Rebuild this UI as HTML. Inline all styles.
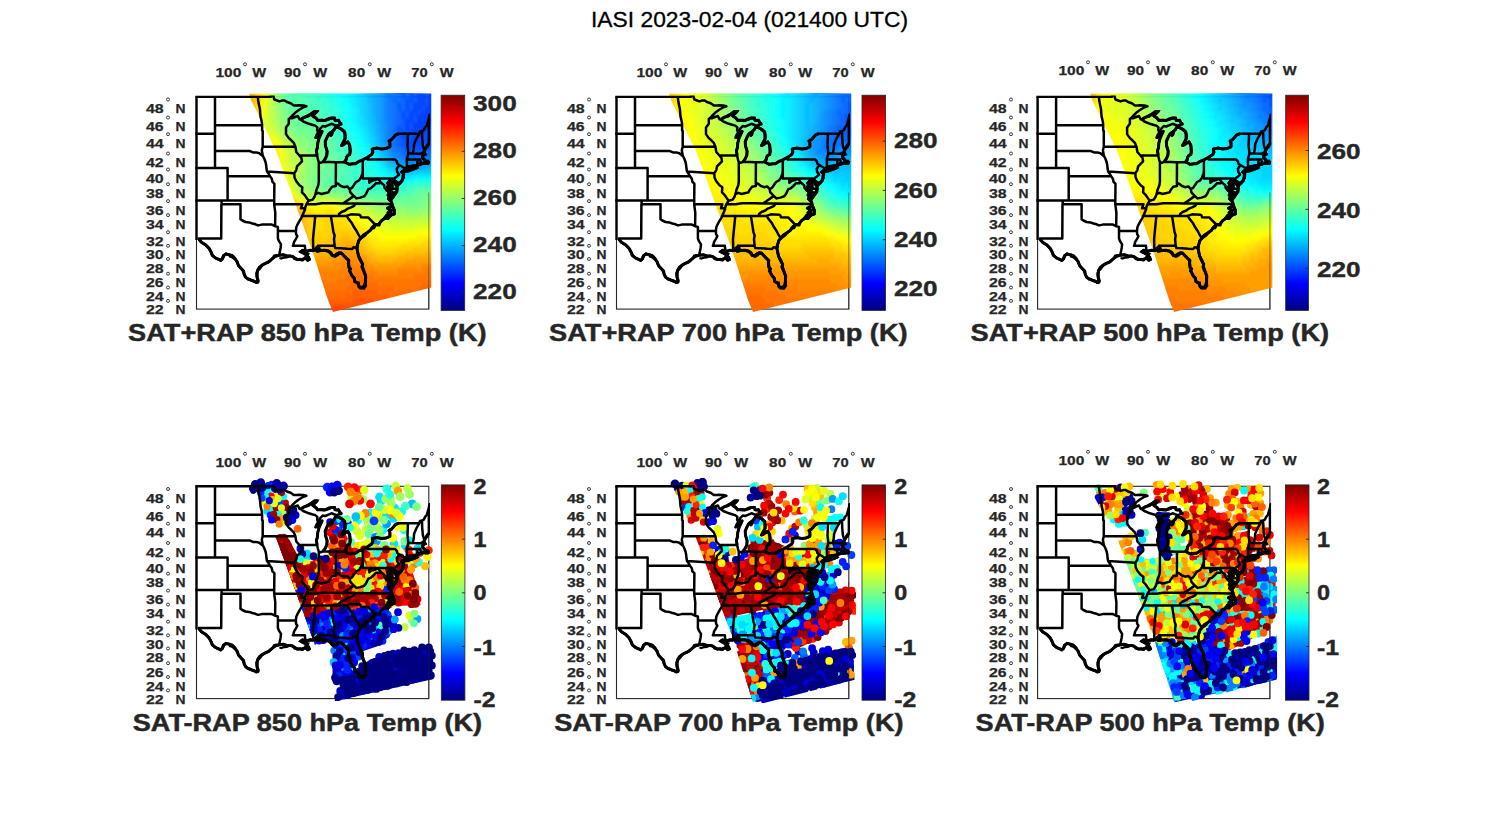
<!DOCTYPE html>
<html><head><meta charset="utf-8"><style>html,body{margin:0;padding:0;background:#fff;}svg{display:block;}</style></head>
<body><svg width="1500" height="825" viewBox="0 0 1500 825" font-family="'Liberation Sans', sans-serif">
<defs><linearGradient id="jet" x1="0" y1="1" x2="0" y2="0"><stop offset="0" stop-color="#000080"/><stop offset="0.125" stop-color="#0000ff"/><stop offset="0.375" stop-color="#00ffff"/><stop offset="0.625" stop-color="#ffff00"/><stop offset="0.875" stop-color="#ff0000"/><stop offset="1" stop-color="#800000"/></linearGradient><filter id="blur" x="-5%" y="-5%" width="110%" height="110%"><feGaussianBlur stdDeviation="1.6"/></filter><clipPath id="fc"><rect x="-1.2" y="-1.2" width="234.7" height="214.7"/></clipPath><g id="map"><path d="M-6.3,0.0 74.4,0.0 74.4,-3.6 76.4,-3.1 77.4,1.4 77.9,2.7 82.9,4.6 85.4,3.8 88.2,3.6 90.4,5.2 94.2,6.5 97.3,8.8 100.5,8.8 102.0,8.5 106.7,8.7 109.9,9.5M109.9,9.5 106.1,10.9 102.3,13.2 98.6,16.0 95.4,19.2 93.6,21.3M93.6,21.3 92.3,22.0 92.3,27.0 89.5,30.6 89.5,34.2 89.5,37.3 92.3,41.3 94.8,43.5 97.3,46.1 98.9,50.0M93.6,21.3 95.4,21.5 98.6,20.2 101.4,19.2 103.0,22.4 104.1,22.7M104.1,22.7 107.4,20.6 111.8,19.2 115.5,16.5 118.0,14.6 120.6,14.6 117.7,17.4 116.5,19.2 119.3,21.1 121.2,23.4 123.7,23.4 128.1,23.8 131.9,22.0 135.0,21.1 138.1,21.1 138.5,23.4 140.6,23.8 141.9,23.4 143.5,26.1 145.0,27.4M145.0,27.4 141.9,28.2 140.0,28.8 137.5,27.9 135.0,27.0 131.9,28.4 128.7,29.7 126.2,29.3 125.3,30.2 123.7,31.9 122.8,34.2 121.8,36.0M104.1,22.7 106.7,24.7 112.4,27.0 115.5,27.9 118.7,28.8 120.9,30.6 120.6,33.3 121.8,36.0M121.8,36.0 120.2,38.6 119.3,40.8 121.8,38.6 124.3,36.0 125.6,34.6 124.0,38.2 122.8,40.4 122.1,43.0 121.2,46.5 120.9,50.9 119.9,53.9 120.6,58.6M120.6,58.6 121.5,62.8 122.3,65.4M122.3,65.4 124.3,66.0 126.7,64.9M126.7,64.9 128.7,62.0 130.3,58.6 130.6,54.3 129.0,49.1 128.7,44.8 130.6,40.4 132.2,37.3 134.4,35.5 134.4,38.6 135.3,37.7 135.9,34.6 137.8,32.8 139.1,30.2M139.1,30.2 142.5,31.1 145.7,32.8 148.2,35.1 148.5,38.2 148.5,42.2 146.9,45.2 145.0,48.7 147.2,47.8 149.4,46.1 151.3,45.2 153.2,48.3 153.8,54.3 153.2,57.7 151.3,58.6 150.1,60.3 149.4,63.3 147.9,65.1M147.9,65.1 150.1,66.2 152.6,67.5 157.0,67.0 158.9,67.0 162.0,64.9 166.3,63.0 171.0,60.5 175.2,57.7 176.4,55.2 175.5,52.2M175.5,52.2 180.2,51.3 185.2,52.2 189.6,51.7 193.4,50.0 193.4,46.1 192.5,44.3 195.3,42.6 199.0,38.2 202.5,36.9M202.5,36.9 222.9,36.8 223.5,34.6 225.5,34.2 227.3,33.3 228.6,30.6 230.4,28.4 232.3,21.5 233.0,17.9M233.6,46.1 231.1,48.3 228.6,52.6 227.3,55.4 228.6,57.3 226.0,59.0 226.4,61.1 228.2,63.3 228.9,64.9 232.3,64.9M232.3,66.6 228.6,66.6 226.7,66.2 225.4,67.0 223.5,67.5 222.9,67.0 220.7,68.5 216.6,69.1 213.5,69.6 209.4,71.4 208.5,72.5 207.2,73.7M208.5,72.7 212.2,71.6 216.0,71.2 219.8,70.4 220.4,70.8 216.6,72.5 212.2,74.1 207.8,74.8M207.2,73.7 205.6,75.4 207.2,77.0 206.9,81.1 205.3,84.0 203.4,86.0 201.6,88.2 201.2,86.4 199.7,85.2 197.8,83.6 197.5,82.5M197.5,82.5 198.1,85.2 199.0,87.6 200.3,89.2 200.6,92.0 200.0,94.8 198.4,97.2 196.8,100.0 195.0,102.4M195.0,102.4 195.3,98.8 194.6,96.4 195.6,95.2 193.4,93.2 194.6,92.0 192.8,89.6 194.0,88.0 193.1,86.0 194.3,84.4 194.0,83.2M194.0,83.2 192.1,85.2 191.2,86.4 192.1,88.0 191.2,90.0 192.1,92.4 190.3,93.2 192.5,94.8 192.8,96.0 191.5,98.4 192.8,99.6 192.1,102.0 193.4,103.6 194.6,104.2 195.0,105.5 195.5,107.1M195.5,107.1 196.5,110.6 197.8,113.3 197.8,117.2 195.3,117.9 193.4,119.5 191.5,121.8 188.4,121.4 185.2,123.7 183.0,126.3 182.4,127.8 178.6,127.7M195.3,109.8 190.9,111.4 194.6,113.7 191.5,116.0 194.6,116.4 189.6,119.1 192.8,119.8M178.6,127.7 175.2,131.2 173.9,133.5 170.2,136.1 167.0,138.3 165.1,140.2 164.2,141.3M164.2,141.3 162.3,143.9 161.4,146.8 160.4,149.8 160.4,151.2M160.4,151.2 161.1,154.9 162.0,159.2 163.9,163.5 166.1,167.5 165.8,170.0 167.3,174.2 169.2,179.2 168.9,184.8 168.3,188.3 166.7,190.3 163.9,190.7 162.6,189.7 161.4,186.5 158.5,184.8 157.6,181.3 155.7,179.2 153.8,175.6 152.9,173.9 154.1,172.1 152.6,170.7 152.0,166.4 152.3,163.5 150.1,161.7 147.6,159.2 145.0,156.3 142.5,156.0 140.6,157.0 138.1,158.9 135.9,158.5 134.4,156.0 131.9,154.1 128.1,153.4 124.3,153.8 122.1,154.3M122.1,154.3 120.6,154.5 119.6,151.6 118.7,153.4 116.8,153.6M116.8,153.6 113.6,153.4 111.1,154.1 109.3,155.0M109.3,155.0 109.9,156.0 108.0,157.0 110.5,157.8 109.3,159.9 111.8,161.4 113.0,162.5 111.1,163.5 109.3,161.4 106.7,162.1 106.1,163.2 103.6,162.8 101.1,162.8 98.6,161.4 96.1,159.6 93.6,159.2 90.4,159.2 86.7,158.0 82.6,158.5M109.3,155.0 106.1,153.8 104.2,154.9 106.1,156.0 108.3,154.9M82.6,158.5 79.7,159.2 76.9,161.0 74.7,162.8 71.6,165.3 67.8,167.1 65.3,168.5 62.8,170.7 61.2,173.2 60.6,176.3 60.6,180.6 61.5,184.8 61.8,185.1M61.8,185.1 59.7,185.5 57.8,184.4 54.6,183.4 51.5,182.3 49.3,180.6 47.7,177.8 47.1,174.2 44.6,171.7 42.1,168.9 40.5,165.0 38.3,161.4 35.8,158.9 32.7,157.8 29.5,157.2 27.0,158.9 25.7,162.1 24.2,163.7 22.0,162.5 18.8,161.0 15.7,158.5 14.4,154.9 12.6,151.6 9.4,148.3 5.0,145.4 3.1,143.3 2.4,141.7M2.4,141.7 24.7,141.7M24.7,141.7 24.9,107.5M24.9,107.5 44.0,107.5 44.0,122.4M44.0,122.4 45.8,123.7 49.0,125.2 52.7,125.6 55.9,126.7 59.0,127.5 61.5,128.6 65.3,127.8 69.1,127.8 72.2,127.6 75.3,127.8 78.6,129.4M78.6,129.4 81.4,130.1 81.4,134.1M81.4,134.1 81.4,141.7 82.6,144.6 84.5,147.6 84.1,151.2 83.5,154.1 82.6,158.5M81.4,134.1 99.4,134.2M77.7,107.5 78.8,116.0 78.6,129.4M25.1,103.6 77.7,103.6M-6.3,103.6 25.1,103.6M25.1,103.6 25.1,107.5M31.1,71.2 31.1,103.6M31.1,79.5 73.5,79.5M-6.3,71.2 31.1,71.2M18.5,0.0 18.5,71.2M-6.3,36.9 18.5,36.9M18.5,28.4 65.6,28.4M18.5,54.3 53.4,54.3 56.5,55.6 59.7,55.6 62.8,56.5 65.3,58.6 66.2,58.7M61.3,0.0 61.8,4.8 63.4,12.3 64.0,19.7 65.3,25.2 65.6,28.4M65.6,28.4 65.6,33.7 66.2,34.2 66.2,50.0M66.2,50.0 98.9,50.0M66.2,50.0 65.3,53.5 66.2,58.7M66.2,58.7 67.8,62.0 69.1,65.4 69.7,68.7 70.0,72.0 70.5,74.7 72.2,77.0 73.5,79.5M70.5,74.7 97.8,76.4M73.5,79.5 75.3,81.9 76.0,85.2 77.9,86.8 77.7,103.6 77.7,107.5M77.7,107.5 105.8,107.5 104.5,111.4 108.4,111.4M99.4,134.2 99.5,137.2 100.8,139.4 99.5,142.0 97.6,145.0 97.0,147.6 96.4,149.0 108.4,149.0 108.6,152.0 109.3,155.0M99.4,134.2 99.8,130.5 101.1,127.5 103.0,124.0 104.9,121.0 106.1,118.3 107.4,115.2 108.6,112.5 108.4,111.4 109.9,107.5 112.1,103.9M112.1,103.9 109.9,100.8 108.0,98.0 105.5,95.6 105.8,90.4 103.0,88.4 99.8,84.4 98.0,80.7 97.8,76.4 99.8,73.3 100.5,69.6 103.0,67.0 105.5,64.5 104.9,61.1 102.7,58.5 99.8,55.2 98.9,50.0M102.7,58.5 120.6,58.6M122.3,65.4 122.3,84.8 121.8,88.4 119.9,93.2 119.0,97.2M119.0,97.2 118.0,100.0 116.2,102.8 112.1,103.9M126.7,64.9 139.4,65.4 147.9,65.1M139.4,65.4 139.3,86.8M119.0,97.2 121.8,96.0 125.0,97.2 128.1,96.4 131.9,95.6 133.1,93.2 135.6,90.0 139.4,89.2 139.3,86.8M139.3,86.8 141.3,86.8 144.4,89.2 147.6,90.4 150.7,89.6 153.2,92.4M153.2,92.4 153.8,95.6 155.7,97.6 157.2,99.3M153.2,92.4 155.7,90.8 157.6,88.0 159.5,85.2 162.6,83.6 164.5,80.7 165.8,77.0 166.3,74.2M166.3,74.2 166.3,63.0M166.3,74.2 166.3,81.8 196.0,81.8M172.8,81.8 172.8,86.0 175.2,84.0 179.0,83.2 181.5,81.9 183.8,85.0M183.8,85.0 185.5,86.8 187.7,88.4 188.1,91.2 190.3,93.6 192.8,96.0M157.2,99.3 160.1,101.6 163.9,100.8 167.6,99.6 169.5,97.2 171.7,92.4 174.2,91.6 176.8,89.2 179.6,86.4 183.3,86.4 183.8,85.0M157.2,99.3 153.8,101.6 150.1,104.3 146.4,106.7M146.4,106.7 138.1,106.5 131.9,106.5 125.6,106.5 119.0,107.5 109.9,107.5M146.4,106.7 159.0,106.8M159.0,106.8 195.5,107.1M159.0,106.8 157.6,109.0 154.5,110.6 151.3,111.8 148.8,113.7 145.0,115.2 142.5,117.2 142.4,119.2M142.4,119.2 118.0,119.1 105.5,119.1M142.4,119.2 150.1,119.1M150.1,119.1 154.5,117.5 162.9,117.9 163.9,118.7 164.5,120.5 171.6,120.6 178.6,127.7M150.1,119.1 152.0,122.1 155.1,125.9 157.6,130.5 160.1,134.2 162.0,138.0 164.2,141.3M134.4,119.1 136.9,135.0 138.1,138.7 137.5,142.4 138.1,149.0M138.1,149.0 138.8,151.2 144.4,151.4 150.7,152.0 155.7,152.2 157.0,150.5 160.4,151.2M138.1,149.0 121.8,149.0 123.1,152.0 122.1,154.3M118.0,119.1 118.7,119.8 116.5,142.4 116.8,153.6M171.0,60.5 171.0,62.8 198.7,62.8 200.3,64.5 200.9,67.0 202.9,68.2M202.9,68.2 207.8,71.2M202.9,68.2 200.3,72.0 200.6,74.9 202.5,77.8 200.3,79.9 198.4,81.1 197.5,82.5M196.0,81.8 196.0,92.0 200.6,92.0M195.3,96.0 199.4,95.4M211.4,36.9 211.3,42.2 211.0,49.1 211.9,56.5M211.9,56.5 210.3,62.4M210.3,62.4 210.5,69.6 209.4,71.4M222.9,36.8 219.8,42.2 217.6,47.4 217.3,51.7 216.3,56.6M211.9,56.5 216.3,56.6M216.3,56.6 224.2,56.9 227.3,55.4M225.5,34.2 225.7,41.3 226.4,49.1 227.9,53.5M210.3,62.4 221.0,62.7 223.7,62.7 224.2,64.9 225.3,67.0M221.0,62.7 220.7,68.5" fill="none" stroke="#000" stroke-width="2.5" stroke-linejoin="round" stroke-linecap="round" clip-path="url(#fc)"/><path d="M104.1,22.7 107.4,20.6 111.8,19.2 115.5,16.5 118.0,14.6 120.6,14.6 117.7,17.4 116.5,19.2 119.3,21.1 121.2,23.4 123.7,23.4 128.1,23.8 131.9,22.0 135.0,21.1 138.1,21.1 138.5,23.4 140.6,23.8 141.9,23.4 143.5,26.1 145.0,27.4M121.8,36.0 120.2,38.6 119.3,40.8 121.8,38.6 124.3,36.0 125.6,34.6 124.0,38.2 122.8,40.4 122.1,43.0 121.2,46.5 120.9,50.9 119.9,53.9 120.6,58.6M126.7,64.9 128.7,62.0 130.3,58.6 130.6,54.3 129.0,49.1 128.7,44.8 130.6,40.4 132.2,37.3 134.4,35.5 134.4,38.6 135.3,37.7 135.9,34.6 137.8,32.8 139.1,30.2M139.1,30.2 142.5,31.1 145.7,32.8 148.2,35.1 148.5,38.2 148.5,42.2 146.9,45.2 145.0,48.7 147.2,47.8 149.4,46.1 151.3,45.2 153.2,48.3 153.8,54.3 153.2,57.7 151.3,58.6 150.1,60.3 149.4,63.3 147.9,65.1M147.9,65.1 150.1,66.2 152.6,67.5 157.0,67.0 158.9,67.0 162.0,64.9 166.3,63.0 171.0,60.5 175.2,57.7 176.4,55.2 175.5,52.2M175.5,52.2 180.2,51.3 185.2,52.2 189.6,51.7 193.4,50.0 193.4,46.1 192.5,44.3 195.3,42.6 199.0,38.2 202.5,36.9M233.6,46.1 231.1,48.3 228.6,52.6 227.3,55.4 228.6,57.3 226.0,59.0 226.4,61.1 228.2,63.3 228.9,64.9 232.3,64.9M232.3,66.6 228.6,66.6 226.7,66.2 225.4,67.0 223.5,67.5 222.9,67.0 220.7,68.5 216.6,69.1 213.5,69.6 209.4,71.4 208.5,72.5 207.2,73.7M208.5,72.7 212.2,71.6 216.0,71.2 219.8,70.4 220.4,70.8 216.6,72.5 212.2,74.1 207.8,74.8M207.2,73.7 205.6,75.4 207.2,77.0 206.9,81.1 205.3,84.0 203.4,86.0 201.6,88.2 201.2,86.4 199.7,85.2 197.8,83.6 197.5,82.5M197.5,82.5 198.1,85.2 199.0,87.6 200.3,89.2 200.6,92.0 200.0,94.8 198.4,97.2 196.8,100.0 195.0,102.4M195.0,102.4 195.3,98.8 194.6,96.4 195.6,95.2 193.4,93.2 194.6,92.0 192.8,89.6 194.0,88.0 193.1,86.0 194.3,84.4 194.0,83.2M194.0,83.2 192.1,85.2 191.2,86.4 192.1,88.0 191.2,90.0 192.1,92.4 190.3,93.2 192.5,94.8 192.8,96.0 191.5,98.4 192.8,99.6 192.1,102.0 193.4,103.6 194.6,104.2 195.0,105.5 195.5,107.1M195.5,107.1 196.5,110.6 197.8,113.3 197.8,117.2 195.3,117.9 193.4,119.5 191.5,121.8 188.4,121.4 185.2,123.7 183.0,126.3 182.4,127.8 178.6,127.7M195.3,109.8 190.9,111.4 194.6,113.7 191.5,116.0 194.6,116.4 189.6,119.1 192.8,119.8M178.6,127.7 175.2,131.2 173.9,133.5 170.2,136.1 167.0,138.3 165.1,140.2 164.2,141.3M164.2,141.3 162.3,143.9 161.4,146.8 160.4,149.8 160.4,151.2M160.4,151.2 161.1,154.9 162.0,159.2 163.9,163.5 166.1,167.5 165.8,170.0 167.3,174.2 169.2,179.2 168.9,184.8 168.3,188.3 166.7,190.3 163.9,190.7 162.6,189.7 161.4,186.5 158.5,184.8 157.6,181.3 155.7,179.2 153.8,175.6 152.9,173.9 154.1,172.1 152.6,170.7 152.0,166.4 152.3,163.5 150.1,161.7 147.6,159.2 145.0,156.3 142.5,156.0 140.6,157.0 138.1,158.9 135.9,158.5 134.4,156.0 131.9,154.1 128.1,153.4 124.3,153.8 122.1,154.3M122.1,154.3 120.6,154.5 119.6,151.6 118.7,153.4 116.8,153.6M116.8,153.6 113.6,153.4 111.1,154.1 109.3,155.0M109.3,155.0 109.9,156.0 108.0,157.0 110.5,157.8 109.3,159.9 111.8,161.4 113.0,162.5 111.1,163.5 109.3,161.4 106.7,162.1 106.1,163.2 103.6,162.8 101.1,162.8 98.6,161.4 96.1,159.6 93.6,159.2 90.4,159.2 86.7,158.0 82.6,158.5M109.3,155.0 106.1,153.8 104.2,154.9 106.1,156.0 108.3,154.9M82.6,158.5 79.7,159.2 76.9,161.0 74.7,162.8 71.6,165.3 67.8,167.1 65.3,168.5 62.8,170.7 61.2,173.2 60.6,176.3 60.6,180.6 61.5,184.8 61.8,185.1M61.8,185.1 59.7,185.5 57.8,184.4 54.6,183.4 51.5,182.3 49.3,180.6 47.7,177.8 47.1,174.2 44.6,171.7 42.1,168.9 40.5,165.0 38.3,161.4 35.8,158.9 32.7,157.8 29.5,157.2 27.0,158.9 25.7,162.1 24.2,163.7 22.0,162.5 18.8,161.0 15.7,158.5 14.4,154.9 12.6,151.6 9.4,148.3 5.0,145.4 3.1,143.3 2.4,141.7" fill="none" stroke="#000" stroke-width="3.0" stroke-linejoin="round" clip-path="url(#fc)"/><path d="M109.1,155.1 109.7,155.9 108.6,156.8 111.8,157.2 110.7,159.4 112.5,160.3 112.8,162.4 111.5,162.3 109.2,161.5 107.1,162.7 106.0,162.8 103.7,162.1 101.0,163.0 98.0,162.2 96.0,159.7 93.6,159.2 90.3,160.6 87.8,160.8 86.4,161.0 85.0,161.7 82.9,161.2M194.2,102.3 194.0,100.5 195.0,98.8 194.8,96.4 194.4,95.7 190.9,94.0 193.0,92.3 192.5,89.7 193.4,88.0 191.5,85.9 192.9,83.9 193.0,83.4M194.2,83.3 192.0,85.0 191.5,86.4 192.1,88.0 190.7,90.0 192.3,92.5 190.6,93.2 192.4,94.9 193.2,96.1 192.5,98.4 192.6,99.6 191.6,102.1 193.7,103.3 194.5,104.3 194.8,105.6 196.0,106.9M194.1,107.5 195.3,109.0 197.0,110.4 197.9,113.3 197.5,115.2 197.6,117.0 195.1,117.6 193.1,119.2 191.2,121.0 188.2,120.5 186.7,122.4 185.4,123.8 184.3,125.1 183.4,126.5 182.8,128.6 180.5,128.5 178.6,128.0M194.9,108.8 192.8,109.9 191.7,111.5 193.2,111.8 195.2,113.6 193.9,116.0 192.3,115.2 194.5,116.6 192.4,116.3 190.9,117.4 189.8,119.1 191.3,119.0 192.8,119.5M159.7,151.4 160.6,153.1 161.3,154.8 161.4,157.1 162.0,159.2 163.4,161.2 164.5,163.2 165.4,165.3 166.0,167.5 165.0,170.0 165.9,172.4 167.0,174.4 167.7,176.0 168.3,177.6 168.7,179.2 168.6,181.0 169.0,182.9 169.4,184.8 169.3,186.6 169.6,188.9 167.6,191.9 163.7,191.7 162.2,190.0 162.5,187.9 162.2,185.8 160.0,185.7 158.1,185.1 158.2,183.0 157.9,181.1 155.7,179.2 154.8,177.4 154.3,175.4 153.1,173.9 153.7,172.1 152.3,170.8 152.0,168.6 151.4,166.4 151.9,163.7 150.0,161.8 149.1,160.2 147.9,158.9 146.3,157.8 144.9,156.6 142.7,156.8 141.5,158.4 138.5,160.0 135.5,159.1 133.7,156.6 131.6,154.7 129.9,154.3 128.1,153.7 126.2,153.6 124.3,153.5 122.1,154.0M82.7,159.2 79.4,158.4 77.5,158.8 76.7,160.7 74.9,163.0 73.5,164.5 71.8,165.7 69.6,166.0 67.8,167.1 65.6,169.0 64.6,170.3 63.8,171.5 61.9,173.5 60.5,174.7 59.9,176.3 59.9,178.5 60.5,180.6 61.7,182.5 62.2,184.6 62.2,184.7M233.6,46.2 232.5,47.4 231.6,48.7 231.2,50.3 229.7,51.4 228.1,52.4 227.5,55.4 229.2,57.6 225.8,58.9 225.9,61.4 228.7,63.0 229.3,64.3 230.6,64.0 232.3,63.7M232.3,66.2 230.4,66.4 228.5,66.8 226.7,66.5 225.5,67.1 223.5,67.7 223.1,67.6 221.1,69.5 218.8,69.5 216.6,68.9 213.4,69.4 211.4,70.5 209.4,71.4 208.8,72.8 207.5,74.0M208.5,72.9 210.3,72.1 212.2,71.5 214.1,71.7 216.1,72.0 218.0,71.5 219.8,70.6 220.8,71.2 218.7,72.2 216.5,72.1 214.2,72.7 212.2,73.8 210.0,74.0 207.8,74.3M109.6,154.1 108.0,153.6 106.0,153.2 103.7,154.9 106.1,155.9 108.4,155.0M122.0,153.6 121.7,153.5 120.8,149.6 117.9,152.3 116.8,153.9M116.7,154.5 113.7,153.8 111.3,154.6 109.4,155.4M178.6,127.7 178.5,129.9 177.6,131.3 175.6,131.5 173.9,133.5 172.1,134.9 170.4,136.4 169.2,138.1 167.9,139.3 165.8,140.8 164.7,141.7M164.9,141.8 163.4,142.7 162.1,143.8 161.4,146.9 161.1,149.9 161.2,151.2M62.0,185.6 59.6,186.0 57.7,184.7 56.1,184.1 54.6,183.3 53.3,182.3 51.8,181.8 49.3,180.6 48.6,179.1 47.9,177.7 47.1,176.0 46.5,174.5 45.6,173.2 44.7,171.6 43.4,170.2 42.0,168.9 41.4,166.9 40.9,164.8 39.2,163.3 37.5,162.0 36.3,160.9 34.9,160.2 33.6,160.0 32.5,158.3 29.4,156.8 27.0,158.8 27.0,160.7 26.1,162.3 24.1,163.4 22.1,162.2 20.4,161.7 18.8,161.0 17.4,159.6 16.1,158.2 15.5,156.5 14.4,154.9 13.3,153.4 12.4,151.7 11.0,149.9 9.4,148.3 7.8,147.6 6.3,146.6 4.8,145.6 3.0,143.4 2.8,141.5M104.4,23.1 105.9,21.9 107.5,20.9 109.5,19.7 111.3,18.4 113.4,17.5 115.6,16.5 118.0,14.4 120.9,14.3 119.4,16.3 117.6,17.3 116.0,19.3 117.7,20.5 119.0,21.3 121.0,23.8 123.7,23.4 126.0,23.0 128.0,23.3 130.2,23.3 132.2,22.8 133.6,22.2 135.0,21.5 138.0,21.3 138.4,23.4 140.6,23.7 142.0,23.3 143.3,26.3 144.6,27.9M139.0,30.4 140.8,30.6 142.7,30.7 144.1,31.9 145.3,33.3 146.6,34.4 148.1,35.1 148.8,38.2 149.0,40.2 148.6,42.2 147.5,43.6 147.0,45.2 146.2,47.1 145.1,48.6 147.1,47.6 149.1,45.5 151.5,44.7 152.4,46.6 153.2,48.3 153.4,50.3 153.2,52.3 153.2,54.3 153.5,56.0 153.4,57.9 151.4,58.6 150.2,60.4 149.7,63.4 147.9,65.1M196.6,82.7 197.8,85.3 199.4,87.4 200.8,89.1 201.0,92.1 200.7,95.2 198.9,97.5 196.7,99.9 195.1,102.5M206.5,73.1 204.5,75.4 206.6,77.2 206.2,79.0 205.9,80.8 205.9,82.4 205.9,84.4 204.0,86.5 201.5,88.1 202.1,85.9 200.1,84.7 197.4,83.8 196.8,82.7" fill="none" stroke="#000" stroke-width="2.2" clip-path="url(#fc)"/><path d="M0,0 V143.3M232.3,47.8V22.4" stroke="#000" stroke-width="2.4"/><path d="M232.3,95.6V212.3" stroke="#262626" stroke-width="1" opacity="0.55"/></g><clipPath id="sw0"><polygon points="52.7,-3.0 103.5,-3.6 153.5,-3.3 203.5,-3.8 235.0,-3.3 235.0,190.7 136.5,215.2 131.5,203.2 115.5,153.2 97.5,103.2 79.2,53.2 54.5,3.2"/></clipPath><clipPath id="sw1"><polygon points="52.7,-3.0 103.5,-3.6 153.5,-3.3 203.5,-3.8 235.0,-3.3 235.0,190.7 136.5,215.2 131.5,203.2 115.5,153.2 97.5,103.2 79.2,53.2 54.5,3.2"/></clipPath><clipPath id="sw2"><polygon points="52.7,-3.0 103.5,-3.6 153.5,-3.3 203.5,-3.8 235.0,-3.3 235.0,190.7 136.5,215.2 131.5,203.2 115.5,153.2 97.5,103.2 79.2,53.2 54.5,3.2"/></clipPath><clipPath id="swd0"><polygon points="50.0,-8.8 239.5,-8.8 239.5,193.2 137.5,219.2 132.5,203.2 116.5,153.2 98.5,103.2 80.2,53.2 52.5,3.2"/></clipPath><clipPath id="swd1"><polygon points="50.0,-8.8 239.5,-8.8 239.5,193.2 137.5,219.2 132.5,203.2 116.5,153.2 98.5,103.2 80.2,53.2 52.5,3.2"/></clipPath><clipPath id="swd2"><polygon points="50.0,-8.8 239.5,-8.8 239.5,193.2 137.5,219.2 132.5,203.2 116.5,153.2 98.5,103.2 80.2,53.2 52.5,3.2"/></clipPath></defs>
<rect width="1500" height="825" fill="#fff"/>
<rect x="196.5" y="96.8" width="232.3" height="212.3" fill="#fff" stroke="#262626" stroke-width="1.1"/>
<g transform="translate(196.5,96.8)"><g clip-path="url(#sw0)"><g filter="url(#blur)" stroke-width="4.5" fill="none"><path stroke="#ff9500" d="M47 -8h4M47 -4h4M47 8h4M47 12h4M47 16h4M47 40h4M47 44h4M51 52h4M55 56h4M59 64h4M63 72h4M63 76h4M67 84h4M71 92h4M75 96h4M87 108h4M91 112h4M95 116h4M99 124h4M99 128h4M99 132h4M99 136h4M99 140h4M99 144h4M99 148h4M103 156h4M147 156h12M107 160h4M143 160h20M107 164h8M135 164h8M163 164h8M115 168h20M171 168h8M203 168h20M239 168h4M179 172h20"/><path stroke="#ffaa00" d="M51 -8h4M51 -4h4M51 8h4M51 12h4M51 40h4M51 44h4M55 48h4M59 56h4M63 60h4M63 64h4M67 72h4M71 84h4M75 92h4M79 96h4M91 108h4M99 116h4M103 124h4M103 128h4M103 132h4M103 136h4M103 140h4M107 148h4M147 148h12M107 152h4M139 152h8M159 152h4M111 156h4M131 156h8M163 156h4M115 160h16M171 160h4M215 160h28M175 164h8M195 164h12"/><path stroke="#ffbf00" d="M55 -8h4M55 -4h4M55 8h4M55 12h4M51 24h4M51 28h4M51 32h4M59 48h4M63 52h4M67 56h4M67 60h4M71 68h4M71 72h4M75 84h4M79 92h4M83 96h4M91 104h4M107 120h4M107 124h4M107 128h4M143 140h12M111 144h4M135 144h8M155 144h8M111 148h8M127 148h8M163 148h4M115 152h16M167 152h4M235 152h8M171 156h8M207 156h20M179 160h20"/><path stroke="#ffdf00" d="M59 -8h4M59 12h4M59 16h4M59 40h4M63 44h4M75 52h4M75 56h4M75 60h4M75 64h4M79 76h4M79 80h4M83 88h4M87 96h4M91 100h4M103 108h4M107 112h4M111 116h8M127 116h12M119 120h12M135 120h8M119 124h8M139 124h12M119 128h8M147 128h8M119 132h8M155 132h8M163 136h4M167 140h4M171 144h4M227 144h16M175 148h4M203 148h20M179 152h20"/><path stroke="#fff400" d="M63 -8h4M63 -4h4M63 8h4M63 12h4M59 28h4M71 44h4M75 48h4M79 52h4M79 56h4M79 60h4M79 64h4M79 68h4M83 76h4M83 80h4M87 88h4M91 96h4M95 100h4M107 108h4M115 112h16M135 112h4M143 116h4M151 120h4M155 124h8M163 128h4M167 132h4M171 136h4M175 140h8M219 140h16M183 144h28"/><path stroke="#eaff15" d="M67 -8h4M67 -4h4M67 0h4M67 8h4M67 12h4M67 16h4M75 40h4M79 44h4M83 48h4M87 68h4M87 72h4M91 84h4M91 88h4M95 96h4M99 100h4M107 104h4M119 108h4M139 108h4M147 112h4M159 116h4M167 120h4M171 124h4M175 128h8M183 132h8M219 132h20"/><path stroke="#caff35" d="M71 -8h4M71 -4h4M71 0h4M71 4h4M71 8h4M71 12h4M71 16h4M71 20h4M71 24h4M71 28h4M75 32h4M79 36h4M87 48h4M91 56h4M91 60h4M91 64h4M95 68h4M95 72h4M95 76h4M95 80h4M95 84h4M95 88h4M99 96h4M119 104h8M131 104h8M147 108h8M163 112h4M171 116h4M179 120h4M187 124h8M231 124h12M207 128h12"/><path stroke="#aaff55" d="M75 -8h4M75 -4h4M75 0h4M79 24h4M79 28h4M87 40h4M91 44h4M95 48h4M99 56h4M99 60h4M103 68h4M103 72h4M103 76h4M107 96h4M119 100h12M147 104h4M175 112h4M187 116h8M235 116h8M199 120h28"/><path stroke="#8aff75" d="M79 -8h4M79 -4h4M79 0h4M83 16h4M83 20h4M87 28h4M91 36h4M95 40h4M99 44h8M103 48h8M107 52h4M111 56h4M111 60h4M111 64h4M111 68h4M111 72h4M111 76h4M111 80h4M107 84h4M111 88h4M111 92h8M123 96h4M147 100h4M163 104h4M179 108h8M231 108h12M195 112h20M223 112h8"/><path stroke="#75ff8a" d="M83 -8h4M83 -4h4M83 0h4M87 12h4M87 16h4M91 20h4M91 24h4M91 28h4M95 32h4M99 36h12M107 40h12M111 44h12M115 48h8M119 52h8M119 56h8M123 60h4M123 64h4M123 68h4M123 72h4M119 76h4M119 80h4M115 84h8M119 88h4M123 92h4M131 96h16M155 100h4M227 100h16M175 104h12M223 104h8M203 108h24"/><path stroke="#60ff9f" d="M87 -8h4M87 -4h4M87 0h4M91 4h4M91 8h12M95 12h12M99 16h8M99 20h12M99 24h20M107 28h16M119 32h8M123 36h4M127 40h4M127 44h4M127 48h8M131 52h4M131 56h8M135 60h4M135 64h4M135 68h4M131 72h8M131 76h4M127 80h8M127 84h4M127 88h8M135 92h12M219 96h8M235 96h8M163 100h28M207 100h12"/><path stroke="#55ffaa" d="M91 -8h4M91 -4h8M91 0h16M95 4h16M103 8h8M107 12h8M107 16h12M111 20h12M119 24h8M123 28h4M127 32h4M127 36h4M131 40h4M131 44h4M135 48h4M135 52h4M139 56h4M139 60h4M139 64h8M139 68h8M139 72h8M135 76h12M135 80h8M131 84h12M135 88h12M147 92h8M223 92h12M155 96h4M215 96h4M191 100h16"/><path stroke="#4affb5" d="M95 -8h12M99 -4h12M107 0h4M111 4h4M111 8h8M115 12h8M119 16h4M123 20h4M127 24h4M127 28h4M131 32h4M131 36h4M135 40h4M135 44h4M139 48h4M139 52h4M143 56h4M143 60h4M147 64h4M147 68h4M147 72h4M147 76h4M143 80h8M143 84h8M147 88h8M155 92h4M219 92h4M235 92h8M159 96h56"/><path stroke="#40ffbf" d="M107 -8h4M111 -4h4M111 0h8M115 4h8M119 8h4M123 12h4M123 16h8M127 20h4M131 24h4M131 28h4M135 32h4M135 36h4M139 40h4M139 44h4M143 48h4M143 52h4M147 56h4M147 60h8M151 64h4M151 68h4M151 72h4M151 76h4M151 80h4M151 84h4M155 88h4M159 92h4M211 92h8"/><path stroke="#35ffca" d="M111 -8h8M115 -4h8M119 0h4M123 4h4M123 8h8M127 12h4M131 16h4M131 20h4M135 24h4M135 28h4M139 32h4M139 36h4M143 40h4M143 44h4M147 48h4M147 52h4M151 56h4M155 60h4M155 64h4M155 68h8M155 72h8M155 76h8M155 80h8M155 84h8M159 88h4M219 88h24M163 92h48"/><path stroke="#2bffd4" d="M119 -8h4M123 -4h4M123 0h8M127 4h4M131 8h4M131 12h8M135 16h4M135 20h4M139 24h4M139 28h4M143 36h4M147 44h4M151 48h4M151 52h4M155 56h4M159 60h4M159 64h4M163 68h4M163 72h4M163 76h4M163 80h4M163 84h8M163 88h24M211 88h8"/><path stroke="#20ffdf" d="M123 -8h8M127 -4h4M131 0h4M131 4h8M135 8h4M139 12h4M139 16h4M139 20h4M143 24h4M143 28h4M143 32h4M147 36h4M147 40h4M151 44h4M155 48h4M155 52h4M159 56h4M163 60h4M163 64h4M167 68h4M167 72h4M167 76h8M167 80h8M171 84h12M187 88h24"/><path stroke="#15ffea" d="M131 -8h4M131 -4h8M135 0h8M139 4h4M139 8h4M143 12h4M143 16h4M143 20h4M147 24h4M147 28h4M147 32h4M151 36h4M151 40h4M155 44h4M159 48h4M159 52h4M163 56h4M167 60h4M167 64h4M171 68h4M171 72h8M175 76h4M175 80h8M183 84h8M219 84h24"/><path stroke="#0bfff4" d="M135 -8h8M139 -4h8M143 0h4M143 4h4M143 8h8M147 12h4M147 16h4M147 20h4M151 28h4M151 32h4M155 36h4M155 40h4M159 44h4M163 52h4M167 56h4M171 64h4M175 68h4M179 76h4M183 80h4M191 84h28"/><path stroke="#00ffff" d="M143 -8h4M147 -4h4M147 0h4M147 4h4M151 8h4M151 12h4M151 16h4M151 20h4M151 24h4M155 28h4M155 32h4M159 36h4M159 40h4M163 44h4M163 48h4M167 52h4M171 60h4M175 64h4M179 68h4M179 72h4M183 76h4M187 80h8"/><path stroke="#00f4ff" d="M147 -8h4M151 -4h4M151 0h4M151 4h4M155 12h4M155 16h4M155 20h4M155 24h4M159 28h4M159 32h4M163 36h4M163 40h4M167 48h4M171 56h4M175 60h4M183 72h4M187 76h4M195 80h4M219 80h24"/><path stroke="#00eaff" d="M151 -8h4M155 -4h4M155 0h4M155 4h4M155 8h4M159 12h4M159 16h4M159 20h4M159 24h4M163 32h4M167 40h4M167 44h4M171 48h4M171 52h4M175 56h4M179 64h4M183 68h4M187 72h4M191 76h4M199 80h20"/><path stroke="#00dfff" d="M155 -8h4M159 -4h4M159 0h4M159 4h4M159 8h4M163 20h4M163 24h4M163 28h4M167 32h4M167 36h4M171 44h4M175 52h4M179 60h4M183 64h4M195 76h4M239 76h4"/><path stroke="#00d4ff" d="M159 -8h4M163 -4h4M163 0h4M163 4h4M163 8h4M163 12h4M163 16h4M167 24h4M167 28h4M171 36h4M171 40h4M175 48h4M179 56h4M187 68h4M191 72h4M199 76h8M219 76h20"/><path stroke="#00caff" d="M163 -8h4M167 0h4M167 4h4M167 8h4M167 12h4M167 16h4M167 20h4M171 28h4M171 32h4M175 40h4M175 44h4M179 52h4M183 60h4M187 64h4M195 72h4M207 76h12"/><path stroke="#00bfff" d="M167 -8h4M167 -4h4M171 8h4M171 12h4M171 16h4M171 20h4M171 24h4M175 32h4M175 36h4M179 48h4M183 56h4M191 68h4M199 72h4M231 72h12"/><path stroke="#00b5ff" d="M171 -8h4M171 -4h4M171 0h4M171 4h4M175 20h4M175 24h4M175 28h4M179 40h4M179 44h4M183 52h4M187 60h4M191 64h4M195 68h4M203 72h28"/><path stroke="#00aaff" d="M175 -8h4M175 -4h4M175 0h4M175 4h4M175 8h4M175 12h4M175 16h4M179 28h4M179 32h4M179 36h4M183 48h4M187 56h4M199 68h4M235 68h8"/><path stroke="#009fff" d="M179 -8h4M179 -4h4M179 0h4M179 4h4M179 8h4M179 12h4M179 16h4M179 20h4M179 24h4M183 36h4M183 40h4M183 44h4M187 52h4M191 60h4M195 64h4M203 68h4M227 68h8"/><path stroke="#0095ff" d="M183 -8h4M183 -4h4M183 0h4M183 4h4M183 8h4M183 12h4M183 16h4M183 20h4M183 24h4M183 28h4M183 32h4M187 48h4M191 56h4M199 64h4M235 64h8M207 68h20"/><path stroke="#008aff" d="M187 -8h4M187 28h4M187 32h4M187 36h4M187 40h4M187 44h4M191 52h4M195 60h4M239 60h4M203 64h4M227 64h8"/><path stroke="#0080ff" d="M191 -8h4M187 -4h8M187 0h4M187 4h4M187 8h4M187 12h4M187 16h4M187 20h4M187 24h4M191 44h4M191 48h4M195 56h4M199 60h4M235 60h4M207 64h20"/><path stroke="#0075ff" d="M195 -8h4M195 -4h4M191 0h8M191 4h4M191 8h4M191 12h4M191 16h4M191 20h4M191 24h4M191 28h4M191 32h4M191 36h4M191 40h4M195 52h4M199 56h4M235 56h8M203 60h4M227 60h8"/><path stroke="#006aff" d="M199 -8h4M199 -4h4M199 0h4M195 4h8M195 8h4M195 12h4M195 16h4M195 20h4M195 24h4M195 28h4M195 32h4M195 36h4M195 40h4M195 44h4M195 48h4M199 52h4M239 52h4M203 56h4M231 56h4M207 60h20"/><path stroke="#0060ff" d="M203 -8h8M203 -4h8M203 0h8M203 4h4M199 8h8M199 12h8M199 16h4M199 20h4M199 24h4M199 28h4M199 44h4M199 48h4M235 48h8M203 52h4M231 52h8M207 56h24"/><path stroke="#0055ff" d="M211 -8h8M211 -4h8M211 0h8M207 4h12M207 8h8M207 12h8M203 16h8M203 20h8M203 24h4M203 28h4M199 32h8M199 36h4M199 40h4M239 40h4M203 44h4M235 44h8M203 48h8M227 48h8M207 52h24"/><path stroke="#004aff" d="M219 -8h12M219 -4h12M219 0h12M219 4h12M215 8h16M215 12h12M211 16h12M211 20h8M207 24h12M207 28h8M207 32h8M235 32h8M203 36h8M231 36h12M203 40h12M227 40h12M207 44h28M211 48h16"/><path stroke="#0040ff" d="M231 -8h8M231 -4h12M231 0h12M231 4h12M231 8h12M227 12h16M223 16h20M219 20h24M219 24h24M215 28h28M215 32h20M211 36h20M215 40h12"/><path stroke="#0035ff" d="M239 -8h4"/><path stroke="#ffd500" d="M59 -4h4M59 0h4M59 4h4M59 8h4M55 24h4M55 28h4M55 32h4M67 48h4M71 52h4M75 68h4M75 72h4M79 84h4M83 92h4M95 104h4M111 120h8M131 120h4M115 124h4M127 124h12M115 128h4M127 128h20M115 132h4M127 132h28M115 136h20M155 136h8M115 140h16M163 140h4M167 144h4M171 148h4M223 148h20M175 152h4M199 152h16M183 156h12"/><path stroke="#ff8a00" d="M47 0h4M47 4h4M47 48h4M51 56h4M55 60h4M59 68h4M59 72h4M63 80h4M67 88h4M71 96h4M75 100h4M79 104h4M83 108h4M87 112h4M91 116h4M95 120h4M95 124h4M95 128h4M99 152h4M99 156h4M103 160h4M103 164h4M143 164h20M107 168h8M135 168h16M159 168h12M223 168h16M111 172h32M171 172h8M199 172h24M239 172h4M183 176h16"/><path stroke="#ff9f00" d="M51 0h4M51 4h4M47 20h4M47 24h4M47 28h4M47 32h4M47 36h4M51 48h4M55 52h4M59 60h4M63 68h4M67 76h4M67 80h4M71 88h4M79 100h4M83 104h4M95 112h4M99 120h4M103 144h4M103 148h4M103 152h4M147 152h12M107 156h4M139 156h8M159 156h4M111 160h4M131 160h12M163 160h8M115 164h20M171 164h4M207 164h36M179 168h24"/><path stroke="#ffb500" d="M55 0h4M55 4h4M51 16h4M51 20h4M51 36h4M55 44h4M59 52h4M63 56h4M67 64h4M67 68h4M71 76h4M71 80h4M75 88h4M83 100h4M87 104h4M95 108h4M99 112h4M103 116h4M103 120h4M107 132h4M107 136h4M107 140h4M107 144h4M143 144h12M135 148h12M159 148h4M111 152h4M131 152h8M163 152h4M115 156h16M167 156h4M227 156h16M175 160h4M199 160h16M183 164h12"/><path stroke="#ffea00" d="M63 0h4M63 4h4M59 20h4M59 24h4M59 32h4M59 36h4M63 40h4M67 44h4M71 48h4M79 72h4M83 84h4M87 92h4M99 104h4M111 112h4M131 112h4M119 116h8M139 116h4M143 120h8M151 124h4M155 128h8M163 132h4M167 136h4M171 140h4M235 140h8M175 144h8M211 144h16M179 148h24"/><path stroke="#f4ff0b" d="M67 4h4M63 24h4M63 28h4M63 32h4M67 36h4M71 40h4M83 52h4M83 56h4M83 60h4M83 64h4M83 68h4M87 76h4M87 80h4M91 92h4M103 104h4M111 108h8M123 108h8M135 108h4M143 112h4M151 116h8M159 120h8M167 124h4M171 128h4M175 132h8M239 132h4M183 136h44"/><path stroke="#b5ff4a" d="M75 4h4M75 8h4M75 12h4M75 16h4M75 20h4M75 24h4M79 32h4M83 36h4M91 48h4M95 52h4M95 56h4M99 64h4M99 68h4M99 72h4M99 76h4M99 80h4M99 84h4M99 88h4M103 96h4M111 100h8M143 104h4M159 108h8M171 112h4M179 116h8M191 120h8M227 120h12"/><path stroke="#95ff6a" d="M79 4h4M79 8h4M79 12h4M83 24h4M83 28h4M87 32h4M99 48h4M103 52h4M107 56h4M107 60h4M107 64h4M107 68h4M107 72h4M107 76h4M107 80h4M107 88h4M107 92h4M115 96h8M139 100h8M159 104h4M175 108h4M187 112h8M231 112h8M207 116h20"/><path stroke="#80ff80" d="M83 4h4M83 8h4M83 12h4M87 20h4M87 24h4M91 32h4M95 36h4M99 40h8M107 44h4M111 48h4M111 52h8M115 56h4M115 60h8M115 64h8M115 68h8M115 72h8M115 76h4M115 80h4M111 84h4M115 88h4M119 92h4M127 96h4M151 100h4M167 104h8M231 104h12M187 108h16M227 108h4M215 112h8"/><path stroke="#6aff95" d="M87 4h4M87 8h4M91 12h4M91 16h8M95 20h4M95 24h4M95 28h12M99 32h20M111 36h12M119 40h8M123 44h4M123 48h4M127 52h4M127 56h4M127 60h8M127 64h8M127 68h8M127 72h4M123 76h8M123 80h4M123 84h4M123 88h4M127 92h8M147 96h8M227 96h8M159 100h4M219 100h8M187 104h36"/><path stroke="#ffca00" d="M55 16h4M55 20h4M55 36h4M55 40h4M59 44h4M63 48h4M67 52h4M71 56h4M71 60h4M71 64h4M75 76h4M75 80h4M79 88h4M87 100h4M99 108h4M103 112h4M107 116h4M111 124h4M111 128h4M111 132h4M111 136h4M135 136h20M111 140h4M131 140h12M155 140h8M115 144h20M163 144h4M119 148h8M167 148h4M171 152h4M215 152h20M179 156h4M195 156h12"/><path stroke="#ffff00" d="M63 16h4M63 20h4M63 36h4M67 40h4M75 44h4M79 48h4M83 72h4M87 84h4M131 108h4M139 112h4M147 116h4M155 120h4M163 124h4M167 128h4M171 132h4M175 136h8M227 136h16M183 140h36"/><path stroke="#9fff60" d="M79 16h4M79 20h4M83 32h4M87 36h4M91 40h4M95 44h4M99 52h4M103 56h4M103 60h4M103 64h4M103 80h4M103 84h4M103 88h4M103 92h4M111 96h4M131 100h8M151 104h8M167 108h8M179 112h8M239 112h4M195 116h12M227 116h8"/><path stroke="#dfff20" d="M67 20h4M67 24h4M67 28h4M67 32h4M71 36h4M87 56h4M87 60h4M87 64h4M91 72h4M91 76h4M91 80h4M151 112h4M163 116h4M171 120h4M175 124h4M183 128h8M231 128h12M191 132h28"/><path stroke="#bfff40" d="M75 28h4M83 40h4M87 44h4M91 52h4M95 60h4M95 64h4M99 92h4M107 100h4M139 104h4M155 108h4M167 112h4M175 116h4M183 120h8M239 120h4M195 124h36"/><path stroke="#d5ff2a" d="M71 32h4M75 36h4M79 40h4M83 44h4M87 52h4M91 68h4M95 92h4M103 100h4M111 104h8M127 104h4M143 108h4M155 112h8M167 116h4M175 120h4M179 124h8M191 128h16M219 128h12"/><path stroke="#ff8000" d="M47 52h4M51 60h4M55 64h4M55 68h4M59 76h4M63 84h4M67 92h4M75 104h4M79 108h4M91 120h4M95 132h4M95 136h4M95 140h4M95 144h4M95 148h4M95 152h4M99 160h4M99 164h4M103 168h4M151 168h8M107 172h4M143 172h28M223 172h16M111 176h40M171 176h12M199 176h28M235 176h8M119 180h28M179 180h36M131 184h8"/><path stroke="#ff7500" d="M47 56h4M51 64h4M55 72h4M59 80h4M63 88h4M67 96h4M71 100h4M83 112h4M87 116h4M87 120h4M91 124h4M91 128h4M91 132h4M91 136h4M91 140h4M91 144h4M91 148h4M95 156h4M95 160h4M99 168h4M103 172h4M107 176h4M151 176h20M227 176h8M111 180h8M147 180h32M215 180h28M115 184h16M139 184h20M171 184h72M123 188h28M183 188h40M131 192h16M199 192h20"/><path stroke="#ff6a00" d="M47 60h4M51 68h4M55 76h4M59 84h4M63 92h4M67 100h4M71 104h4M75 108h4M79 112h4M83 116h4M87 124h4M87 128h4M87 132h4M91 152h4M91 156h4M91 160h4M95 164h4M95 168h4M99 172h4M103 176h4M103 180h8M107 184h8M159 184h12M115 188h8M151 188h32M223 188h20M119 192h12M147 192h52M219 192h24M123 196h32M183 196h60M135 200h12M195 200h32M207 204h12"/><path stroke="#ff6000" d="M47 64h4M47 68h4M51 72h4M51 76h4M55 80h4M55 84h4M59 88h4M59 92h4M63 96h4M67 104h4M71 108h4M75 112h4M79 116h4M83 120h4M83 124h4M87 136h4M87 140h4M87 144h4M87 148h4M87 152h4M87 156h4M91 164h4M91 168h4M95 172h4M99 176h4M99 180h4M103 184h4M107 188h8M111 192h8M115 196h8M155 196h28M123 200h12M147 200h48M227 200h16M131 204h24M179 204h28M219 204h24M195 208h40"/><path stroke="#ff5500" d="M47 72h4M51 80h4M55 88h4M59 96h4M63 100h4M67 108h4M71 112h4M75 116h4M79 120h4M79 124h4M83 128h4M83 132h4M83 136h4M83 140h4M83 144h4M83 148h4M87 160h4M87 164h4M91 172h4M95 176h4M95 180h4M99 184h4M103 188h4M107 192h4M111 196h4M115 200h8M119 204h12M155 204h24M131 208h64M235 208h8M179 212h64M195 216h48"/><path stroke="#ff4a00" d="M47 76h4M51 84h4M55 92h4M59 100h4M63 104h4M71 116h4M75 120h4M79 128h4M79 132h4M79 136h4M79 140h4M83 152h4M83 156h4M83 160h4M87 168h4M87 172h4M91 176h4M91 180h4M95 184h4M99 188h4M99 192h8M103 196h8M107 200h8M115 204h4M119 208h12M127 212h52M159 216h36M183 220h60"/><path stroke="#ff4000" d="M47 80h4M51 88h4M55 96h4M59 104h4M63 108h4M67 112h4M67 116h4M71 120h4M75 124h4M75 128h4M75 132h4M79 144h4M79 148h4M79 152h4M79 156h4M83 164h4M83 168h4M83 172h4M87 176h4M87 180h4M91 184h4M95 188h4M95 192h4M99 196h4M103 200h4M107 204h8M111 208h8M119 212h8M127 216h32M147 220h36"/><path stroke="#ff3500" d="M47 84h4M47 88h4M51 92h4M51 96h4M55 100h4M59 108h4M63 112h4M67 120h4M71 124h4M71 128h4M75 136h4M75 140h4M75 144h4M75 148h4M75 152h4M79 160h4M79 164h4M79 168h4M83 176h4M87 184h4M91 188h4M91 192h4M95 196h4M99 200h4M103 204h4M107 208h4M111 212h8M119 216h8M127 220h20"/><path stroke="#ff2a00" d="M47 92h4M51 100h4M55 104h4M59 112h4M63 116h4M63 120h4M67 124h4M67 128h4M71 132h4M71 136h4M71 140h4M71 144h4M75 156h4M75 160h4M75 164h4M79 172h4M79 176h4M83 180h4M83 184h4M87 188h4M87 192h4M91 196h4M95 200h4M99 204h4M103 208h4M107 212h4M111 216h8M115 220h12"/><path stroke="#ff2000" d="M47 96h4M51 104h4M55 108h4M55 112h4M59 116h4M63 124h4M67 132h4M67 136h4M67 140h4M71 148h4M71 152h4M71 156h4M71 160h4M75 168h4M75 172h4M75 176h4M79 180h4M79 184h4M83 188h4M83 192h4M87 196h4M91 200h4M91 204h8M95 208h8M99 212h8M103 216h8M111 220h4"/><path stroke="#ff1500" d="M47 100h4M47 104h4M51 108h4M55 116h4M59 120h4M59 124h4M63 128h4M63 132h4M63 136h4M67 144h4M67 148h4M67 152h4M67 156h4M71 164h4M71 168h4M71 172h4M75 180h4M75 184h4M79 188h4M79 192h4M83 196h4M87 200h4M87 204h4M91 208h4M95 212h4M99 216h4M103 220h8"/><path stroke="#ff0b00" d="M47 108h4M51 112h4M51 116h4M55 120h4M55 124h4M59 128h4M59 132h4M63 140h4M63 144h4M63 148h4M63 152h4M67 160h4M67 164h4M67 168h4M71 176h4M71 180h4M75 188h4M79 196h4M83 200h4M83 204h4M87 208h4M91 212h4M95 216h4M99 220h4"/><path stroke="#ff0000" d="M47 112h4M51 120h4M55 128h4M55 132h4M59 136h4M59 140h4M59 144h4M59 148h4M63 156h4M63 160h4M63 164h4M67 172h4M67 176h4M67 180h4M71 184h4M71 188h4M75 192h4M75 196h4M79 200h4M79 204h4M83 208h4M87 212h4M91 216h4M95 220h4"/><path stroke="#f40000" d="M47 116h4M47 120h4M51 124h4M51 128h4M55 136h4M55 140h4M55 144h4M59 152h4M59 156h4M59 160h4M63 168h4M63 172h4M63 176h4M67 184h4M67 188h4M71 192h4M71 196h4M75 200h4M75 204h4M79 208h4M83 212h4M87 216h4M87 220h8"/><path stroke="#ea0000" d="M47 124h4M47 128h4M51 132h4M51 136h4M51 140h4M55 148h4M55 152h4M55 156h4M59 164h4M59 168h4M59 172h4M63 180h4M63 184h4M67 192h4M71 200h4M75 208h4M79 212h4M83 216h4M83 220h4"/><path stroke="#df0000" d="M47 132h4M47 136h4M51 144h4M51 148h4M51 152h4M55 160h4M55 164h4M55 168h4M59 176h4M59 180h4M59 184h4M63 188h4M63 192h4M67 196h4M67 200h4M71 204h4M71 208h4M75 212h4M79 216h4M79 220h4"/><path stroke="#d50000" d="M47 140h4M47 144h4M47 148h4M47 152h4M51 156h4M51 160h4M51 164h4M51 168h4M55 172h4M55 176h4M55 180h4M59 188h4M59 192h4M63 196h4M63 200h4M67 204h4M67 208h4M71 212h4M75 216h4M75 220h4"/><path stroke="#ca0000" d="M47 156h4M47 160h4M47 164h4M51 172h4M51 176h4M55 184h4M55 188h4M59 196h4M59 200h4M63 204h4M63 208h4M67 212h4M71 216h4M71 220h4"/><path stroke="#bf0000" d="M47 168h4M47 172h4M47 176h4M51 180h4M51 184h4M51 188h4M55 192h4M55 196h4M59 204h4M63 212h4M67 216h4M67 220h4"/><path stroke="#b50000" d="M47 180h4M47 184h4M51 192h4M51 196h4M55 200h4M55 204h4M59 208h4M59 212h4M63 216h4M63 220h4"/><path stroke="#aa0000" d="M47 188h4M47 192h4M51 200h4M51 204h4M55 208h4M55 212h4M59 216h4M59 220h4"/><path stroke="#9f0000" d="M47 196h4M47 200h4M51 208h4M51 212h4M55 216h4"/><path stroke="#950000" d="M47 204h4M47 208h4M51 216h4M55 220h4"/><path stroke="#8a0000" d="M47 212h4M47 216h4M51 220h4"/><path stroke="#800000" d="M47 220h4"/></g></g></g>
<use href="#map" x="196.5" y="96.8"/>
<text x="215.4" y="77.0" font-size="13.5" textLength="25.9" lengthAdjust="spacingAndGlyphs" font-weight="bold" fill="#262626" stroke="#262626" stroke-width="0.25">100</text>
<text x="252.2" y="77.0" font-size="13.5" textLength="13.9" lengthAdjust="spacingAndGlyphs" font-weight="bold" fill="#262626" stroke="#262626" stroke-width="0.25">W</text>
<circle cx="245.0" cy="64.3" r="1.5" fill="none" stroke="#262626" stroke-width="0.9"/>
<text x="284.0" y="77.0" font-size="13.5" textLength="17.1" lengthAdjust="spacingAndGlyphs" font-weight="bold" fill="#262626" stroke="#262626" stroke-width="0.25">90</text>
<text x="313.2" y="77.0" font-size="13.5" textLength="13.9" lengthAdjust="spacingAndGlyphs" font-weight="bold" fill="#262626" stroke="#262626" stroke-width="0.25">W</text>
<circle cx="305.0" cy="64.3" r="1.5" fill="none" stroke="#262626" stroke-width="0.9"/>
<text x="348.1" y="77.0" font-size="13.5" textLength="17.1" lengthAdjust="spacingAndGlyphs" font-weight="bold" fill="#262626" stroke="#262626" stroke-width="0.25">80</text>
<text x="377.3" y="77.0" font-size="13.5" textLength="13.9" lengthAdjust="spacingAndGlyphs" font-weight="bold" fill="#262626" stroke="#262626" stroke-width="0.25">W</text>
<circle cx="369.8" cy="64.3" r="1.5" fill="none" stroke="#262626" stroke-width="0.9"/>
<text x="411.2" y="77.0" font-size="13.5" textLength="16.4" lengthAdjust="spacingAndGlyphs" font-weight="bold" fill="#262626" stroke="#262626" stroke-width="0.25">70</text>
<text x="439.7" y="77.0" font-size="13.5" textLength="13.9" lengthAdjust="spacingAndGlyphs" font-weight="bold" fill="#262626" stroke="#262626" stroke-width="0.25">W</text>
<circle cx="431.8" cy="64.3" r="1.5" fill="none" stroke="#262626" stroke-width="0.9"/>
<text x="145.9" y="113.0" font-size="13.5" textLength="17.7" lengthAdjust="spacingAndGlyphs" font-weight="bold" fill="#262626" stroke="#262626" stroke-width="0.25">48</text>
<text x="175.5" y="113.0" font-size="13.5" textLength="10.0" lengthAdjust="spacingAndGlyphs" font-weight="bold" fill="#262626" stroke="#262626" stroke-width="0.25">N</text>
<circle cx="168.0" cy="99.5" r="1.5" fill="none" stroke="#262626" stroke-width="0.9"/>
<text x="145.9" y="131.0" font-size="13.5" textLength="17.7" lengthAdjust="spacingAndGlyphs" font-weight="bold" fill="#262626" stroke="#262626" stroke-width="0.25">46</text>
<text x="175.5" y="131.0" font-size="13.5" textLength="10.0" lengthAdjust="spacingAndGlyphs" font-weight="bold" fill="#262626" stroke="#262626" stroke-width="0.25">N</text>
<circle cx="168.0" cy="117.5" r="1.5" fill="none" stroke="#262626" stroke-width="0.9"/>
<text x="145.9" y="147.7" font-size="13.5" textLength="17.7" lengthAdjust="spacingAndGlyphs" font-weight="bold" fill="#262626" stroke="#262626" stroke-width="0.25">44</text>
<text x="175.5" y="147.7" font-size="13.5" textLength="10.0" lengthAdjust="spacingAndGlyphs" font-weight="bold" fill="#262626" stroke="#262626" stroke-width="0.25">N</text>
<circle cx="168.0" cy="134.2" r="1.5" fill="none" stroke="#262626" stroke-width="0.9"/>
<text x="145.9" y="167.0" font-size="13.5" textLength="17.7" lengthAdjust="spacingAndGlyphs" font-weight="bold" fill="#262626" stroke="#262626" stroke-width="0.25">42</text>
<text x="175.5" y="167.0" font-size="13.5" textLength="10.0" lengthAdjust="spacingAndGlyphs" font-weight="bold" fill="#262626" stroke="#262626" stroke-width="0.25">N</text>
<circle cx="168.0" cy="153.5" r="1.5" fill="none" stroke="#262626" stroke-width="0.9"/>
<text x="145.9" y="183.0" font-size="13.5" textLength="17.7" lengthAdjust="spacingAndGlyphs" font-weight="bold" fill="#262626" stroke="#262626" stroke-width="0.25">40</text>
<text x="175.5" y="183.0" font-size="13.5" textLength="10.0" lengthAdjust="spacingAndGlyphs" font-weight="bold" fill="#262626" stroke="#262626" stroke-width="0.25">N</text>
<circle cx="168.0" cy="169.5" r="1.5" fill="none" stroke="#262626" stroke-width="0.9"/>
<text x="145.9" y="197.7" font-size="13.5" textLength="17.7" lengthAdjust="spacingAndGlyphs" font-weight="bold" fill="#262626" stroke="#262626" stroke-width="0.25">38</text>
<text x="175.5" y="197.7" font-size="13.5" textLength="10.0" lengthAdjust="spacingAndGlyphs" font-weight="bold" fill="#262626" stroke="#262626" stroke-width="0.25">N</text>
<circle cx="168.0" cy="184.2" r="1.5" fill="none" stroke="#262626" stroke-width="0.9"/>
<text x="145.9" y="214.6" font-size="13.5" textLength="17.7" lengthAdjust="spacingAndGlyphs" font-weight="bold" fill="#262626" stroke="#262626" stroke-width="0.25">36</text>
<text x="175.5" y="214.6" font-size="13.5" textLength="10.0" lengthAdjust="spacingAndGlyphs" font-weight="bold" fill="#262626" stroke="#262626" stroke-width="0.25">N</text>
<circle cx="168.0" cy="201.1" r="1.5" fill="none" stroke="#262626" stroke-width="0.9"/>
<text x="145.9" y="228.6" font-size="13.5" textLength="17.7" lengthAdjust="spacingAndGlyphs" font-weight="bold" fill="#262626" stroke="#262626" stroke-width="0.25">34</text>
<text x="175.5" y="228.6" font-size="13.5" textLength="10.0" lengthAdjust="spacingAndGlyphs" font-weight="bold" fill="#262626" stroke="#262626" stroke-width="0.25">N</text>
<circle cx="168.0" cy="215.1" r="1.5" fill="none" stroke="#262626" stroke-width="0.9"/>
<text x="145.9" y="245.7" font-size="13.5" textLength="17.7" lengthAdjust="spacingAndGlyphs" font-weight="bold" fill="#262626" stroke="#262626" stroke-width="0.25">32</text>
<text x="175.5" y="245.7" font-size="13.5" textLength="10.0" lengthAdjust="spacingAndGlyphs" font-weight="bold" fill="#262626" stroke="#262626" stroke-width="0.25">N</text>
<circle cx="168.0" cy="232.2" r="1.5" fill="none" stroke="#262626" stroke-width="0.9"/>
<text x="145.9" y="259.3" font-size="13.5" textLength="17.7" lengthAdjust="spacingAndGlyphs" font-weight="bold" fill="#262626" stroke="#262626" stroke-width="0.25">30</text>
<text x="175.5" y="259.3" font-size="13.5" textLength="10.0" lengthAdjust="spacingAndGlyphs" font-weight="bold" fill="#262626" stroke="#262626" stroke-width="0.25">N</text>
<circle cx="168.0" cy="245.8" r="1.5" fill="none" stroke="#262626" stroke-width="0.9"/>
<text x="145.9" y="272.5" font-size="13.5" textLength="17.7" lengthAdjust="spacingAndGlyphs" font-weight="bold" fill="#262626" stroke="#262626" stroke-width="0.25">28</text>
<text x="175.5" y="272.5" font-size="13.5" textLength="10.0" lengthAdjust="spacingAndGlyphs" font-weight="bold" fill="#262626" stroke="#262626" stroke-width="0.25">N</text>
<circle cx="168.0" cy="259.0" r="1.5" fill="none" stroke="#262626" stroke-width="0.9"/>
<text x="145.9" y="287.2" font-size="13.5" textLength="17.7" lengthAdjust="spacingAndGlyphs" font-weight="bold" fill="#262626" stroke="#262626" stroke-width="0.25">26</text>
<text x="175.5" y="287.2" font-size="13.5" textLength="10.0" lengthAdjust="spacingAndGlyphs" font-weight="bold" fill="#262626" stroke="#262626" stroke-width="0.25">N</text>
<circle cx="168.0" cy="273.7" r="1.5" fill="none" stroke="#262626" stroke-width="0.9"/>
<text x="145.9" y="301.0" font-size="13.5" textLength="17.7" lengthAdjust="spacingAndGlyphs" font-weight="bold" fill="#262626" stroke="#262626" stroke-width="0.25">24</text>
<text x="175.5" y="301.0" font-size="13.5" textLength="10.0" lengthAdjust="spacingAndGlyphs" font-weight="bold" fill="#262626" stroke="#262626" stroke-width="0.25">N</text>
<circle cx="168.0" cy="287.5" r="1.5" fill="none" stroke="#262626" stroke-width="0.9"/>
<text x="145.9" y="314.4" font-size="13.5" textLength="17.7" lengthAdjust="spacingAndGlyphs" font-weight="bold" fill="#262626" stroke="#262626" stroke-width="0.25">22</text>
<text x="175.5" y="314.4" font-size="13.5" textLength="10.0" lengthAdjust="spacingAndGlyphs" font-weight="bold" fill="#262626" stroke="#262626" stroke-width="0.25">N</text>
<circle cx="168.0" cy="300.9" r="1.5" fill="none" stroke="#262626" stroke-width="0.9"/>
<rect x="441.1" y="95.2" width="23.6" height="215.2" fill="url(#jet)" stroke="#262626" stroke-width="0.8"/>
<text x="473.1" y="111.1" font-size="22.5" textLength="43.6" lengthAdjust="spacingAndGlyphs" font-weight="bold" fill="#262626" stroke="#262626" stroke-width="0.4">300</text>
<text x="473.1" y="157.8" font-size="22.5" textLength="43.6" lengthAdjust="spacingAndGlyphs" font-weight="bold" fill="#262626" stroke="#262626" stroke-width="0.4">280</text>
<text x="473.1" y="205.0" font-size="22.5" textLength="43.6" lengthAdjust="spacingAndGlyphs" font-weight="bold" fill="#262626" stroke="#262626" stroke-width="0.4">260</text>
<text x="473.1" y="252.2" font-size="22.5" textLength="43.6" lengthAdjust="spacingAndGlyphs" font-weight="bold" fill="#262626" stroke="#262626" stroke-width="0.4">240</text>
<text x="473.1" y="299.4" font-size="22.5" textLength="43.6" lengthAdjust="spacingAndGlyphs" font-weight="bold" fill="#262626" stroke="#262626" stroke-width="0.4">220</text>
<path d="M464.7,104.1h-3M464.7,151.3h-3M464.7,198.5h-3M464.7,245.7h-3M464.7,292.9h-3" stroke="#262626" stroke-width="0.9"/>
<text x="128.1" y="341.0" font-size="23" textLength="358.5" lengthAdjust="spacingAndGlyphs" font-weight="bold" fill="#262626" stroke="#262626" stroke-width="0.45">SAT+RAP 850 hPa Temp (K)</text>
<rect x="616.5" y="96.8" width="232.3" height="212.3" fill="#fff" stroke="#262626" stroke-width="1.1"/>
<g transform="translate(616.5,96.8)"><g clip-path="url(#sw1)"><g filter="url(#blur)" stroke-width="4.5" fill="none"><path stroke="#ffaa00" d="M47 -8h4M47 -4h4M47 0h4M47 80h4M47 84h4M47 88h4M47 92h8M51 96h4M51 100h4M51 104h8M55 108h4M55 112h8M59 116h8M63 120h4M63 124h8M67 128h8M71 132h4M71 136h8M75 140h8M79 144h8M83 148h8M87 152h8M91 156h8M95 160h12M103 164h16M199 164h16M115 168h112M223 172h12M231 176h8M235 180h8M239 184h4"/><path stroke="#ffb500" d="M51 -8h4M51 -4h4M47 4h4M47 8h4M47 56h4M47 60h4M47 64h4M47 68h4M47 72h4M47 76h8M51 80h4M51 84h4M51 88h4M55 92h4M55 96h4M55 100h8M59 104h4M59 108h8M63 112h8M67 116h4M67 120h8M71 124h8M75 128h8M75 132h8M79 136h8M83 140h8M87 144h8M91 148h8M95 152h12M99 156h12M107 160h20M135 160h16M191 160h28M119 164h80M215 164h12M227 168h8M235 172h8M239 176h4"/><path stroke="#ffca00" d="M55 -8h4M55 -4h4M51 8h4M51 12h4M51 16h4M51 20h4M51 24h4M51 28h4M51 32h4M51 36h4M51 40h4M51 44h4M51 48h4M51 52h8M55 56h4M55 60h4M55 64h4M55 68h4M55 72h8M59 76h4M59 80h4M59 84h8M63 88h4M63 92h8M67 96h4M67 100h8M71 104h4M71 108h8M75 112h8M79 116h8M83 120h8M87 124h8M91 128h8M95 132h8M99 136h8M99 140h12M107 144h12M111 148h44M119 152h44M183 152h36M159 156h28M219 156h12M231 160h8M235 164h8"/><path stroke="#ffd500" d="M59 -8h4M55 0h4M55 4h4M55 28h4M55 32h4M55 36h4M55 40h4M55 44h4M55 48h4M59 52h4M59 56h4M59 60h4M59 64h4M59 68h8M63 72h4M63 76h4M63 80h8M67 84h4M67 88h4M71 92h4M71 96h8M75 100h4M75 104h8M79 108h12M83 112h12M87 116h12M91 120h12M95 124h12M99 128h12M103 132h12M107 136h16M131 136h20M111 140h44M119 144h40M155 148h12M183 148h32M163 152h20M219 152h8M231 156h4M239 160h4"/><path stroke="#ffea00" d="M63 -8h4M59 0h4M59 4h4M59 8h4M59 12h4M59 16h4M59 20h4M59 24h4M59 28h4M63 32h4M63 36h4M63 40h4M63 44h8M67 48h4M67 52h4M67 56h4M67 60h8M71 64h4M71 68h4M71 72h8M75 76h4M75 80h8M75 84h8M79 88h8M83 92h4M83 96h8M87 100h12M95 104h12M103 108h12M107 112h12M111 116h20M119 120h36M127 124h36M155 128h12M159 132h8M163 136h8M167 140h44M215 144h8M227 148h8M235 152h8"/><path stroke="#fff400" d="M67 -8h4M63 -4h4M63 0h4M63 16h4M63 20h4M63 24h4M63 28h8M67 32h4M67 36h4M67 40h8M71 44h4M71 48h4M71 52h4M71 56h8M75 60h4M75 64h4M75 68h8M79 72h4M79 76h8M83 80h4M83 84h8M87 88h8M87 92h12M91 96h12M99 100h12M107 104h12M115 108h12M119 112h20M131 116h40M155 120h20M163 124h12M167 128h12M167 132h24M171 136h36M211 140h8M223 144h8M235 148h4"/><path stroke="#ffff00" d="M71 -8h4M67 -4h4M67 0h4M63 4h4M63 8h4M63 12h4M67 16h4M67 20h4M67 24h8M71 28h4M71 32h4M71 36h8M75 40h4M75 44h4M75 48h8M75 52h8M79 56h4M79 60h8M79 64h8M83 68h8M83 72h12M87 76h8M87 80h12M91 84h12M95 88h12M99 92h12M103 96h16M111 100h12M119 104h12M127 108h12M139 112h36M171 116h8M175 120h4M175 124h8M179 128h12M191 132h12M207 136h8M219 140h8M231 144h4M239 148h4"/><path stroke="#f4ff0b" d="M75 -8h4M71 -4h8M71 0h8M67 4h8M67 8h8M67 12h8M71 16h4M71 20h8M75 24h4M75 28h4M75 32h8M79 36h4M79 40h4M79 44h8M83 48h4M83 52h8M83 56h8M87 60h8M87 64h12M91 68h12M95 72h8M95 76h12M99 80h12M103 84h8M107 88h8M111 92h8M119 96h8M123 100h8M131 104h8M139 108h16M163 108h12M175 112h4M179 116h4M179 120h8M183 124h8M191 128h8M203 132h8M215 136h4M227 140h4M235 144h8"/><path stroke="#eaff15" d="M79 -8h4M79 -4h4M79 0h4M75 4h8M75 8h8M75 12h8M75 16h8M79 20h4M79 24h4M79 28h8M83 32h4M83 36h4M83 40h8M87 44h4M87 48h8M91 52h8M91 56h8M95 60h8M99 64h8M103 68h8M103 72h12M107 76h8M111 80h8M111 84h8M115 88h8M119 92h8M127 96h8M131 100h8M139 104h12M155 108h8M175 108h4M179 112h4M183 116h4M187 120h4M191 124h4M199 128h8M211 132h4M219 136h8M231 140h8"/><path stroke="#dfff20" d="M83 -8h4M83 -4h4M83 0h4M83 4h4M83 8h4M83 12h4M83 16h4M83 20h4M83 24h8M87 28h4M87 32h4M87 36h8M91 40h4M91 44h8M95 48h8M99 52h4M99 56h8M103 60h8M107 64h8M111 68h8M115 72h4M115 76h8M119 80h4M119 84h8M123 88h8M127 92h8M135 96h4M139 100h8M151 104h24M179 108h4M183 112h4M187 116h4M191 120h4M195 124h4M207 128h4M215 132h4M227 136h4M239 140h4"/><path stroke="#d5ff2a" d="M87 -8h4M87 -4h4M87 0h4M87 4h4M87 8h4M87 12h4M87 16h4M87 20h4M91 24h4M91 28h4M91 32h4M95 36h4M95 40h8M99 44h4M103 48h4M103 52h8M107 56h8M111 60h8M115 64h4M119 68h4M119 72h4M123 76h4M123 80h8M127 84h4M131 88h4M135 92h4M139 96h8M147 100h8M175 104h4M195 120h4M199 124h4M211 128h4M219 132h8M231 136h8"/><path stroke="#bfff40" d="M91 -8h4M95 8h4M95 12h4M95 16h4M95 20h4M99 24h4M99 28h4M103 32h4M103 36h4M107 40h4M111 44h4M111 48h8M115 52h4M119 56h4M123 60h4M123 64h4M127 68h4M131 72h4M131 76h4M135 80h4M135 84h8M139 88h4M143 92h8M151 96h4M171 100h8M187 108h4M191 112h4M195 116h4M199 120h4M207 124h4M219 128h4M231 132h8"/><path stroke="#b5ff4a" d="M95 -8h4M95 -4h4M95 0h4M95 4h4M99 12h4M99 16h4M99 20h4M103 24h4M103 28h4M107 32h4M107 36h4M111 40h4M115 44h4M119 48h4M119 52h4M123 56h4M127 60h4M127 64h4M131 68h4M135 72h4M135 76h4M139 80h4M143 84h4M143 88h4M151 92h4M155 96h8M179 100h4M183 104h4M203 120h4M211 124h4M223 128h8M239 132h4"/><path stroke="#aaff55" d="M99 -8h4M99 -4h4M99 0h4M99 4h4M99 8h4M103 16h4M103 20h4M107 24h4M107 28h4M111 32h4M111 36h4M115 40h4M119 44h4M123 48h4M123 52h4M127 56h4M131 60h4M131 64h4M135 68h4M139 76h4M143 80h4M147 88h4M155 92h4M163 96h12M187 104h4M191 108h4M195 112h4M199 116h4M207 120h4M215 124h8M231 128h8"/><path stroke="#95ff6a" d="M103 -8h4M103 -4h4M103 0h4M107 8h4M107 12h4M107 16h4M111 20h4M111 24h4M115 28h4M119 32h4M119 36h4M123 40h4M127 44h4M127 48h4M131 52h4M135 56h4M135 60h4M139 64h4M143 72h4M147 76h4M151 84h4M155 88h4M163 92h8M179 96h4M187 100h4M191 104h4M195 108h4M199 112h4M207 116h4M215 120h4M231 124h8"/><path stroke="#8aff75" d="M107 -8h4M107 -4h4M107 0h4M107 4h4M111 12h4M111 16h4M115 20h4M115 24h4M119 28h4M123 36h4M127 40h4M131 48h4M135 52h4M139 60h4M143 64h4M143 68h4M147 72h4M151 80h4M155 84h4M159 88h8M171 92h8M183 96h4M199 108h4M203 112h4M219 120h8M239 124h4"/><path stroke="#80ff80" d="M111 -8h4M111 -4h4M111 0h4M111 4h4M111 8h4M115 12h4M115 16h4M119 24h4M123 28h4M123 32h4M127 36h4M131 44h4M135 48h4M139 56h4M143 60h4M147 68h4M151 72h4M151 76h4M155 80h4M159 84h4M167 88h4M179 92h4M187 96h4M191 100h4M195 104h4M211 116h4M227 120h8"/><path stroke="#6aff95" d="M115 -8h4M115 -4h4M115 0h4M119 4h4M119 8h4M119 12h4M123 16h4M123 20h4M127 24h4M127 28h4M131 32h4M135 40h4M139 44h4M143 52h4M147 56h4M151 64h4M155 72h4M159 76h4M163 80h4M167 84h8M179 88h4M187 92h4M191 96h4M211 112h4M223 116h8"/><path stroke="#60ff9f" d="M119 -8h4M119 -4h4M119 0h4M123 8h4M123 12h4M127 16h4M127 20h4M131 28h4M135 32h4M135 36h4M139 40h4M143 48h4M147 52h4M151 60h4M155 64h4M155 68h4M159 72h4M163 76h4M167 80h4M175 84h4M183 88h4M195 96h4M199 100h4M203 104h4M207 108h4M215 112h4M231 116h12"/><path stroke="#55ffaa" d="M123 -8h4M123 -4h4M123 0h4M123 4h4M127 8h4M127 12h4M131 20h4M131 24h4M135 28h4M139 36h4M143 44h4M147 48h4M151 56h4M155 60h4M159 68h4M163 72h4M167 76h4M171 80h4M179 84h4M191 92h4M219 112h8"/><path stroke="#4affb5" d="M127 -8h4M127 -4h4M127 0h4M127 4h4M131 12h4M131 16h4M135 20h4M135 24h4M139 28h4M139 32h4M143 36h4M143 40h4M147 44h4M151 52h4M155 56h4M159 64h4M163 68h4M167 72h4M171 76h4M175 80h4M183 84h4M187 88h4M195 92h4M199 96h4M203 100h4M207 104h4M211 108h4M227 112h16"/><path stroke="#40ffbf" d="M131 -8h4M131 -4h4M131 0h4M131 4h4M131 8h4M135 12h4M135 16h4M139 20h4M139 24h4M143 32h4M147 40h4M151 44h4M151 48h4M155 52h4M159 60h4M163 64h4M179 80h4M191 88h4M203 96h4M211 104h4M215 108h8"/><path stroke="#35ffca" d="M135 -8h4M135 -4h4M135 0h4M135 4h4M135 8h4M139 12h4M139 16h4M143 24h4M143 28h4M147 32h4M147 36h4M151 40h4M155 48h4M159 56h4M163 60h4M167 68h4M171 72h4M175 76h4M183 80h4M187 84h4M195 88h4M199 92h4M207 100h4M223 108h16"/><path stroke="#2bffd4" d="M139 -8h4M139 -4h4M139 0h4M139 4h4M139 8h8M143 12h4M143 16h4M143 20h4M147 24h4M147 28h4M151 36h4M155 44h4M159 48h4M159 52h4M163 56h4M167 64h4M171 68h4M175 72h4M179 76h4M191 84h4M203 92h4M207 96h4M211 100h4M215 104h8M239 108h4"/><path stroke="#20ffdf" d="M143 -8h4M143 -4h4M143 0h4M143 4h4M147 8h4M147 12h4M147 16h4M147 20h4M151 24h4M151 28h4M151 32h4M155 36h4M155 40h4M159 44h4M163 52h4M167 60h4M171 64h4M175 68h4M183 76h4M187 80h4M195 84h4M199 88h4M211 96h4M215 100h4M223 104h12"/><path stroke="#15ffea" d="M147 -8h4M147 -4h4M147 0h8M147 4h8M151 8h4M151 12h4M151 16h4M151 20h4M155 24h4M155 28h4M155 32h4M159 36h4M159 40h4M163 48h4M167 52h4M167 56h4M171 60h4M179 72h4M191 80h4M199 84h4M203 88h4M207 92h4M219 100h4M235 104h8"/><path stroke="#0bfff4" d="M151 -8h8M151 -4h8M155 0h4M155 4h4M155 8h4M155 12h4M155 16h4M155 20h4M159 24h4M159 28h4M159 32h4M163 40h4M163 44h4M167 48h4M171 56h4M175 64h4M179 68h4M183 72h4M187 76h4M195 80h4M207 88h4M211 92h4M215 96h4M223 100h12"/><path stroke="#00ffff" d="M159 -8h4M159 -4h4M159 0h4M159 4h4M159 8h4M159 12h4M159 16h4M159 20h4M163 24h4M163 28h4M163 32h4M163 36h4M167 40h4M167 44h4M171 52h4M175 60h4M179 64h4M187 72h4M191 76h4M199 80h4M203 84h4M211 88h4M215 92h4M219 96h8M235 100h8"/><path stroke="#00f4ff" d="M163 -8h4M163 -4h4M163 0h4M163 4h8M163 8h8M163 12h8M163 16h8M163 20h8M167 24h4M167 28h4M167 32h4M167 36h4M171 44h4M171 48h4M175 56h4M179 60h4M183 68h4M195 76h4M203 80h4M207 84h4M215 88h4M219 92h4M227 96h16"/><path stroke="#00eaff" d="M167 -8h8M167 -4h8M167 0h8M171 4h4M171 8h4M171 12h4M171 16h4M171 20h4M171 24h4M171 28h4M171 32h4M171 36h4M171 40h4M175 48h4M175 52h4M179 56h4M183 64h4M187 68h4M191 72h4M199 76h4M207 80h4M211 84h4M219 88h4M223 92h8"/><path stroke="#00dfff" d="M175 -8h4M175 -4h4M175 0h4M175 4h4M175 8h4M175 12h4M175 16h4M175 20h4M175 24h4M175 28h4M175 32h4M175 36h4M175 40h4M175 44h4M179 52h4M183 60h4M195 72h4M203 76h4M211 80h4M215 84h8M223 88h8M231 92h12"/><path stroke="#00d4ff" d="M179 -8h4M179 -4h4M179 0h4M179 4h4M179 8h4M179 12h4M179 16h4M179 20h4M179 24h4M179 28h4M179 32h4M179 36h4M179 40h4M179 44h4M179 48h4M183 56h4M187 64h4M191 68h4M199 72h4M207 76h8M215 80h12M223 84h12M231 88h12"/><path stroke="#00caff" d="M183 -8h4M183 -4h4M183 0h4M183 4h4M183 8h4M183 12h4M183 16h4M183 20h4M183 24h4M183 28h4M183 32h4M183 36h4M183 40h4M183 44h4M183 48h4M183 52h4M187 60h4M191 64h4M195 68h4M203 72h8M215 76h20M227 80h16M235 84h8"/><path stroke="#00bfff" d="M187 -8h4M187 -4h4M187 0h4M187 4h4M187 8h8M187 12h8M187 16h8M187 20h8M187 24h8M187 28h8M187 32h4M187 36h4M187 40h4M187 56h4M199 68h4M223 68h12M211 72h28M235 76h8"/><path stroke="#00b5ff" d="M191 -8h4M191 -4h4M191 0h4M191 4h8M195 8h4M195 12h4M195 16h4M195 20h4M195 24h4M195 28h4M191 32h4M191 36h4M187 44h4M187 48h4M187 52h4M191 60h4M195 64h4M223 64h12M203 68h20M235 68h8M239 72h4"/><path stroke="#00aaff" d="M195 -8h4M195 -4h8M195 0h8M199 4h4M199 8h4M199 12h4M199 16h4M199 20h4M199 24h4M195 32h4M195 36h4M191 40h4M191 44h4M191 48h4M191 52h4M191 56h4M195 60h4M223 60h12M199 64h8M215 64h8M235 64h8"/><path stroke="#009fff" d="M199 -8h8M203 -4h4M203 0h4M203 4h4M203 8h4M203 12h4M203 16h4M199 28h4M199 32h4M199 36h4M195 40h4M195 56h4M199 60h4M219 60h4M235 60h8M207 64h8"/><path stroke="#0095ff" d="M207 -8h4M207 -4h4M207 0h4M207 4h4M207 8h4M207 12h4M203 20h4M203 24h4M203 28h4M203 32h4M199 40h4M195 44h4M195 48h4M195 52h4M219 56h24M203 60h16"/><path stroke="#008aff" d="M211 -8h4M211 -4h4M211 0h4M211 4h4M211 8h4M211 12h4M207 16h4M207 20h4M207 24h4M207 28h4M207 32h4M203 36h4M203 40h4M199 44h4M199 48h4M199 52h4M223 52h20M199 56h8M211 56h8"/><path stroke="#0080ff" d="M215 -8h4M215 -4h4M215 0h4M215 4h4M215 8h4M215 12h4M211 16h4M211 20h4M211 24h4M211 28h4M207 36h4M207 40h4M203 44h4M203 48h4M227 48h8M203 52h20M207 56h4"/><path stroke="#0075ff" d="M219 -8h4M219 -4h4M219 0h4M219 4h4M219 8h4M219 12h4M215 16h4M215 20h4M215 24h4M215 28h4M211 32h4M211 36h4M211 40h4M207 44h16M207 48h20M235 48h8"/><path stroke="#006aff" d="M223 -8h4M223 -4h4M223 0h8M223 4h8M223 8h4M223 12h4M219 16h8M219 20h4M219 24h4M219 28h4M215 32h4M215 36h8M215 40h12M223 44h20"/><path stroke="#0060ff" d="M227 -8h8M227 -4h8M231 0h4M231 4h4M227 8h4M227 12h4M227 16h4M223 20h4M223 24h4M223 28h4M219 32h8M223 36h8M227 40h16"/><path stroke="#0055ff" d="M235 -8h4M235 -4h4M235 0h4M235 4h4M231 8h8M231 12h8M231 16h4M227 20h8M227 24h8M227 28h8M227 32h16M231 36h12"/><path stroke="#004aff" d="M239 -8h4M239 -4h4M239 0h4M239 4h4M239 8h4M239 12h4M235 16h8M235 20h8M235 24h8M235 28h8"/><path stroke="#ffdf00" d="M59 -4h4M55 8h4M55 12h4M55 16h4M55 20h4M55 24h4M59 32h4M59 36h4M59 40h4M59 44h4M59 48h8M63 52h4M63 56h4M63 60h4M63 64h8M67 68h4M67 72h4M67 76h8M71 80h4M71 84h4M71 88h8M75 92h8M79 96h4M79 100h8M83 104h12M91 108h12M95 112h12M99 116h12M103 120h16M107 124h20M111 128h44M115 132h44M123 136h8M151 136h12M155 140h12M159 144h56M167 148h16M215 148h12M227 152h8M235 156h8"/><path stroke="#caff35" d="M91 -4h4M91 0h4M91 4h4M91 8h4M91 12h4M91 16h4M91 20h4M95 24h4M95 28h4M95 32h8M99 36h4M103 40h4M103 44h8M107 48h4M111 52h4M115 56h4M119 60h4M119 64h4M123 68h4M123 72h8M127 76h4M131 80h4M131 84h4M135 88h4M139 92h4M147 96h4M155 100h16M179 104h4M183 108h4M187 112h4M191 116h4M203 124h4M215 128h4M227 132h4M239 136h4"/><path stroke="#ffbf00" d="M51 0h4M51 4h4M47 12h4M47 16h4M47 20h4M47 24h4M47 28h4M47 32h4M47 36h4M47 40h4M47 44h4M47 48h4M47 52h4M51 56h4M51 60h4M51 64h4M51 68h4M51 72h4M55 76h4M55 80h4M55 84h4M55 88h8M59 92h4M59 96h8M63 100h4M63 104h8M67 108h4M71 112h4M71 116h8M75 120h8M79 124h8M83 128h8M83 132h12M87 136h12M91 140h8M95 144h12M99 148h12M107 152h12M111 156h48M187 156h32M127 160h8M151 160h40M219 160h12M227 164h8M235 168h8"/><path stroke="#9fff60" d="M103 4h4M103 8h4M103 12h4M107 20h4M111 28h4M115 32h4M115 36h4M119 40h4M123 44h4M127 52h4M131 56h4M135 64h4M139 68h4M139 72h4M143 76h4M147 80h4M147 84h4M151 88h4M159 92h4M175 96h4M183 100h4M203 116h4M211 120h4M223 124h8M239 128h4"/><path stroke="#75ff8a" d="M115 4h4M115 8h4M119 16h4M119 20h4M123 24h4M127 32h4M131 36h4M131 40h4M135 44h4M139 48h4M139 52h4M143 56h4M147 60h4M147 64h4M151 68h4M155 76h4M159 80h4M163 84h4M171 88h8M183 92h4M195 100h4M199 104h4M203 108h4M207 112h4M215 116h8M235 120h8"/><path stroke="#ff9f00" d="M47 96h4M47 100h4M47 104h4M51 108h4M51 112h4M55 116h4M55 120h8M59 124h4M59 128h8M63 132h8M67 136h4M67 140h8M71 144h8M75 148h8M79 152h8M83 156h8M87 160h8M91 164h12M99 168h16M107 172h116M215 176h16M227 180h8M231 184h8M235 188h8"/><path stroke="#ff9500" d="M47 108h4M47 112h4M47 116h8M51 120h4M51 124h8M55 128h4M55 132h8M59 136h8M63 140h4M63 144h8M67 148h8M71 152h8M75 156h8M79 160h8M83 164h8M87 168h12M95 172h12M103 176h112M123 180h8M155 180h72M215 184h16M223 188h12M231 192h12M235 196h8M239 200h4"/><path stroke="#ff8a00" d="M47 120h4M47 124h4M47 128h8M51 132h4M51 136h8M55 140h8M59 144h4M59 148h8M63 152h8M67 156h8M71 160h8M75 164h8M79 168h8M83 172h12M91 176h12M99 180h24M131 180h24M107 184h108M167 188h56M183 192h48M219 196h16M227 200h12M231 204h12M239 208h4"/><path stroke="#ff8000" d="M47 132h4M47 136h4M51 140h4M51 144h8M55 148h4M59 152h4M59 156h8M63 160h8M67 164h8M71 168h8M75 172h8M79 176h12M87 180h12M91 184h16M103 188h64M119 192h8M151 192h32M163 196h56M171 200h56M207 204h24M223 208h16M227 212h16M235 216h8M239 220h4"/><path stroke="#ff7500" d="M47 140h4M47 144h4M47 148h8M51 152h8M55 156h4M55 160h8M59 164h8M63 168h8M67 172h8M71 176h8M75 180h12M83 184h8M87 188h16M95 192h24M127 192h24M107 196h56M147 200h24M151 204h56M159 208h64M175 212h52M207 216h28M223 220h16"/><path stroke="#ff6a00" d="M47 152h4M47 156h8M51 160h4M55 164h4M55 168h8M59 172h8M63 176h8M67 180h8M71 184h12M79 188h8M83 192h12M91 196h16M99 200h48M107 204h44M119 208h40M131 212h44M139 216h68M151 220h72"/><path stroke="#ff6000" d="M47 160h4M47 164h8M51 168h4M55 172h4M55 176h8M59 180h8M63 184h8M67 188h12M75 192h8M79 196h12M83 200h16M91 204h16M99 208h20M107 212h24M115 216h24M123 220h28"/><path stroke="#ff5500" d="M47 168h4M47 172h8M51 176h4M55 180h4M55 184h8M59 188h8M63 192h12M71 196h8M75 200h8M79 204h12M87 208h12M91 212h16M99 216h16M107 220h16"/><path stroke="#ff4a00" d="M47 176h4M47 180h8M51 184h4M55 188h4M59 192h4M63 196h8M67 200h8M71 204h8M75 208h12M79 212h12M87 216h12M91 220h16"/><path stroke="#ff4000" d="M47 184h4M47 188h8M51 192h8M55 196h8M59 200h8M63 204h8M67 208h8M71 212h8M75 216h12M83 220h8"/><path stroke="#ff3500" d="M47 192h4M47 196h8M51 200h8M55 204h8M59 208h8M63 212h8M67 216h8M71 220h12"/><path stroke="#ff2a00" d="M47 200h4M47 204h8M51 208h8M55 212h8M59 216h8M63 220h8"/><path stroke="#ff2000" d="M47 208h4M47 212h8M51 216h8M55 220h8"/><path stroke="#ff1500" d="M47 216h4M47 220h8"/></g></g></g>
<use href="#map" x="616.5" y="96.8"/>
<text x="636.4" y="77.0" font-size="13.5" textLength="25.9" lengthAdjust="spacingAndGlyphs" font-weight="bold" fill="#262626" stroke="#262626" stroke-width="0.25">100</text>
<text x="673.2" y="77.0" font-size="13.5" textLength="13.9" lengthAdjust="spacingAndGlyphs" font-weight="bold" fill="#262626" stroke="#262626" stroke-width="0.25">W</text>
<circle cx="666.0" cy="64.3" r="1.5" fill="none" stroke="#262626" stroke-width="0.9"/>
<text x="705.0" y="77.0" font-size="13.5" textLength="17.1" lengthAdjust="spacingAndGlyphs" font-weight="bold" fill="#262626" stroke="#262626" stroke-width="0.25">90</text>
<text x="734.2" y="77.0" font-size="13.5" textLength="13.9" lengthAdjust="spacingAndGlyphs" font-weight="bold" fill="#262626" stroke="#262626" stroke-width="0.25">W</text>
<circle cx="726.0" cy="64.3" r="1.5" fill="none" stroke="#262626" stroke-width="0.9"/>
<text x="769.1" y="77.0" font-size="13.5" textLength="17.1" lengthAdjust="spacingAndGlyphs" font-weight="bold" fill="#262626" stroke="#262626" stroke-width="0.25">80</text>
<text x="798.3" y="77.0" font-size="13.5" textLength="13.9" lengthAdjust="spacingAndGlyphs" font-weight="bold" fill="#262626" stroke="#262626" stroke-width="0.25">W</text>
<circle cx="790.8" cy="64.3" r="1.5" fill="none" stroke="#262626" stroke-width="0.9"/>
<text x="832.2" y="77.0" font-size="13.5" textLength="16.4" lengthAdjust="spacingAndGlyphs" font-weight="bold" fill="#262626" stroke="#262626" stroke-width="0.25">70</text>
<text x="860.7" y="77.0" font-size="13.5" textLength="13.9" lengthAdjust="spacingAndGlyphs" font-weight="bold" fill="#262626" stroke="#262626" stroke-width="0.25">W</text>
<circle cx="852.8" cy="64.3" r="1.5" fill="none" stroke="#262626" stroke-width="0.9"/>
<text x="566.9" y="113.0" font-size="13.5" textLength="17.7" lengthAdjust="spacingAndGlyphs" font-weight="bold" fill="#262626" stroke="#262626" stroke-width="0.25">48</text>
<text x="596.5" y="113.0" font-size="13.5" textLength="10.0" lengthAdjust="spacingAndGlyphs" font-weight="bold" fill="#262626" stroke="#262626" stroke-width="0.25">N</text>
<circle cx="589.0" cy="99.5" r="1.5" fill="none" stroke="#262626" stroke-width="0.9"/>
<text x="566.9" y="131.0" font-size="13.5" textLength="17.7" lengthAdjust="spacingAndGlyphs" font-weight="bold" fill="#262626" stroke="#262626" stroke-width="0.25">46</text>
<text x="596.5" y="131.0" font-size="13.5" textLength="10.0" lengthAdjust="spacingAndGlyphs" font-weight="bold" fill="#262626" stroke="#262626" stroke-width="0.25">N</text>
<circle cx="589.0" cy="117.5" r="1.5" fill="none" stroke="#262626" stroke-width="0.9"/>
<text x="566.9" y="147.7" font-size="13.5" textLength="17.7" lengthAdjust="spacingAndGlyphs" font-weight="bold" fill="#262626" stroke="#262626" stroke-width="0.25">44</text>
<text x="596.5" y="147.7" font-size="13.5" textLength="10.0" lengthAdjust="spacingAndGlyphs" font-weight="bold" fill="#262626" stroke="#262626" stroke-width="0.25">N</text>
<circle cx="589.0" cy="134.2" r="1.5" fill="none" stroke="#262626" stroke-width="0.9"/>
<text x="566.9" y="167.0" font-size="13.5" textLength="17.7" lengthAdjust="spacingAndGlyphs" font-weight="bold" fill="#262626" stroke="#262626" stroke-width="0.25">42</text>
<text x="596.5" y="167.0" font-size="13.5" textLength="10.0" lengthAdjust="spacingAndGlyphs" font-weight="bold" fill="#262626" stroke="#262626" stroke-width="0.25">N</text>
<circle cx="589.0" cy="153.5" r="1.5" fill="none" stroke="#262626" stroke-width="0.9"/>
<text x="566.9" y="183.0" font-size="13.5" textLength="17.7" lengthAdjust="spacingAndGlyphs" font-weight="bold" fill="#262626" stroke="#262626" stroke-width="0.25">40</text>
<text x="596.5" y="183.0" font-size="13.5" textLength="10.0" lengthAdjust="spacingAndGlyphs" font-weight="bold" fill="#262626" stroke="#262626" stroke-width="0.25">N</text>
<circle cx="589.0" cy="169.5" r="1.5" fill="none" stroke="#262626" stroke-width="0.9"/>
<text x="566.9" y="197.7" font-size="13.5" textLength="17.7" lengthAdjust="spacingAndGlyphs" font-weight="bold" fill="#262626" stroke="#262626" stroke-width="0.25">38</text>
<text x="596.5" y="197.7" font-size="13.5" textLength="10.0" lengthAdjust="spacingAndGlyphs" font-weight="bold" fill="#262626" stroke="#262626" stroke-width="0.25">N</text>
<circle cx="589.0" cy="184.2" r="1.5" fill="none" stroke="#262626" stroke-width="0.9"/>
<text x="566.9" y="214.6" font-size="13.5" textLength="17.7" lengthAdjust="spacingAndGlyphs" font-weight="bold" fill="#262626" stroke="#262626" stroke-width="0.25">36</text>
<text x="596.5" y="214.6" font-size="13.5" textLength="10.0" lengthAdjust="spacingAndGlyphs" font-weight="bold" fill="#262626" stroke="#262626" stroke-width="0.25">N</text>
<circle cx="589.0" cy="201.1" r="1.5" fill="none" stroke="#262626" stroke-width="0.9"/>
<text x="566.9" y="228.6" font-size="13.5" textLength="17.7" lengthAdjust="spacingAndGlyphs" font-weight="bold" fill="#262626" stroke="#262626" stroke-width="0.25">34</text>
<text x="596.5" y="228.6" font-size="13.5" textLength="10.0" lengthAdjust="spacingAndGlyphs" font-weight="bold" fill="#262626" stroke="#262626" stroke-width="0.25">N</text>
<circle cx="589.0" cy="215.1" r="1.5" fill="none" stroke="#262626" stroke-width="0.9"/>
<text x="566.9" y="245.7" font-size="13.5" textLength="17.7" lengthAdjust="spacingAndGlyphs" font-weight="bold" fill="#262626" stroke="#262626" stroke-width="0.25">32</text>
<text x="596.5" y="245.7" font-size="13.5" textLength="10.0" lengthAdjust="spacingAndGlyphs" font-weight="bold" fill="#262626" stroke="#262626" stroke-width="0.25">N</text>
<circle cx="589.0" cy="232.2" r="1.5" fill="none" stroke="#262626" stroke-width="0.9"/>
<text x="566.9" y="259.3" font-size="13.5" textLength="17.7" lengthAdjust="spacingAndGlyphs" font-weight="bold" fill="#262626" stroke="#262626" stroke-width="0.25">30</text>
<text x="596.5" y="259.3" font-size="13.5" textLength="10.0" lengthAdjust="spacingAndGlyphs" font-weight="bold" fill="#262626" stroke="#262626" stroke-width="0.25">N</text>
<circle cx="589.0" cy="245.8" r="1.5" fill="none" stroke="#262626" stroke-width="0.9"/>
<text x="566.9" y="272.5" font-size="13.5" textLength="17.7" lengthAdjust="spacingAndGlyphs" font-weight="bold" fill="#262626" stroke="#262626" stroke-width="0.25">28</text>
<text x="596.5" y="272.5" font-size="13.5" textLength="10.0" lengthAdjust="spacingAndGlyphs" font-weight="bold" fill="#262626" stroke="#262626" stroke-width="0.25">N</text>
<circle cx="589.0" cy="259.0" r="1.5" fill="none" stroke="#262626" stroke-width="0.9"/>
<text x="566.9" y="287.2" font-size="13.5" textLength="17.7" lengthAdjust="spacingAndGlyphs" font-weight="bold" fill="#262626" stroke="#262626" stroke-width="0.25">26</text>
<text x="596.5" y="287.2" font-size="13.5" textLength="10.0" lengthAdjust="spacingAndGlyphs" font-weight="bold" fill="#262626" stroke="#262626" stroke-width="0.25">N</text>
<circle cx="589.0" cy="273.7" r="1.5" fill="none" stroke="#262626" stroke-width="0.9"/>
<text x="566.9" y="301.0" font-size="13.5" textLength="17.7" lengthAdjust="spacingAndGlyphs" font-weight="bold" fill="#262626" stroke="#262626" stroke-width="0.25">24</text>
<text x="596.5" y="301.0" font-size="13.5" textLength="10.0" lengthAdjust="spacingAndGlyphs" font-weight="bold" fill="#262626" stroke="#262626" stroke-width="0.25">N</text>
<circle cx="589.0" cy="287.5" r="1.5" fill="none" stroke="#262626" stroke-width="0.9"/>
<text x="566.9" y="314.4" font-size="13.5" textLength="17.7" lengthAdjust="spacingAndGlyphs" font-weight="bold" fill="#262626" stroke="#262626" stroke-width="0.25">22</text>
<text x="596.5" y="314.4" font-size="13.5" textLength="10.0" lengthAdjust="spacingAndGlyphs" font-weight="bold" fill="#262626" stroke="#262626" stroke-width="0.25">N</text>
<circle cx="589.0" cy="300.9" r="1.5" fill="none" stroke="#262626" stroke-width="0.9"/>
<rect x="862.0" y="95.2" width="23.6" height="215.2" fill="url(#jet)" stroke="#262626" stroke-width="0.8"/>
<text x="894.0" y="148.2" font-size="22.5" textLength="43.6" lengthAdjust="spacingAndGlyphs" font-weight="bold" fill="#262626" stroke="#262626" stroke-width="0.4">280</text>
<text x="894.0" y="197.5" font-size="22.5" textLength="43.6" lengthAdjust="spacingAndGlyphs" font-weight="bold" fill="#262626" stroke="#262626" stroke-width="0.4">260</text>
<text x="894.0" y="246.8" font-size="22.5" textLength="43.6" lengthAdjust="spacingAndGlyphs" font-weight="bold" fill="#262626" stroke="#262626" stroke-width="0.4">240</text>
<text x="894.0" y="296.1" font-size="22.5" textLength="43.6" lengthAdjust="spacingAndGlyphs" font-weight="bold" fill="#262626" stroke="#262626" stroke-width="0.4">220</text>
<path d="M885.6,141.1h-3M885.6,190.4h-3M885.6,239.7h-3M885.6,289.0h-3" stroke="#262626" stroke-width="0.9"/>
<text x="549.1" y="341.0" font-size="23" textLength="358.5" lengthAdjust="spacingAndGlyphs" font-weight="bold" fill="#262626" stroke="#262626" stroke-width="0.45">SAT+RAP 700 hPa Temp (K)</text>
<rect x="1037.6" y="96.8" width="232.3" height="212.3" fill="#fff" stroke="#262626" stroke-width="1.1"/>
<g transform="translate(1037.6,96.8)"><g clip-path="url(#sw2)"><g filter="url(#blur)" stroke-width="4.5" fill="none"><path stroke="#ff9500" d="M47 -8h4M47 116h4M47 120h4M47 124h8M51 128h8M55 132h4M59 136h4M59 140h8M63 144h8M67 148h8M71 152h8M75 156h8M79 160h8M83 164h8M87 168h12M91 172h16M99 176h20M131 176h16M107 180h64M155 184h32M175 188h36M191 192h24M199 196h20M207 200h16M211 204h20M215 208h28M223 212h20M227 216h16M235 220h8"/><path stroke="#ffaa00" d="M51 -8h4M51 -4h4M47 4h4M47 96h4M47 100h4M47 104h8M51 108h4M51 112h8M55 116h8M59 120h8M63 124h8M67 128h8M67 132h12M71 136h12M75 140h12M79 144h12M83 148h12M87 152h12M95 156h8M99 160h12M227 160h12M103 164h16M219 164h24M111 168h48M215 168h12M239 168h4M155 172h24M207 172h12M179 176h32"/><path stroke="#ffbf00" d="M55 -8h4M55 -4h4M51 4h4M47 12h4M47 16h4M47 20h4M47 40h4M47 44h4M47 48h4M47 52h4M47 56h4M47 60h4M47 64h4M47 68h4M47 72h4M51 76h4M51 80h4M51 84h4M51 88h4M55 92h4M55 96h4M59 100h4M59 104h8M63 108h4M67 112h4M71 116h8M75 120h12M79 124h16M87 128h16M91 132h12M95 136h12M99 140h12M103 144h12M107 148h8M111 152h12M223 152h20M115 156h40M219 156h4M127 160h8M147 160h16M211 160h8M163 164h16M203 164h8M179 168h24"/><path stroke="#ffd500" d="M59 -8h4M51 12h4M51 16h4M51 20h4M51 24h4M51 28h4M51 32h4M51 36h4M51 40h4M55 44h4M55 48h4M55 52h4M55 56h4M55 60h4M55 64h4M55 68h8M59 72h4M59 76h4M59 80h4M59 84h8M63 88h4M63 92h8M67 96h4M67 100h8M71 104h8M75 108h16M83 112h28M99 116h20M107 120h16M115 124h16M115 128h20M119 132h28M123 136h32M123 140h36M131 144h32M235 144h8M151 148h16M219 148h8M159 152h12M215 152h4M167 156h12M207 156h4M179 160h24"/><path stroke="#ffea00" d="M63 -8h4M59 0h4M55 12h4M55 16h4M55 20h4M59 28h4M59 32h4M59 36h4M63 40h4M63 44h4M63 48h8M63 52h8M63 56h8M67 60h4M67 64h4M67 68h4M67 72h8M67 76h8M71 80h4M71 84h8M71 88h8M75 92h8M79 96h8M83 100h24M103 104h16M115 108h12M123 112h12M131 116h12M139 120h24M151 124h20M163 128h8M167 132h8M167 136h8M167 140h12M231 140h12M171 144h8M219 144h4M175 148h12M207 148h8M183 152h24"/><path stroke="#fff400" d="M67 -8h4M63 -4h4M59 4h4M59 16h4M59 20h4M59 24h4M63 28h4M63 32h4M63 36h8M67 40h8M67 44h8M71 48h4M71 52h8M71 56h8M71 60h8M71 64h8M71 68h8M75 72h4M75 76h8M75 80h8M79 84h4M79 88h8M83 92h8M87 96h24M107 100h12M119 104h8M127 108h8M135 112h8M143 116h24M163 120h12M171 124h4M171 128h8M175 132h4M175 136h8M235 136h8M179 140h4M223 140h8M179 144h12M211 144h8M187 148h20"/><path stroke="#f4ff0b" d="M71 -8h4M71 -4h4M67 0h4M63 4h4M63 8h4M63 12h4M63 16h8M67 20h4M71 24h8M71 28h12M75 32h12M79 36h12M83 40h8M83 44h12M87 48h8M87 52h8M87 56h8M87 60h12M87 64h12M87 68h12M87 72h12M91 76h12M91 80h12M95 84h16M103 88h12M111 92h12M119 96h8M127 100h8M135 104h4M143 108h4M155 112h20M175 116h4M179 120h4M179 124h4M183 128h4M183 132h8M231 132h12M187 136h8M219 136h8M195 140h20"/><path stroke="#eaff15" d="M75 -8h8M75 -4h4M71 0h8M67 4h8M67 8h8M67 12h8M71 16h8M71 20h12M79 24h8M83 28h8M87 32h8M91 36h8M91 40h8M95 44h8M95 48h8M95 52h8M95 56h8M99 60h8M99 64h8M99 68h8M99 72h12M103 76h8M103 80h12M111 84h8M115 88h8M123 92h4M127 96h4M135 100h4M139 104h4M147 108h28M175 112h4M179 116h4M183 124h4M187 128h4M235 128h8M191 132h4M223 132h8M195 136h24"/><path stroke="#dfff20" d="M83 -8h4M79 -4h8M79 0h8M75 4h12M75 8h12M75 12h16M79 16h12M83 20h12M87 24h8M91 28h8M95 32h8M99 36h4M99 40h8M103 44h4M103 48h8M103 52h8M103 56h8M107 60h4M107 64h8M107 68h8M111 72h4M111 76h8M115 80h4M119 84h4M123 88h4M127 92h4M131 96h4M139 100h4M143 104h8M179 112h4M183 120h4M187 124h4M191 128h4M227 128h8M195 132h12M211 132h12"/><path stroke="#d5ff2a" d="M87 -8h4M87 -4h4M87 0h4M87 4h4M87 8h8M91 12h4M91 16h4M95 20h4M95 24h8M99 28h4M103 32h4M103 36h8M107 40h4M107 44h4M111 48h4M111 52h4M111 56h4M111 60h8M115 64h4M115 68h4M115 72h8M119 76h4M119 80h8M123 84h4M127 88h4M131 92h4M135 96h4M143 100h4M151 104h8M175 108h4M183 116h4M187 120h4M191 124h4M231 124h12M195 128h8M223 128h4M207 132h4"/><path stroke="#caff35" d="M91 -8h4M91 -4h4M91 0h4M91 4h4M95 8h4M95 12h4M95 16h4M99 20h4M103 24h4M103 28h8M107 32h4M111 36h4M111 40h4M111 44h8M115 48h4M115 52h4M115 56h8M119 60h4M119 64h4M119 68h4M123 72h4M123 76h4M127 80h4M127 84h4M131 88h4M135 92h4M139 96h4M147 100h4M159 104h16M179 108h4M183 112h4M187 116h4M191 120h4M195 124h4M227 124h4M203 128h20"/><path stroke="#b5ff4a" d="M95 -8h4M99 0h4M99 4h4M99 8h4M103 12h4M103 16h4M107 20h4M111 24h4M115 28h4M115 32h4M119 36h4M119 40h4M123 44h4M123 48h4M123 52h4M127 56h4M127 60h4M127 64h4M127 68h4M131 72h4M131 76h4M135 80h4M135 84h4M139 88h4M143 92h4M147 96h4M155 100h12M179 104h4M183 108h4M187 112h4M235 116h8M199 120h4M223 120h8M207 124h8"/><path stroke="#aaff55" d="M99 -8h4M99 -4h4M103 4h4M103 8h4M107 12h4M107 16h4M111 20h4M115 24h4M119 32h4M123 36h4M123 40h4M127 48h4M127 52h4M131 60h4M131 64h4M131 68h4M135 72h4M135 76h4M139 84h4M143 88h4M147 92h4M151 96h4M167 100h8M187 108h4M191 112h4M195 116h4M227 116h8M203 120h20"/><path stroke="#9fff60" d="M103 -8h4M103 -4h4M103 0h4M107 8h4M111 16h4M115 20h4M119 24h4M119 28h4M123 32h4M127 40h4M127 44h4M131 48h4M131 52h4M131 56h4M135 60h4M135 64h4M135 68h4M139 76h4M139 80h4M143 84h4M155 96h4M175 100h4M183 104h4M195 112h4M235 112h8M199 116h4M223 116h4"/><path stroke="#8aff75" d="M107 -8h4M111 0h4M111 4h4M115 8h4M115 12h4M119 16h4M123 20h4M127 24h4M127 28h4M131 32h4M131 36h4M135 40h4M135 44h4M135 48h4M139 56h4M139 60h4M143 72h4M143 76h4M147 84h4M151 88h4M155 92h4M171 96h8M183 100h4M195 108h4M199 112h4M223 112h4"/><path stroke="#80ff80" d="M111 -8h4M111 -4h4M115 0h4M115 4h4M119 8h4M119 12h4M123 16h4M127 20h4M131 28h4M135 36h4M139 44h4M139 48h4M139 52h4M143 60h4M143 64h4M143 68h4M147 76h4M147 80h4M151 84h4M159 92h4M179 96h4M191 104h4M231 108h12M203 112h8M215 112h8"/><path stroke="#75ff8a" d="M115 -8h4M115 -4h4M119 0h4M119 4h4M123 8h4M123 12h8M127 16h4M131 20h4M131 24h4M135 28h4M135 32h4M139 36h4M139 40h4M143 48h4M143 52h4M143 56h4M147 64h4M147 68h4M147 72h4M151 80h4M155 88h4M163 92h12M183 96h4M187 100h4M195 104h4M199 108h4M227 108h4M211 112h4"/><path stroke="#6aff95" d="M119 -8h4M119 -4h4M123 0h4M123 4h4M127 8h4M131 12h4M131 16h4M135 20h4M135 24h4M139 28h4M139 32h4M143 40h4M143 44h4M147 52h4M147 56h4M147 60h4M151 72h4M151 76h4M155 84h4M159 88h4M175 92h4M191 100h4M203 108h4M219 108h8"/><path stroke="#60ff9f" d="M123 -8h4M123 -4h4M127 0h4M127 4h4M131 8h4M135 12h4M135 16h4M139 20h4M139 24h4M143 32h4M143 36h4M147 44h4M147 48h4M151 56h4M151 60h4M151 64h4M151 68h4M155 76h4M155 80h4M159 84h4M163 88h12M179 92h4M187 96h4M199 104h4M231 104h12M207 108h12"/><path stroke="#55ffaa" d="M127 -8h4M127 -4h4M131 0h4M131 4h8M135 8h4M139 16h4M143 24h4M143 28h4M147 32h4M147 36h4M147 40h4M151 48h4M151 52h4M155 64h4M155 68h4M155 72h4M159 76h4M159 80h4M163 84h4M175 88h4M183 92h4M191 96h4M195 100h4M203 104h4M227 104h4"/><path stroke="#4affb5" d="M131 -8h4M131 -4h4M135 0h4M139 8h4M139 12h4M143 16h4M143 20h4M147 24h4M147 28h4M151 36h4M151 40h4M151 44h4M155 52h4M155 56h4M155 60h4M159 68h4M159 72h4M163 80h4M167 84h8M179 88h4M187 92h4M199 100h4M207 104h20"/><path stroke="#40ffbf" d="M135 -8h4M135 -4h4M139 0h4M139 4h4M143 8h4M143 12h4M147 16h4M147 20h4M151 28h4M151 32h4M155 40h4M155 44h4M155 48h4M159 56h4M159 60h4M159 64h4M163 72h4M163 76h4M167 80h4M175 84h4M183 88h4M191 92h4M195 96h4M203 100h4M235 100h8"/><path stroke="#35ffca" d="M139 -8h4M139 -4h4M143 0h4M143 4h4M147 8h4M147 12h4M151 20h4M151 24h4M155 28h4M155 32h4M155 36h4M159 44h4M159 48h4M159 52h4M163 60h4M163 64h4M163 68h4M167 72h4M167 76h4M171 80h8M179 84h8M187 88h4M195 92h4M199 96h4M207 100h8M227 100h8"/><path stroke="#2bffd4" d="M143 -8h4M143 -4h4M147 0h4M147 4h4M151 12h4M151 16h4M155 20h4M155 24h4M159 32h4M159 36h4M159 40h4M163 44h4M163 48h4M163 52h4M163 56h4M167 64h4M167 68h4M171 72h4M171 76h8M179 80h4M187 84h4M191 88h4M203 96h4M215 100h12"/><path stroke="#20ffdf" d="M147 -8h4M147 -4h4M151 4h4M151 8h4M155 12h4M155 16h4M159 20h4M159 24h4M159 28h4M163 32h4M163 36h4M163 40h4M167 48h4M167 52h4M167 56h4M167 60h4M171 68h4M175 72h4M179 76h4M183 80h4M191 84h4M195 88h4M199 92h4M207 96h8M235 96h8"/><path stroke="#15ffea" d="M151 -8h4M151 -4h4M151 0h4M155 4h4M155 8h4M159 12h4M159 16h4M163 24h4M163 28h4M167 32h4M167 36h4M167 40h4M167 44h4M171 52h4M171 56h4M171 60h4M171 64h4M175 68h4M179 72h4M183 76h4M187 80h4M195 84h4M199 88h4M203 92h8M215 96h8M231 96h4"/><path stroke="#00ffff" d="M155 -8h4M159 -4h4M159 0h4M163 8h4M163 12h4M167 16h4M167 20h4M171 24h4M171 28h4M175 32h4M175 36h4M175 40h4M175 44h4M175 48h8M179 52h4M179 56h4M179 60h4M179 64h8M183 68h8M187 72h8M191 76h8M199 80h4M203 84h4M207 88h4M215 92h8M235 92h4"/><path stroke="#00f4ff" d="M159 -8h4M163 -4h4M163 0h4M163 4h4M167 8h4M167 12h4M171 16h4M171 20h4M175 24h4M175 28h4M179 32h4M179 36h4M179 40h8M179 44h8M183 48h4M183 52h4M183 56h4M183 60h8M187 64h8M191 68h4M195 72h4M199 76h4M203 80h4M207 84h4M211 88h8M239 88h4M223 92h12"/><path stroke="#00eaff" d="M163 -8h4M167 -4h4M167 0h4M167 4h4M171 8h4M171 12h4M175 16h4M175 20h8M179 24h4M179 28h8M183 32h4M183 36h8M187 40h4M187 44h4M187 48h4M187 52h8M187 56h8M191 60h8M195 64h8M195 68h12M199 72h8M203 76h8M207 80h8M211 84h8M239 84h4M219 88h20"/><path stroke="#00dfff" d="M167 -8h4M171 -4h4M171 0h4M171 4h4M175 8h4M175 12h4M179 16h4M183 20h4M183 24h4M187 28h4M187 32h4M191 36h4M191 40h4M191 44h8M191 48h8M195 52h8M195 56h12M199 60h12M203 64h12M207 68h12M207 72h12M211 76h12M215 80h8M235 80h8M219 84h20"/><path stroke="#00d4ff" d="M171 -8h4M175 -4h4M175 0h4M175 4h4M179 8h4M179 12h8M183 16h4M187 20h4M187 24h4M191 28h4M191 32h8M195 36h4M195 40h8M199 44h4M199 48h8M203 52h8M207 56h12M211 60h16M215 64h20M219 68h20M219 72h24M223 76h20M223 80h12"/><path stroke="#00caff" d="M175 -8h4M179 -4h4M179 0h4M179 4h8M183 8h4M187 12h4M187 16h4M191 20h4M191 24h8M195 28h4M199 32h4M199 36h4M203 40h4M203 44h8M207 48h8M211 52h12M219 56h12M227 60h12M235 64h8M239 68h4"/><path stroke="#00bfff" d="M179 -8h4M183 -4h4M183 0h4M187 4h4M187 8h4M191 12h4M191 16h4M195 20h4M199 24h4M199 28h4M203 32h4M203 36h8M207 40h4M211 44h8M215 48h8M223 52h8M231 56h8M239 60h4"/><path stroke="#00b5ff" d="M183 -8h4M187 -4h4M187 0h4M191 4h4M191 8h4M195 12h4M195 16h4M199 20h4M203 24h4M203 28h4M207 32h4M211 36h4M211 40h8M219 44h4M223 48h8M231 52h12M239 56h4"/><path stroke="#00aaff" d="M187 -8h4M191 -4h4M191 0h4M195 4h4M195 8h4M199 12h4M199 16h8M203 20h4M207 24h4M207 28h8M211 32h4M215 36h4M219 40h4M223 44h8M231 48h12"/><path stroke="#009fff" d="M191 -8h4M195 -4h4M195 0h4M199 4h4M199 8h4M203 12h4M207 16h4M207 20h4M211 24h4M215 28h4M215 32h8M219 36h8M223 40h8M231 44h12"/><path stroke="#0095ff" d="M195 -8h4M199 -4h4M199 0h4M203 4h4M203 8h8M207 12h4M211 16h4M211 20h4M215 24h4M219 28h4M223 32h4M227 36h4M231 40h8"/><path stroke="#008aff" d="M199 -8h4M203 -4h4M203 0h4M207 4h4M211 8h4M211 12h4M215 16h4M215 20h4M219 24h4M223 28h4M227 32h4M231 36h8M239 40h4"/><path stroke="#0080ff" d="M203 -8h8M207 -4h4M207 0h8M211 4h4M215 8h4M215 12h4M219 16h4M219 20h8M223 24h8M227 28h8M231 32h12M239 36h4"/><path stroke="#0075ff" d="M211 -8h4M211 -4h4M215 0h4M215 4h4M219 8h4M219 12h4M223 16h4M227 20h4M231 24h4M235 28h8"/><path stroke="#006aff" d="M215 -8h4M215 -4h4M219 0h4M219 4h4M223 8h4M223 12h8M227 16h8M231 20h8M235 24h8"/><path stroke="#0060ff" d="M219 -8h4M219 -4h4M223 0h4M223 4h8M227 8h4M231 12h4M235 16h4M239 20h4"/><path stroke="#0055ff" d="M223 -8h4M223 -4h8M227 0h4M231 4h4M231 8h8M235 12h8M239 16h4"/><path stroke="#004aff" d="M227 -8h4M231 -4h4M231 0h8M235 4h8M239 8h4"/><path stroke="#0040ff" d="M231 -8h8M235 -4h8M239 0h4"/><path stroke="#0035ff" d="M239 -8h4"/><path stroke="#ff9f00" d="M47 -4h4M47 0h4M47 108h4M47 112h4M51 116h4M51 120h8M55 124h8M59 128h8M59 132h8M63 136h8M67 140h8M71 144h8M75 148h8M79 152h8M83 156h12M87 160h12M91 164h12M99 168h12M227 168h12M107 172h48M219 172h24M119 176h12M147 176h32M211 176h32M171 180h72M187 184h56M211 188h32M215 192h28M219 196h24M223 200h20M231 204h12"/><path stroke="#ffdf00" d="M59 -4h4M55 4h4M55 8h4M55 24h4M55 28h4M55 32h4M55 36h4M55 40h8M59 44h4M59 48h4M59 52h4M59 56h4M59 60h8M59 64h8M63 68h4M63 72h4M63 76h4M63 80h8M67 84h4M67 88h4M71 92h4M71 96h8M75 100h8M79 104h24M91 108h24M111 112h12M119 116h12M123 120h16M131 124h20M135 128h28M147 132h20M155 136h12M159 140h8M163 144h8M223 144h12M167 148h8M215 148h4M171 152h12M207 152h8M179 156h28"/><path stroke="#ffff00" d="M67 -4h4M63 0h4M59 8h4M59 12h4M63 20h4M63 24h8M67 28h4M67 32h8M71 36h8M75 40h8M75 44h8M75 48h12M79 52h8M79 56h8M79 60h8M79 64h8M79 68h8M79 72h8M83 76h8M83 80h8M83 84h12M87 88h16M91 92h20M111 96h8M119 100h8M127 104h8M135 108h8M143 112h12M167 116h8M175 120h4M175 124h4M179 128h4M179 132h4M183 136h4M227 136h8M183 140h12M215 140h8M191 144h20"/><path stroke="#bfff40" d="M95 -4h4M95 0h4M95 4h4M99 12h4M99 16h4M103 20h4M107 24h4M111 28h4M111 32h4M115 36h4M115 40h4M119 44h4M119 48h4M119 52h4M123 56h4M123 60h4M123 64h4M123 68h4M127 72h4M127 76h4M131 80h4M131 84h4M135 88h4M139 92h4M143 96h4M151 100h4M175 104h4M191 116h4M195 120h4M231 120h12M199 124h8M215 124h12"/><path stroke="#95ff6a" d="M107 -4h4M107 0h4M107 4h4M111 8h4M111 12h4M115 16h4M119 20h4M123 24h4M123 28h4M127 32h4M127 36h4M131 40h4M131 44h4M135 52h4M135 56h4M139 64h4M139 68h4M139 72h4M143 80h4M147 88h4M151 92h4M159 96h12M179 100h4M187 104h4M191 108h4M227 112h8M203 116h20"/><path stroke="#0bfff4" d="M155 -4h4M155 0h4M159 4h4M159 8h4M163 16h4M163 20h4M167 24h4M167 28h4M171 32h4M171 36h4M171 40h4M171 44h4M171 48h4M175 52h4M175 56h4M175 60h4M175 64h4M179 68h4M183 72h4M187 76h4M191 80h8M199 84h4M203 88h4M211 92h4M239 92h4M223 96h8"/><path stroke="#ffb500" d="M51 0h4M47 8h4M47 76h4M47 80h4M47 84h4M47 88h4M47 92h8M51 96h4M51 100h8M55 104h4M55 108h8M59 112h8M63 116h8M67 120h8M71 124h8M75 128h12M79 132h12M83 136h12M87 140h12M91 144h12M95 148h12M99 152h12M103 156h12M223 156h20M111 160h16M135 160h12M219 160h8M239 160h4M119 164h44M211 164h8M159 168h20M203 168h12M179 172h28"/><path stroke="#ffca00" d="M55 0h4M51 8h4M47 24h4M47 28h4M47 32h4M47 36h4M51 44h4M51 48h4M51 52h4M51 56h4M51 60h4M51 64h4M51 68h4M51 72h8M55 76h4M55 80h4M55 84h4M55 88h8M59 92h4M59 96h8M63 100h4M67 104h4M67 108h8M71 112h12M79 116h20M87 120h20M95 124h20M103 128h12M103 132h16M107 136h16M111 140h12M115 144h16M115 148h36M227 148h16M123 152h36M219 152h4M155 156h12M211 156h8M163 160h16M203 160h8M179 164h24"/><path stroke="#ff8a00" d="M47 128h4M47 132h8M51 136h8M55 140h4M55 144h8M59 148h8M63 152h8M67 156h8M71 160h8M75 164h8M79 168h8M83 172h8M87 176h12M95 180h12M99 184h56M111 188h64M143 192h48M171 196h28M187 200h20M195 204h16M199 208h16M203 212h20M211 216h16M215 220h20"/><path stroke="#ff8000" d="M47 136h4M47 140h8M51 144h4M51 148h8M55 152h8M59 156h8M63 160h8M67 164h8M71 168h8M75 172h8M79 176h8M83 180h12M87 184h12M95 188h16M103 192h40M111 196h60M123 200h64M139 204h56M171 208h28M183 212h20M191 216h20M195 220h20"/><path stroke="#ff7500" d="M47 144h4M47 148h4M47 152h8M51 156h8M55 160h8M59 164h8M63 168h8M67 172h8M67 176h12M71 180h12M79 184h8M83 188h12M87 192h16M95 196h16M103 200h20M111 204h28M119 208h52M127 212h56M139 216h52M163 220h32"/><path stroke="#ff6a00" d="M47 156h4M47 160h8M51 164h8M55 168h8M59 172h8M59 176h8M63 180h8M67 184h12M71 188h12M79 192h8M83 196h12M87 200h16M95 204h16M99 208h20M107 212h20M115 216h24M123 220h40"/><path stroke="#ff6000" d="M47 164h4M47 168h8M51 172h8M55 176h4M59 180h4M59 184h8M63 188h8M67 192h12M71 196h12M79 200h8M83 204h12M87 208h12M95 212h12M99 216h16M107 220h16"/><path stroke="#ff5500" d="M47 172h4M47 176h8M51 180h8M55 184h4M55 188h8M59 192h8M63 196h8M67 200h12M71 204h12M79 208h8M83 212h12M87 216h12M95 220h12"/><path stroke="#ff4a00" d="M47 180h4M47 184h8M51 188h4M51 192h8M55 196h8M59 200h8M63 204h8M67 208h12M71 212h12M79 216h8M83 220h12"/><path stroke="#ff4000" d="M47 188h4M47 192h4M51 196h4M51 200h8M55 204h8M59 208h8M63 212h8M67 216h12M71 220h12"/><path stroke="#ff3500" d="M47 196h4M47 200h4M47 204h8M51 208h8M55 212h8M59 216h8M63 220h8"/><path stroke="#ff2a00" d="M47 208h4M47 212h8M51 216h8M55 220h8"/><path stroke="#ff2000" d="M47 216h4M47 220h8"/></g></g></g>
<use href="#map" x="1037.6" y="96.8"/>
<text x="1058.4" y="75.0" font-size="13.5" textLength="25.9" lengthAdjust="spacingAndGlyphs" font-weight="bold" fill="#262626" stroke="#262626" stroke-width="0.25">100</text>
<text x="1095.2" y="75.0" font-size="13.5" textLength="13.9" lengthAdjust="spacingAndGlyphs" font-weight="bold" fill="#262626" stroke="#262626" stroke-width="0.25">W</text>
<circle cx="1088.0" cy="62.3" r="1.5" fill="none" stroke="#262626" stroke-width="0.9"/>
<text x="1127.0" y="75.0" font-size="13.5" textLength="17.1" lengthAdjust="spacingAndGlyphs" font-weight="bold" fill="#262626" stroke="#262626" stroke-width="0.25">90</text>
<text x="1156.2" y="75.0" font-size="13.5" textLength="13.9" lengthAdjust="spacingAndGlyphs" font-weight="bold" fill="#262626" stroke="#262626" stroke-width="0.25">W</text>
<circle cx="1148.0" cy="62.3" r="1.5" fill="none" stroke="#262626" stroke-width="0.9"/>
<text x="1191.1" y="75.0" font-size="13.5" textLength="17.1" lengthAdjust="spacingAndGlyphs" font-weight="bold" fill="#262626" stroke="#262626" stroke-width="0.25">80</text>
<text x="1220.3" y="75.0" font-size="13.5" textLength="13.9" lengthAdjust="spacingAndGlyphs" font-weight="bold" fill="#262626" stroke="#262626" stroke-width="0.25">W</text>
<circle cx="1212.8" cy="62.3" r="1.5" fill="none" stroke="#262626" stroke-width="0.9"/>
<text x="1254.2" y="75.0" font-size="13.5" textLength="16.4" lengthAdjust="spacingAndGlyphs" font-weight="bold" fill="#262626" stroke="#262626" stroke-width="0.25">70</text>
<text x="1282.7" y="75.0" font-size="13.5" textLength="13.9" lengthAdjust="spacingAndGlyphs" font-weight="bold" fill="#262626" stroke="#262626" stroke-width="0.25">W</text>
<circle cx="1274.8" cy="62.3" r="1.5" fill="none" stroke="#262626" stroke-width="0.9"/>
<text x="988.9" y="113.0" font-size="13.5" textLength="17.7" lengthAdjust="spacingAndGlyphs" font-weight="bold" fill="#262626" stroke="#262626" stroke-width="0.25">48</text>
<text x="1018.5" y="113.0" font-size="13.5" textLength="10.0" lengthAdjust="spacingAndGlyphs" font-weight="bold" fill="#262626" stroke="#262626" stroke-width="0.25">N</text>
<circle cx="1011.0" cy="99.5" r="1.5" fill="none" stroke="#262626" stroke-width="0.9"/>
<text x="988.9" y="131.0" font-size="13.5" textLength="17.7" lengthAdjust="spacingAndGlyphs" font-weight="bold" fill="#262626" stroke="#262626" stroke-width="0.25">46</text>
<text x="1018.5" y="131.0" font-size="13.5" textLength="10.0" lengthAdjust="spacingAndGlyphs" font-weight="bold" fill="#262626" stroke="#262626" stroke-width="0.25">N</text>
<circle cx="1011.0" cy="117.5" r="1.5" fill="none" stroke="#262626" stroke-width="0.9"/>
<text x="988.9" y="147.7" font-size="13.5" textLength="17.7" lengthAdjust="spacingAndGlyphs" font-weight="bold" fill="#262626" stroke="#262626" stroke-width="0.25">44</text>
<text x="1018.5" y="147.7" font-size="13.5" textLength="10.0" lengthAdjust="spacingAndGlyphs" font-weight="bold" fill="#262626" stroke="#262626" stroke-width="0.25">N</text>
<circle cx="1011.0" cy="134.2" r="1.5" fill="none" stroke="#262626" stroke-width="0.9"/>
<text x="988.9" y="167.0" font-size="13.5" textLength="17.7" lengthAdjust="spacingAndGlyphs" font-weight="bold" fill="#262626" stroke="#262626" stroke-width="0.25">42</text>
<text x="1018.5" y="167.0" font-size="13.5" textLength="10.0" lengthAdjust="spacingAndGlyphs" font-weight="bold" fill="#262626" stroke="#262626" stroke-width="0.25">N</text>
<circle cx="1011.0" cy="153.5" r="1.5" fill="none" stroke="#262626" stroke-width="0.9"/>
<text x="988.9" y="183.0" font-size="13.5" textLength="17.7" lengthAdjust="spacingAndGlyphs" font-weight="bold" fill="#262626" stroke="#262626" stroke-width="0.25">40</text>
<text x="1018.5" y="183.0" font-size="13.5" textLength="10.0" lengthAdjust="spacingAndGlyphs" font-weight="bold" fill="#262626" stroke="#262626" stroke-width="0.25">N</text>
<circle cx="1011.0" cy="169.5" r="1.5" fill="none" stroke="#262626" stroke-width="0.9"/>
<text x="988.9" y="197.7" font-size="13.5" textLength="17.7" lengthAdjust="spacingAndGlyphs" font-weight="bold" fill="#262626" stroke="#262626" stroke-width="0.25">38</text>
<text x="1018.5" y="197.7" font-size="13.5" textLength="10.0" lengthAdjust="spacingAndGlyphs" font-weight="bold" fill="#262626" stroke="#262626" stroke-width="0.25">N</text>
<circle cx="1011.0" cy="184.2" r="1.5" fill="none" stroke="#262626" stroke-width="0.9"/>
<text x="988.9" y="214.6" font-size="13.5" textLength="17.7" lengthAdjust="spacingAndGlyphs" font-weight="bold" fill="#262626" stroke="#262626" stroke-width="0.25">36</text>
<text x="1018.5" y="214.6" font-size="13.5" textLength="10.0" lengthAdjust="spacingAndGlyphs" font-weight="bold" fill="#262626" stroke="#262626" stroke-width="0.25">N</text>
<circle cx="1011.0" cy="201.1" r="1.5" fill="none" stroke="#262626" stroke-width="0.9"/>
<text x="988.9" y="228.6" font-size="13.5" textLength="17.7" lengthAdjust="spacingAndGlyphs" font-weight="bold" fill="#262626" stroke="#262626" stroke-width="0.25">34</text>
<text x="1018.5" y="228.6" font-size="13.5" textLength="10.0" lengthAdjust="spacingAndGlyphs" font-weight="bold" fill="#262626" stroke="#262626" stroke-width="0.25">N</text>
<circle cx="1011.0" cy="215.1" r="1.5" fill="none" stroke="#262626" stroke-width="0.9"/>
<text x="988.9" y="245.7" font-size="13.5" textLength="17.7" lengthAdjust="spacingAndGlyphs" font-weight="bold" fill="#262626" stroke="#262626" stroke-width="0.25">32</text>
<text x="1018.5" y="245.7" font-size="13.5" textLength="10.0" lengthAdjust="spacingAndGlyphs" font-weight="bold" fill="#262626" stroke="#262626" stroke-width="0.25">N</text>
<circle cx="1011.0" cy="232.2" r="1.5" fill="none" stroke="#262626" stroke-width="0.9"/>
<text x="988.9" y="259.3" font-size="13.5" textLength="17.7" lengthAdjust="spacingAndGlyphs" font-weight="bold" fill="#262626" stroke="#262626" stroke-width="0.25">30</text>
<text x="1018.5" y="259.3" font-size="13.5" textLength="10.0" lengthAdjust="spacingAndGlyphs" font-weight="bold" fill="#262626" stroke="#262626" stroke-width="0.25">N</text>
<circle cx="1011.0" cy="245.8" r="1.5" fill="none" stroke="#262626" stroke-width="0.9"/>
<text x="988.9" y="272.5" font-size="13.5" textLength="17.7" lengthAdjust="spacingAndGlyphs" font-weight="bold" fill="#262626" stroke="#262626" stroke-width="0.25">28</text>
<text x="1018.5" y="272.5" font-size="13.5" textLength="10.0" lengthAdjust="spacingAndGlyphs" font-weight="bold" fill="#262626" stroke="#262626" stroke-width="0.25">N</text>
<circle cx="1011.0" cy="259.0" r="1.5" fill="none" stroke="#262626" stroke-width="0.9"/>
<text x="988.9" y="287.2" font-size="13.5" textLength="17.7" lengthAdjust="spacingAndGlyphs" font-weight="bold" fill="#262626" stroke="#262626" stroke-width="0.25">26</text>
<text x="1018.5" y="287.2" font-size="13.5" textLength="10.0" lengthAdjust="spacingAndGlyphs" font-weight="bold" fill="#262626" stroke="#262626" stroke-width="0.25">N</text>
<circle cx="1011.0" cy="273.7" r="1.5" fill="none" stroke="#262626" stroke-width="0.9"/>
<text x="988.9" y="301.0" font-size="13.5" textLength="17.7" lengthAdjust="spacingAndGlyphs" font-weight="bold" fill="#262626" stroke="#262626" stroke-width="0.25">24</text>
<text x="1018.5" y="301.0" font-size="13.5" textLength="10.0" lengthAdjust="spacingAndGlyphs" font-weight="bold" fill="#262626" stroke="#262626" stroke-width="0.25">N</text>
<circle cx="1011.0" cy="287.5" r="1.5" fill="none" stroke="#262626" stroke-width="0.9"/>
<text x="988.9" y="314.4" font-size="13.5" textLength="17.7" lengthAdjust="spacingAndGlyphs" font-weight="bold" fill="#262626" stroke="#262626" stroke-width="0.25">22</text>
<text x="1018.5" y="314.4" font-size="13.5" textLength="10.0" lengthAdjust="spacingAndGlyphs" font-weight="bold" fill="#262626" stroke="#262626" stroke-width="0.25">N</text>
<circle cx="1011.0" cy="300.9" r="1.5" fill="none" stroke="#262626" stroke-width="0.9"/>
<rect x="1285.7" y="95.2" width="22.8" height="215.2" fill="url(#jet)" stroke="#262626" stroke-width="0.8"/>
<text x="1316.9" y="159.1" font-size="22.5" textLength="43.6" lengthAdjust="spacingAndGlyphs" font-weight="bold" fill="#262626" stroke="#262626" stroke-width="0.4">260</text>
<text x="1316.9" y="218.0" font-size="22.5" textLength="43.6" lengthAdjust="spacingAndGlyphs" font-weight="bold" fill="#262626" stroke="#262626" stroke-width="0.4">240</text>
<text x="1316.9" y="276.9" font-size="22.5" textLength="43.6" lengthAdjust="spacingAndGlyphs" font-weight="bold" fill="#262626" stroke="#262626" stroke-width="0.4">220</text>
<path d="M1308.5,150.5h-3M1308.5,209.4h-3M1308.5,268.3h-3" stroke="#262626" stroke-width="0.9"/>
<text x="970.6" y="341.0" font-size="23" textLength="358.5" lengthAdjust="spacingAndGlyphs" font-weight="bold" fill="#262626" stroke="#262626" stroke-width="0.45">SAT+RAP 500 hPa Temp (K)</text>
<rect x="196.5" y="486.3" width="232.3" height="212.3" fill="#fff" stroke="#262626" stroke-width="1.1"/>
<g clip-path="url(#swd0)" transform="translate(196.5,486.3)"><g transform="translate(-196.5,-486.3)"><g transform="translate(196.5,486.3)" fill="none" stroke-linecap="round"><polygon points="76,49 90,49 104,74 116,114 104,119 90,84" fill="#9e0000" transform="scale(1)"/><polygon points="96,74 134,76 134,49 148,44 154,62 168,59 198,62 206,74 216,86 222,104 224,119 188,120 154,122 106,131 100,114 90,89" fill="#fa0000" transform="scale(1)"/><polygon points="106,131 154,122 186,120 196,130 198,144 184,159 166,165 156,186 148,194 136,196 136,156 114,155" fill="#0000c7" transform="scale(1)"/><polygon points="148,191 174,173 204,164 236,160 236,193 138,215" fill="#000080" transform="scale(1)"/><path stroke="#ff4000" stroke-width="7.8" d="M118.4 119.7h0M129.8 122.3h0M124.9 97.6h0M128.3 107.2h0M137.3 104.8h0M156.1 120.9h0M152.6 76.8h0M163.4 64.1h0M171.8 82.7h0M186.9 118.9h0M192.7 118.2h0M199.3 97.5h0M204.8 100.6h0"/><path stroke="#0060ff" stroke-width="7.8" d="M139.5 48.8h0M158.3 165.4h0M174.3 151.6h0M174.2 137.7h0"/><path stroke="#9fff60" stroke-width="7.8" d="M142.8 114.6h0M138.0 80.9h0M144.1 85.0h0M159.9 103.9h0M162.7 89.2h0M182.5 95.8h0M215.3 133.4h0"/><path stroke="#00dfff" stroke-width="7.8" d="M110.6 67.1h0M111.0 70.5h0M199.6 71.5h0M149.4 158.5h0M178.2 146.7h0"/><path stroke="#20ffdf" stroke-width="7.2" d="M73.4 18.8h0M71.8 4.4h0M82.9 26.8h0"/><path stroke="#bfff40" stroke-width="8.8" d="M155.2 10.9h0M160.4 44.8h0M169.5 43.1h0M171.7 36.1h0M176.4 31.6h0M180.3 40.3h0M183.4 26.0h0M199.2 61.0h0M199.1 -0.3h0M211.0 2.2h0"/><path stroke="#00dfff" stroke-width="7.2" d="M70.3 24.7h0"/><path stroke="#ffff00" stroke-width="7.2" d="M66.8 15.4h0M80.4 7.4h0"/><path stroke="#ffff00" stroke-width="7.8" d="M106.6 117.9h0M126.4 117.0h0M133.8 70.9h0M190.6 113.8h0M210.1 98.3h0M172.7 71.6h0M185.2 75.6h0M200.2 65.5h0M141.4 38.4h0"/><path stroke="#bf0000" stroke-width="7.2" d="M88.8 16.5h0"/><path stroke="#ff8000" stroke-width="8.4" d="M217.9 77.7h0"/><path stroke="#0080ff" stroke-width="7.8" d="M125.7 138.7h0M137.7 164.3h0M146.9 183.9h0M133.5 130.8h0M154.7 142.4h0M164.5 139.5h0"/><path stroke="#bfff40" stroke-width="7.2" d="M86.2 36.4h0M88.4 24.7h0"/><path stroke="#00dfff" stroke-width="8.8" d="M197.4 57.2h0M183.0 10.7h0M184.7 14.7h0M190.2 28.4h0M196.9 32.0h0M209.0 59.7h0M197.9 21.6h0"/><path stroke="#ff9f00" stroke-width="8.8" d="M201.4 4.7h0"/><path stroke="#ff0000" stroke-width="7.2" d="M74.6 9.9h0"/><path stroke="#ff2000" stroke-width="8.8" d="M151.6 0.5h0M163.8 3.9h0"/><path stroke="#ffdf00" stroke-width="8.8" d="M161.0 59.9h0M181.5 31.4h0"/><path stroke="#bfff40" stroke-width="7.8" d="M114.0 99.9h0M179.2 114.6h0M187.3 94.6h0M208.1 140.7h0"/><path stroke="#0040ff" stroke-width="7.8" d="M139.9 34.7h0M142.7 44.7h0M120.0 139.7h0M124.1 132.6h0M147.3 163.7h0M149.7 168.2h0M155.0 166.8h0M149.8 143.6h0M162.2 170.2h0M153.1 137.6h0M157.9 151.7h0M153.2 126.5h0M177.0 132.5h0M191.2 128.6h0"/><path stroke="#00ffff" stroke-width="7.2" d="M67.7 4.5h0M68.8 10.1h0M76.8 22.5h0M87.0 10.3h0"/><path stroke="#ff0000" stroke-width="7.8" d="M92.8 84.8h0M95.5 80.1h0M113.9 125.1h0M101.6 82.8h0M104.0 77.3h0M117.7 96.2h0M120.6 104.1h0M125.6 113.1h0M119.9 75.4h0M134.2 106.5h0M132.9 91.0h0M136.0 74.9h0M140.8 75.3h0M149.6 92.7h0M155.1 106.3h0M155.9 81.1h0M147.5 53.3h0M162.3 84.7h0M158.5 65.3h0M183.1 119.6h0M189.9 88.4h0M201.7 102.2h0M207.0 114.8h0M199.3 81.7h0M211.9 114.1h0M208.6 84.7h0M169.2 88.8h0M177.2 97.4h0M176.9 71.7h0M181.2 71.0h0M133.7 46.2h0"/><path stroke="#0020ff" stroke-width="7.2" d="M64.3 6.6h0M73.8 28.7h0M71.6 -0.7h0M75.1 -1.9h0"/><path stroke="#0000bf" stroke-width="7.8" d="M93.6 25.3h0M99.1 28.8h0M103.9 62.1h0M113.9 150.4h0M141.5 185.4h0M121.9 129.2h0M127.2 143.2h0M147.5 188.3h0M128.7 131.9h0M139.9 158.9h0M138.0 141.1h0M140.0 145.9h0M142.5 149.4h0M145.1 143.9h0M143.8 130.5h0M144.7 133.8h0M155.1 157.5h0M156.6 161.2h0M159.8 154.8h0M156.5 136.2h0M159.9 140.2h0M158.5 126.5h0M161.4 134.3h0M167.8 148.9h0M170.2 153.3h0M174.4 127.0h0M178.6 125.7h0M193.3 133.5h0M196.5 137.9h0M201.9 141.5h0M143.7 204.7h0M147.2 209.1h0M158.0 185.8h0M165.6 204.5h0M171.3 193.2h0M175.1 202.1h0M174.9 177.6h0M194.5 172.6h0M196.6 167.3h0M218.9 192.5h0M221.5 172.8h0M231.3 169.8h0"/><path stroke="#ff9f00" stroke-width="7.2" d="M84.8 32.0h0"/><path stroke="#dfff20" stroke-width="8.4" d="M215.2 73.2h0"/><path stroke="#0040ff" stroke-width="7.2" d="M65.5 11.9h0M83.1 16.6h0"/><path stroke="#ff9f00" stroke-width="7.8" d="M105.4 126.4h0M119.2 109.3h0M134.2 121.8h0M121.6 78.1h0M126.5 93.9h0M138.4 90.2h0M145.5 109.6h0M144.3 93.9h0M139.8 60.1h0M146.1 75.2h0M184.2 110.9h0M190.4 98.5h0M204.5 85.3h0M150.1 96.2h0M153.7 92.0h0M157.5 101.3h0M178.4 76.8h0"/><path stroke="#00ffff" stroke-width="8.8" d="M161.0 34.1h0M173.6 26.5h0M186.5 43.7h0M207.8 43.7h0M205.3 25.3h0"/><path stroke="#0020ff" stroke-width="8.8" d="M130.7 0.9h0"/><path stroke="#dfff20" stroke-width="7.8" d="M96.4 84.4h0M113.9 95.9h0M110.2 76.9h0M160.9 82.0h0M164.5 69.0h0M196.5 116.9h0M163.1 100.2h0M172.2 88.1h0M178.3 86.0h0M212.7 129.2h0"/><path stroke="#bf0000" stroke-width="7.8" d="M86.8 72.5h0M99.9 114.0h0M104.6 122.8h0M96.3 94.1h0M112.0 106.7h0M122.9 118.2h0M125.8 123.9h0M111.5 81.9h0M124.2 108.4h0M123.0 83.4h0M130.1 96.9h0M134.4 96.4h0M131.3 77.0h0M143.0 103.8h0M147.2 114.0h0M148.4 118.4h0M147.3 89.0h0M164.2 114.2h0M146.5 62.6h0M156.2 85.7h0M174.5 111.6h0M178.6 112.4h0M186.3 103.8h0M192.9 107.7h0M196.3 102.9h0M202.0 116.2h0M201.8 92.1h0M203.4 96.2h0M211.6 104.3h0M210.4 88.5h0M221.0 112.8h0M152.0 101.9h0M190.9 78.6h0"/><path stroke="#800000" stroke-width="7.2" d="M80.3 33.3h0M90.0 21.0h0"/><path stroke="#00ffff" stroke-width="7.8" d="M185.0 64.4h0M194.6 72.6h0M196.0 67.4h0M143.7 32.9h0M119.1 149.2h0M145.1 169.3h0M137.0 136.4h0M155.5 180.9h0M182.4 141.2h0"/><path stroke="#ff2000" stroke-width="8.4" d="M212.1 63.4h0M223.1 66.5h0M232.1 64.1h0"/><path stroke="#0000ff" stroke-width="7.8" d="M142.6 79.6h0M114.9 135.8h0M122.6 154.2h0M117.1 129.6h0M142.3 174.7h0M127.0 128.5h0M152.5 186.1h0M153.7 178.2h0M138.2 129.5h0M157.6 176.3h0M147.5 138.6h0M153.8 153.1h0M161.8 145.7h0M163.3 149.8h0M160.9 131.1h0M171.8 157.6h0M172.6 148.3h0M183.1 145.7h0M181.9 131.4h0"/><path stroke="#009fff" stroke-width="7.8" d="M146.6 149.5h0M172.0 122.4h0M198.3 133.2h0M220.9 132.7h0"/><path stroke="#0020ff" stroke-width="7.8" d="M100.4 104.1h0M107.5 122.6h0M149.2 81.8h0M190.6 103.1h0M138.6 43.0h0M146.4 38.3h0M151.6 37.3h0M109.2 137.9h0M117.3 154.6h0M122.5 143.9h0M142.3 189.3h0M129.7 147.3h0M130.6 137.2h0M132.8 142.3h0M146.9 172.2h0M149.4 178.1h0M150.7 183.4h0M144.0 155.3h0M144.7 158.5h0M136.9 125.5h0M148.7 152.8h0M150.6 147.2h0M150.8 123.2h0M166.7 159.8h0M163.9 130.8h0M186.0 154.5h0M189.6 148.2h0M184.0 124.6h0M188.8 124.4h0"/><path stroke="#00dfff" stroke-width="8.4" d="M221.5 61.9h0"/><path stroke="#60ff9f" stroke-width="7.8" d="M160.3 69.9h0M165.3 79.2h0M217.5 137.0h0"/><path stroke="#9f0000" stroke-width="7.2" d="M77.2 28.1h0M79.7 21.3h0M85.0 6.3h0"/><path stroke="#009fff" stroke-width="8.8" d="M179.9 55.0h0M190.1 37.5h0"/><path stroke="#9fff60" stroke-width="8.8" d="M166.4 13.1h0M170.6 32.5h0M182.7 43.8h0M189.1 12.8h0M193.9 12.4h0M194.9 17.2h0M203.7 10.4h0M213.1 8.1h0"/><path stroke="#0000df" stroke-width="8.8" d="M135.6 0.6h0"/><path stroke="#20ffdf" stroke-width="8.4" d="M222.1 76.0h0"/><path stroke="#00009f" stroke-width="7.8" d="M95.0 30.0h0M105.8 67.7h0M124.5 73.2h0M111.3 131.1h0M117.1 144.7h0M140.2 195.0h0M124.5 149.3h0M140.5 169.1h0M134.1 145.8h0M137.6 154.3h0M143.4 164.9h0M151.7 172.0h0M142.4 124.0h0M163.0 165.6h0M177.7 156.5h0M169.7 128.9h0M182.6 155.5h0M187.2 130.5h0M159.8 190.9h0M174.0 187.6h0M202.1 166.8h0M208.0 179.6h0"/><path stroke="#ffbf00" stroke-width="7.8" d="M98.1 99.9h0M110.0 110.9h0M137.1 115.2h0M195.3 97.2h0M167.4 99.4h0M175.6 67.4h0M191.9 68.5h0"/><path stroke="#ff2000" stroke-width="7.8" d="M86.2 56.2h0M107.9 97.0h0M132.3 115.1h0M125.3 87.8h0M136.5 110.1h0M142.0 89.3h0M161.1 121.0h0M149.0 58.5h0M175.0 116.8h0M179.0 101.4h0M192.1 93.0h0M196.5 91.8h0M165.8 85.1h0M187.5 69.1h0"/><path stroke="#ffdf00" stroke-width="7.8" d="M116.6 116.3h0M118.3 83.7h0M183.7 100.0h0M183.7 85.5h0M195.3 87.6h0M195.4 62.6h0M156.4 95.2h0M158.9 91.8h0M159.6 94.6h0M164.8 94.5h0M171.0 94.4h0M174.2 102.1h0M175.3 91.9h0M181.4 80.6h0M200.8 75.3h0"/><path stroke="#ff0000" stroke-width="8.8" d="M157.9 1.4h0M163.3 14.1h0M174.0 17.5h0"/><path stroke="#ff8000" stroke-width="8.8" d="M154.2 5.5h0M157.5 14.9h0M161.0 10.2h0M168.8 27.2h0M196.1 27.2h0"/><path stroke="#0000ff" stroke-width="8.8" d="M133.6 5.9h0M140.8 -1.2h0"/><path stroke="#ffff00" stroke-width="8.8" d="M158.0 39.9h0M166.7 58.9h0M163.9 29.6h0M179.4 26.3h0M196.3 51.7h0M193.7 23.8h0M200.7 40.1h0M203.0 30.0h0"/><path stroke="#ff0000" stroke-width="8.4" d="M213.2 69.2h0"/><path stroke="#ff9f00" stroke-width="8.4" d="M214.4 83.2h0M219.2 72.4h0"/><path stroke="#ffbf00" stroke-width="8.8" d="M178.8 62.2h0"/><path stroke="#dfff20" stroke-width="8.8" d="M167.7 3.8h0M163.4 49.4h0M171.0 56.9h0M187.8 23.3h0M199.7 26.5h0M206.6 41.0h0"/><path stroke="#00bfff" stroke-width="8.8" d="M159.4 30.4h0M215.7 17.6h0"/><path stroke="#ffbf00" stroke-width="7.2" d="M76.1 13.3h0"/><path stroke="#60ff9f" stroke-width="8.8" d="M154.2 56.1h0M172.3 47.7h0M182.8 20.7h0"/><path stroke="#ff8000" stroke-width="7.8" d="M103.1 88.1h0M110.8 90.5h0M147.9 78.4h0M150.7 72.0h0M188.1 84.3h0M208.0 93.2h0M214.7 108.7h0M205.9 75.3h0M212.9 93.8h0M164.8 103.8h0M180.2 90.6h0M173.9 78.1h0"/><path stroke="#ff8000" stroke-width="7.2" d="M70.5 20.3h0M82.7 37.9h0"/><path stroke="#df0000" stroke-width="7.8" d="M90.9 81.2h0M105.6 93.3h0M108.6 87.5h0M133.0 81.1h0M139.0 95.3h0M147.6 103.7h0M157.1 111.5h0M167.0 109.2h0M155.3 71.6h0M181.6 105.3h0M184.3 89.3h0M197.8 107.2h0M204.7 111.2h0M208.3 105.0h0M152.5 89.3h0M169.9 68.0h0M136.1 40.1h0"/><path stroke="#9f0000" stroke-width="7.8" d="M83.8 66.4h0M89.3 75.9h0M83.7 51.5h0M93.8 74.9h0M87.1 51.4h0M90.2 56.6h0M91.7 59.4h0M102.1 109.1h0M104.7 112.6h0M110.8 127.2h0M101.0 93.3h0M106.7 106.4h0M110.2 102.0h0M113.8 110.7h0M120.3 124.3h0M106.4 82.6h0M119.5 99.1h0M116.5 79.7h0M120.2 89.9h0M124.2 94.4h0M127.4 102.8h0M130.5 111.8h0M132.8 100.9h0M138.8 120.0h0M130.0 86.8h0M135.8 100.5h0M140.7 110.1h0M144.5 119.3h0M135.9 86.4h0M140.5 85.7h0M149.0 106.8h0M154.6 117.4h0M136.4 51.2h0M162.3 109.9h0M168.2 113.6h0M170.2 118.4h0M151.3 62.2h0M153.0 66.2h0M157.0 75.4h0M172.1 107.6h0M163.1 74.7h0M167.6 63.0h0M188.6 109.3h0M194.8 112.6h0M200.4 111.9h0M201.3 87.0h0M215.1 117.9h0M219.1 117.5h0M204.1 71.0h0M207.6 79.6h0"/><path stroke="#ffff00" stroke-width="8.4" d="M230.9 70.4h0"/><path stroke="#40ffbf" stroke-width="8.8" d="M208.9 19.8h0"/><path stroke="#0080ff" stroke-width="8.8" d="M179.0 51.1h0"/><path stroke="#00009f" stroke-width="8.8" d="M61.6 1.7h0M64.2 -3.7h0M78.8 2.2h0M80.2 -3.0h0M83.1 3.2h0M87.1 -0.3h0"/><path stroke="#80ff80" stroke-width="8.8" d="M174.3 61.6h0M174.7 41.6h0M183.4 50.6h0M187.9 59.1h0M187.2 33.8h0M208.2 54.8h0M220.1 20.3h0"/><path stroke="#00ffff" stroke-width="8.4" d="M212.9 54.1h0"/><path stroke="#80ff80" stroke-width="7.8" d="M170.7 103.9h0M171.4 97.1h0M150.4 32.6h0M217.9 127.4h0"/><path stroke="#00bfff" stroke-width="7.8" d="M111.8 141.9h0M137.1 175.9h0M192.1 144.3h0"/><path stroke="#ff6000" stroke-width="7.8" d="M101.1 42.5h0M101.7 118.6h0M94.3 89.6h0M140.5 99.3h0M135.4 59.6h0M165.5 119.6h0M143.7 53.7h0M175.7 81.8h0M202.6 105.5h0M206.9 90.5h0M218.8 101.5h0"/><path stroke="#800000" stroke-width="7.8" d="M77.6 53.5h0M80.4 57.8h0M81.7 62.4h0M85.9 60.2h0M88.3 65.8h0M90.8 70.2h0M96.1 69.7h0M99.7 89.6h0M103.1 98.4h0M110.8 115.7h0M111.6 121.1h0M97.3 74.8h0M100.6 78.5h0M117.1 105.5h0M121.0 114.0h0M114.5 85.8h0M126.2 76.8h0M128.2 81.5h0M145.3 99.1h0M151.0 112.5h0M135.8 66.0h0M139.6 69.0h0M159.5 116.1h0M137.7 54.2h0M141.3 65.1h0M143.6 68.7h0M145.6 57.3h0M148.4 68.3h0M144.8 47.9h0M177.1 107.0h0M185.2 116.3h0M192.6 83.1h0M189.5 63.1h0M211.1 109.5h0M203.6 80.1h0M217.1 112.9h0M216.3 97.4h0M218.8 106.6h0"/><path stroke="#0040ff" stroke-width="8.8" d="M177.5 34.5h0"/><path stroke="#dfff20" stroke-width="7.2" d="M77.9 17.3h0M81.7 12.3h0M84.9 21.5h0"/><path stroke="#0000df" stroke-width="7.8" d="M95.9 33.8h0M104.8 103.7h0M116.3 90.1h0M133.6 35.9h0M114.6 146.4h0M117.2 140.5h0M139.1 179.1h0M132.2 152.4h0M143.5 178.6h0M132.1 126.8h0M141.6 134.6h0M155.7 171.3h0M148.7 128.3h0M162.6 160.9h0M164.8 154.4h0M166.7 143.0h0M162.7 125.4h0M167.7 124.6h0M179.5 150.4h0M177.7 120.9h0M183.7 135.7h0M196.9 142.9h0M201.5 125.9h0M161.7 195.5h0M182.7 170.6h0M198.6 183.4h0M206.3 185.4h0M228.5 165.1h0"/><path stroke="#0000df" stroke-width="7.2" d="M72.8 14.4h0"/><path stroke="#df0000" stroke-width="8.8" d="M153.0 17.5h0"/><path stroke="#20ffdf" stroke-width="7.8" d="M103.7 72.8h0M180.2 67.3h0M153.5 41.4h0"/><path stroke="#000080" stroke-width="8.8" d="M56.5 3.2h0M58.8 -1.9h0M65.8 1.0h0M137.7 5.8h0M142.1 4.3h0"/><path stroke="#0000ff" stroke-width="7.2" d="M75.2 33.6h0"/><path stroke="#40ffbf" stroke-width="7.8" d="M186.4 79.1h0M185.2 139.2h0"/><path stroke="#20ffdf" stroke-width="8.8" d="M190.3 2.5h0M193.2 8.1h0"/><path stroke="#000080" stroke-width="7.8" d="M90.3 31.1h0M91.9 35.6h0M96.9 23.9h0M117.0 69.9h0M129.4 72.4h0M138.5 191.3h0M118.9 135.0h0M126.8 153.7h0M145.4 193.8h0M136.8 151.3h0M142.7 138.6h0M153.2 161.6h0M146.5 123.9h0M151.2 133.5h0M156.5 147.1h0M156.2 131.9h0M165.6 135.0h0M169.0 138.0h0M171.0 143.4h0M172.2 132.1h0M176.0 141.9h0M178.5 136.2h0M185.0 150.2h0M188.8 145.0h0M188.8 134.5h0M189.7 138.7h0M141.6 210.8h0M146.9 198.5h0M148.9 203.9h0M150.8 208.8h0M150.3 193.3h0M152.2 198.4h0M153.3 202.5h0M156.5 206.9h0M155.2 191.8h0M156.4 197.3h0M158.7 200.5h0M159.6 205.6h0M163.9 201.7h0M162.0 185.6h0M164.1 189.7h0M165.8 194.3h0M168.3 198.5h0M170.6 203.8h0M165.7 179.8h0M166.9 183.7h0M169.2 188.2h0M173.6 197.4h0M171.5 179.3h0M172.5 181.6h0M176.2 193.5h0M178.4 197.4h0M179.7 202.6h0M178.3 181.6h0M177.4 187.0h0M180.2 190.1h0M183.2 194.8h0M183.3 201.0h0M179.1 175.7h0M181.2 180.5h0M184.6 186.5h0M186.5 190.4h0M188.1 194.6h0M190.7 199.6h0M184.8 175.0h0M187.4 179.2h0M189.5 184.3h0M191.8 188.6h0M193.1 193.8h0M192.5 198.6h0M188.1 169.5h0M189.9 174.6h0M191.5 178.5h0M192.8 182.8h0M194.4 186.6h0M197.9 193.0h0M199.7 197.1h0M192.0 168.3h0M197.2 177.6h0M201.3 187.0h0M202.9 190.9h0M204.0 195.9h0M200.0 171.6h0M201.0 177.4h0M204.7 181.5h0M206.6 190.0h0M210.1 195.8h0M203.4 170.8h0M207.7 176.1h0M211.3 185.9h0M211.8 189.7h0M215.1 193.4h0M207.6 164.2h0M210.2 170.5h0M211.8 174.4h0M213.0 179.5h0M215.4 183.2h0M216.7 188.4h0M212.8 165.3h0M213.7 168.8h0M215.2 173.3h0M218.1 178.3h0M218.9 182.8h0M221.4 188.1h0M223.7 190.7h0M217.9 163.9h0M219.3 168.5h0M222.3 176.3h0M223.8 181.5h0M227.3 186.6h0M228.3 189.9h0M222.9 167.3h0M226.6 170.9h0M228.8 176.5h0M229.8 179.7h0M231.7 184.7h0M234.4 189.2h0M225.6 161.1h0M232.8 174.4h0M235.4 179.1h0M232.3 161.1h0M233.8 165.2h0M235.4 169.3h0"/><path stroke="#ffbf00" stroke-width="8.4" d="M210.2 73.5h0M228.5 79.8h0"/></g></g></g>
<use href="#map" x="196.5" y="486.3"/>
<text x="215.4" y="466.5" font-size="13.5" textLength="25.9" lengthAdjust="spacingAndGlyphs" font-weight="bold" fill="#262626" stroke="#262626" stroke-width="0.25">100</text>
<text x="252.2" y="466.5" font-size="13.5" textLength="13.9" lengthAdjust="spacingAndGlyphs" font-weight="bold" fill="#262626" stroke="#262626" stroke-width="0.25">W</text>
<circle cx="245.0" cy="453.8" r="1.5" fill="none" stroke="#262626" stroke-width="0.9"/>
<text x="284.0" y="466.5" font-size="13.5" textLength="17.1" lengthAdjust="spacingAndGlyphs" font-weight="bold" fill="#262626" stroke="#262626" stroke-width="0.25">90</text>
<text x="313.2" y="466.5" font-size="13.5" textLength="13.9" lengthAdjust="spacingAndGlyphs" font-weight="bold" fill="#262626" stroke="#262626" stroke-width="0.25">W</text>
<circle cx="305.0" cy="453.8" r="1.5" fill="none" stroke="#262626" stroke-width="0.9"/>
<text x="348.1" y="466.5" font-size="13.5" textLength="17.1" lengthAdjust="spacingAndGlyphs" font-weight="bold" fill="#262626" stroke="#262626" stroke-width="0.25">80</text>
<text x="377.3" y="466.5" font-size="13.5" textLength="13.9" lengthAdjust="spacingAndGlyphs" font-weight="bold" fill="#262626" stroke="#262626" stroke-width="0.25">W</text>
<circle cx="369.8" cy="453.8" r="1.5" fill="none" stroke="#262626" stroke-width="0.9"/>
<text x="411.2" y="466.5" font-size="13.5" textLength="16.4" lengthAdjust="spacingAndGlyphs" font-weight="bold" fill="#262626" stroke="#262626" stroke-width="0.25">70</text>
<text x="439.7" y="466.5" font-size="13.5" textLength="13.9" lengthAdjust="spacingAndGlyphs" font-weight="bold" fill="#262626" stroke="#262626" stroke-width="0.25">W</text>
<circle cx="431.8" cy="453.8" r="1.5" fill="none" stroke="#262626" stroke-width="0.9"/>
<text x="145.9" y="502.5" font-size="13.5" textLength="17.7" lengthAdjust="spacingAndGlyphs" font-weight="bold" fill="#262626" stroke="#262626" stroke-width="0.25">48</text>
<text x="175.5" y="502.5" font-size="13.5" textLength="10.0" lengthAdjust="spacingAndGlyphs" font-weight="bold" fill="#262626" stroke="#262626" stroke-width="0.25">N</text>
<circle cx="168.0" cy="489.0" r="1.5" fill="none" stroke="#262626" stroke-width="0.9"/>
<text x="145.9" y="520.5" font-size="13.5" textLength="17.7" lengthAdjust="spacingAndGlyphs" font-weight="bold" fill="#262626" stroke="#262626" stroke-width="0.25">46</text>
<text x="175.5" y="520.5" font-size="13.5" textLength="10.0" lengthAdjust="spacingAndGlyphs" font-weight="bold" fill="#262626" stroke="#262626" stroke-width="0.25">N</text>
<circle cx="168.0" cy="507.0" r="1.5" fill="none" stroke="#262626" stroke-width="0.9"/>
<text x="145.9" y="537.2" font-size="13.5" textLength="17.7" lengthAdjust="spacingAndGlyphs" font-weight="bold" fill="#262626" stroke="#262626" stroke-width="0.25">44</text>
<text x="175.5" y="537.2" font-size="13.5" textLength="10.0" lengthAdjust="spacingAndGlyphs" font-weight="bold" fill="#262626" stroke="#262626" stroke-width="0.25">N</text>
<circle cx="168.0" cy="523.7" r="1.5" fill="none" stroke="#262626" stroke-width="0.9"/>
<text x="145.9" y="556.5" font-size="13.5" textLength="17.7" lengthAdjust="spacingAndGlyphs" font-weight="bold" fill="#262626" stroke="#262626" stroke-width="0.25">42</text>
<text x="175.5" y="556.5" font-size="13.5" textLength="10.0" lengthAdjust="spacingAndGlyphs" font-weight="bold" fill="#262626" stroke="#262626" stroke-width="0.25">N</text>
<circle cx="168.0" cy="543.0" r="1.5" fill="none" stroke="#262626" stroke-width="0.9"/>
<text x="145.9" y="572.5" font-size="13.5" textLength="17.7" lengthAdjust="spacingAndGlyphs" font-weight="bold" fill="#262626" stroke="#262626" stroke-width="0.25">40</text>
<text x="175.5" y="572.5" font-size="13.5" textLength="10.0" lengthAdjust="spacingAndGlyphs" font-weight="bold" fill="#262626" stroke="#262626" stroke-width="0.25">N</text>
<circle cx="168.0" cy="559.0" r="1.5" fill="none" stroke="#262626" stroke-width="0.9"/>
<text x="145.9" y="587.2" font-size="13.5" textLength="17.7" lengthAdjust="spacingAndGlyphs" font-weight="bold" fill="#262626" stroke="#262626" stroke-width="0.25">38</text>
<text x="175.5" y="587.2" font-size="13.5" textLength="10.0" lengthAdjust="spacingAndGlyphs" font-weight="bold" fill="#262626" stroke="#262626" stroke-width="0.25">N</text>
<circle cx="168.0" cy="573.7" r="1.5" fill="none" stroke="#262626" stroke-width="0.9"/>
<text x="145.9" y="604.1" font-size="13.5" textLength="17.7" lengthAdjust="spacingAndGlyphs" font-weight="bold" fill="#262626" stroke="#262626" stroke-width="0.25">36</text>
<text x="175.5" y="604.1" font-size="13.5" textLength="10.0" lengthAdjust="spacingAndGlyphs" font-weight="bold" fill="#262626" stroke="#262626" stroke-width="0.25">N</text>
<circle cx="168.0" cy="590.6" r="1.5" fill="none" stroke="#262626" stroke-width="0.9"/>
<text x="145.9" y="618.1" font-size="13.5" textLength="17.7" lengthAdjust="spacingAndGlyphs" font-weight="bold" fill="#262626" stroke="#262626" stroke-width="0.25">34</text>
<text x="175.5" y="618.1" font-size="13.5" textLength="10.0" lengthAdjust="spacingAndGlyphs" font-weight="bold" fill="#262626" stroke="#262626" stroke-width="0.25">N</text>
<circle cx="168.0" cy="604.6" r="1.5" fill="none" stroke="#262626" stroke-width="0.9"/>
<text x="145.9" y="635.2" font-size="13.5" textLength="17.7" lengthAdjust="spacingAndGlyphs" font-weight="bold" fill="#262626" stroke="#262626" stroke-width="0.25">32</text>
<text x="175.5" y="635.2" font-size="13.5" textLength="10.0" lengthAdjust="spacingAndGlyphs" font-weight="bold" fill="#262626" stroke="#262626" stroke-width="0.25">N</text>
<circle cx="168.0" cy="621.7" r="1.5" fill="none" stroke="#262626" stroke-width="0.9"/>
<text x="145.9" y="648.8" font-size="13.5" textLength="17.7" lengthAdjust="spacingAndGlyphs" font-weight="bold" fill="#262626" stroke="#262626" stroke-width="0.25">30</text>
<text x="175.5" y="648.8" font-size="13.5" textLength="10.0" lengthAdjust="spacingAndGlyphs" font-weight="bold" fill="#262626" stroke="#262626" stroke-width="0.25">N</text>
<circle cx="168.0" cy="635.3" r="1.5" fill="none" stroke="#262626" stroke-width="0.9"/>
<text x="145.9" y="662.0" font-size="13.5" textLength="17.7" lengthAdjust="spacingAndGlyphs" font-weight="bold" fill="#262626" stroke="#262626" stroke-width="0.25">28</text>
<text x="175.5" y="662.0" font-size="13.5" textLength="10.0" lengthAdjust="spacingAndGlyphs" font-weight="bold" fill="#262626" stroke="#262626" stroke-width="0.25">N</text>
<circle cx="168.0" cy="648.5" r="1.5" fill="none" stroke="#262626" stroke-width="0.9"/>
<text x="145.9" y="676.7" font-size="13.5" textLength="17.7" lengthAdjust="spacingAndGlyphs" font-weight="bold" fill="#262626" stroke="#262626" stroke-width="0.25">26</text>
<text x="175.5" y="676.7" font-size="13.5" textLength="10.0" lengthAdjust="spacingAndGlyphs" font-weight="bold" fill="#262626" stroke="#262626" stroke-width="0.25">N</text>
<circle cx="168.0" cy="663.2" r="1.5" fill="none" stroke="#262626" stroke-width="0.9"/>
<text x="145.9" y="690.5" font-size="13.5" textLength="17.7" lengthAdjust="spacingAndGlyphs" font-weight="bold" fill="#262626" stroke="#262626" stroke-width="0.25">24</text>
<text x="175.5" y="690.5" font-size="13.5" textLength="10.0" lengthAdjust="spacingAndGlyphs" font-weight="bold" fill="#262626" stroke="#262626" stroke-width="0.25">N</text>
<circle cx="168.0" cy="677.0" r="1.5" fill="none" stroke="#262626" stroke-width="0.9"/>
<text x="145.9" y="703.9" font-size="13.5" textLength="17.7" lengthAdjust="spacingAndGlyphs" font-weight="bold" fill="#262626" stroke="#262626" stroke-width="0.25">22</text>
<text x="175.5" y="703.9" font-size="13.5" textLength="10.0" lengthAdjust="spacingAndGlyphs" font-weight="bold" fill="#262626" stroke="#262626" stroke-width="0.25">N</text>
<circle cx="168.0" cy="690.4" r="1.5" fill="none" stroke="#262626" stroke-width="0.9"/>
<rect x="441.3" y="484.9" width="23.6" height="215.3" fill="url(#jet)" stroke="#262626" stroke-width="0.8"/>
<path d="M464.9,539.2h-3M464.9,592.8h-3M464.9,646.5h-3" stroke="#262626" stroke-width="0.9"/>
<text x="473.5" y="493.5" font-size="22.5" textLength="13.0" lengthAdjust="spacingAndGlyphs" font-weight="bold" fill="#262626" stroke="#262626" stroke-width="0.4">2</text>
<text x="473.5" y="547.0" font-size="22.5" textLength="13.0" lengthAdjust="spacingAndGlyphs" font-weight="bold" fill="#262626" stroke="#262626" stroke-width="0.4">1</text>
<text x="473.5" y="600.0" font-size="22.5" textLength="13.0" lengthAdjust="spacingAndGlyphs" font-weight="bold" fill="#262626" stroke="#262626" stroke-width="0.4">0</text>
<text x="473.5" y="654.5" font-size="22.5" textLength="22.0" lengthAdjust="spacingAndGlyphs" font-weight="bold" fill="#262626" stroke="#262626" stroke-width="0.4">-1</text>
<text x="473.5" y="706.5" font-size="22.5" textLength="22.0" lengthAdjust="spacingAndGlyphs" font-weight="bold" fill="#262626" stroke="#262626" stroke-width="0.4">-2</text>
<text x="132.8" y="731.0" font-size="23" textLength="349.3" lengthAdjust="spacingAndGlyphs" font-weight="bold" fill="#262626" stroke="#262626" stroke-width="0.45">SAT-RAP 850 hPa Temp (K)</text>
<rect x="616.5" y="486.3" width="232.3" height="212.3" fill="#fff" stroke="#262626" stroke-width="1.1"/>
<g clip-path="url(#swd1)" transform="translate(616.5,486.3)"><g transform="translate(-616.5,-486.3)"><g transform="translate(616.5,486.3)" fill="none" stroke-linecap="round"><polygon points="100,76 134,76 134,54 154,54 174,62 198,64 206,74 208,89 198,106 188,118 144,124 108,132 100,114 92,92" fill="#9e0000" transform="scale(1)"/><polygon points="108,132 144,126 184,120 196,114 176,139 158,159 142,162 118,154" fill="#00faff" transform="scale(1)"/><polygon points="198,82 218,89 218,104 198,126 172,159 158,174 154,164 184,126" fill="#001aff" transform="scale(1)"/><polygon points="218,102 236,104 238,126 198,154 178,164 170,160 198,126" fill="#9e0000" transform="scale(1)"/><polygon points="120,154 144,159 144,204 134,212 128,186" fill="#9e0000" transform="scale(1)"/><polygon points="144,159 166,164 170,172 146,194 140,216 134,212 144,204" fill="#001aff" transform="scale(1)"/><polygon points="170,174 236,160 238,194 140,216 146,194" fill="#000080" transform="scale(1)"/><path stroke="#ff6000" stroke-width="7.8" d="M178.4 25.1h0M132.0 186.7h0M134.8 196.9h0M232.0 160.1h0"/><path stroke="#0000bf" stroke-width="7.8" d="M92.3 35.8h0M92.6 23.8h0M102.0 63.7h0M110.7 66.1h0M227.1 64.7h0M117.2 140.1h0M162.5 146.7h0M169.8 128.4h0M156.4 161.4h0M161.2 156.1h0M167.2 158.2h0M172.6 148.5h0M176.0 141.4h0M196.4 92.5h0M202.7 105.6h0M207.7 104.3h0M145.6 184.8h0M144.5 169.2h0M154.1 177.3h0M152.3 162.7h0M156.5 170.6h0M171.3 167.7h0M182.0 165.2h0M197.3 166.7h0M148.2 213.4h0M149.0 203.8h0M152.5 212.8h0M150.3 192.5h0M160.0 191.6h0M162.3 196.2h0M165.3 204.4h0M166.3 194.4h0M168.4 198.6h0M170.6 202.9h0M171.4 208.6h0M169.6 188.0h0M175.8 202.6h0M186.2 180.0h0M192.9 193.3h0M197.2 193.4h0M195.0 172.9h0M200.3 186.9h0M206.9 199.9h0M207.6 190.3h0M215.7 198.0h0M221.1 197.0h0M214.0 168.9h0M218.7 178.5h0M225.3 181.2h0M225.8 169.5h0M227.9 175.8h0M233.7 180.1h0"/><path stroke="#80ff80" stroke-width="7.8" d="M205.2 14.6h0M210.8 14.0h0M188.1 59.3h0M207.1 65.5h0M216.6 63.6h0"/><path stroke="#9fff60" stroke-width="7.8" d="M190.0 38.7h0M216.4 37.6h0M193.6 83.5h0M214.7 58.1h0"/><path stroke="#0020ff" stroke-width="7.2" d="M68.5 21.2h0"/><path stroke="#000080" stroke-width="8.8" d="M58.5 -2.5h0M61.6 1.8h0M65.5 -0.2h0M80.8 -2.8h0M83.0 2.1h0M86.0 -4.1h0M87.1 0.3h0"/><path stroke="#ff2000" stroke-width="7.8" d="M100.1 104.5h0M116.6 79.4h0M127.3 93.9h0M134.1 106.3h0M134.8 70.9h0M150.9 22.5h0M150.6 12.0h0M162.7 13.8h0M179.4 161.5h0M196.3 152.5h0M208.3 130.5h0M211.6 113.8h0M213.8 118.8h0M237.7 124.5h0M142.0 175.9h0"/><path stroke="#60ff9f" stroke-width="7.8" d="M138.9 -0.3h0M201.2 15.5h0"/><path stroke="#ffff00" stroke-width="7.2" d="M83.8 16.8h0"/><path stroke="#df0000" stroke-width="7.8" d="M106.6 117.1h0M103.9 99.4h0M105.1 102.4h0M116.7 129.2h0M103.2 87.0h0M108.9 102.2h0M118.7 95.4h0M125.5 112.3h0M129.0 96.7h0M150.1 122.4h0M145.1 99.1h0M147.4 102.9h0M158.7 116.6h0M141.6 63.3h0M143.6 58.1h0M165.8 94.0h0M159.2 66.8h0M178.9 111.2h0M185.4 104.5h0M156.0 36.0h0M183.8 24.4h0M213.5 68.2h0M191.8 78.4h0M178.5 156.4h0M211.3 125.1h0M222.4 136.2h0M223.7 127.6h0M230.2 118.8h0M229.1 104.1h0M133.4 192.3h0M130.3 171.5h0M133.6 177.4h0M129.4 156.8h0M137.4 166.0h0M143.2 179.4h0M142.3 164.0h0"/><path stroke="#ff4000" stroke-width="7.2" d="M88.9 66.6h0"/><path stroke="#ff8000" stroke-width="7.2" d="M73.4 29.3h0M92.3 85.8h0M90.4 71.0h0M92.8 74.9h0"/><path stroke="#800000" stroke-width="7.8" d="M99.9 113.8h0M96.3 93.9h0M98.1 99.9h0M97.6 83.7h0M98.5 88.6h0M111.4 116.8h0M113.3 120.4h0M114.2 125.6h0M105.9 92.6h0M110.1 86.6h0M112.3 96.0h0M118.9 109.2h0M116.1 90.7h0M128.0 117.3h0M130.2 122.1h0M135.9 124.7h0M124.3 83.6h0M125.6 87.5h0M132.2 92.0h0M143.1 104.9h0M146.5 113.0h0M143.5 89.3h0M143.1 94.1h0M152.0 112.5h0M134.8 61.6h0M136.9 66.1h0M139.1 70.6h0M141.5 75.0h0M150.5 97.7h0M154.9 101.9h0M142.9 69.5h0M154.3 82.1h0M161.0 95.6h0M170.4 118.7h0M149.4 57.6h0M154.6 70.9h0M157.8 75.5h0M161.6 84.9h0M171.9 108.2h0M161.0 60.5h0M173.4 87.2h0M178.7 87.1h0M179.8 90.4h0M181.6 95.0h0M188.1 108.2h0M184.8 90.3h0M190.3 99.3h0M148.6 8.4h0M188.7 144.7h0M192.8 144.4h0M195.3 137.2h0M201.2 150.7h0M198.1 132.3h0M203.0 126.5h0M203.6 130.5h0M210.0 118.9h0M219.9 131.8h0M215.3 109.1h0M224.8 131.2h0M228.7 125.2h0M231.1 110.0h0M236.3 108.8h0M130.8 197.4h0M129.0 182.3h0M128.1 167.1h0M139.0 179.7h0M134.0 157.5h0"/><path stroke="#dfff20" stroke-width="7.2" d="M69.7 -1.1h0"/><path stroke="#0060ff" stroke-width="7.8" d="M112.1 131.4h0M129.4 147.9h0M138.0 155.5h0M151.1 157.1h0M144.6 133.6h0M153.6 152.4h0M153.2 141.1h0M147.9 188.5h0M178.4 171.7h0M187.4 169.3h0"/><path stroke="#9f0000" stroke-width="7.2" d="M66.4 15.0h0M72.2 14.7h0M79.8 7.5h0M84.5 7.0h0M95.5 79.7h0M90.3 55.9h0"/><path stroke="#00009f" stroke-width="7.8" d="M134.1 11.3h0M141.8 4.1h0M219.7 57.4h0M142.8 138.2h0M165.6 134.0h0M161.9 160.2h0M165.3 155.5h0M175.0 152.2h0M187.6 134.0h0M190.2 113.4h0M191.8 118.1h0M193.5 97.7h0M210.8 99.5h0M187.8 204.1h0M190.2 199.4h0M188.5 184.5h0M214.8 193.5h0M223.4 177.1h0"/><path stroke="#ffdf00" stroke-width="7.2" d="M85.6 31.9h0"/><path stroke="#bfff40" stroke-width="7.8" d="M192.8 48.5h0M198.3 32.1h0M200.8 40.7h0M193.6 12.3h0M212.1 53.5h0M200.3 1.5h0M214.0 7.6h0"/><path stroke="#ff0000" stroke-width="7.2" d="M75.6 -1.2h0M77.3 1.5h0"/><path stroke="#ffbf00" stroke-width="7.8" d="M116.1 65.4h0M120.6 88.6h0M124.5 97.8h0M183.7 100.6h0M165.2 34.3h0M175.3 42.2h0M199.3 35.9h0M191.2 2.7h0M198.4 21.5h0M203.9 9.2h0M217.0 67.2h0M173.7 61.8h0M188.8 74.2h0M196.4 76.4h0M229.4 155.6h0"/><path stroke="#0080ff" stroke-width="7.8" d="M214.9 22.9h0M117.6 144.7h0M127.5 142.0h0M143.2 155.0h0M156.7 146.8h0M140.6 210.0h0M186.6 165.0h0"/><path stroke="#bf0000" stroke-width="7.8" d="M104.1 123.5h0M94.0 90.3h0M102.4 108.2h0M110.5 127.2h0M100.9 94.0h0M106.0 107.0h0M102.7 83.1h0M112.0 105.9h0M115.2 115.2h0M120.7 114.9h0M123.5 119.3h0M124.8 123.1h0M111.6 80.1h0M123.1 94.7h0M126.1 103.1h0M132.5 116.9h0M130.9 101.8h0M128.1 82.4h0M130.7 87.0h0M135.0 96.5h0M131.1 76.2h0M132.9 81.2h0M135.8 86.9h0M149.0 107.4h0M156.2 120.9h0M156.4 110.5h0M148.4 78.2h0M156.5 96.9h0M159.5 105.3h0M151.2 76.7h0M164.7 104.1h0M167.5 108.1h0M169.3 112.9h0M154.0 66.5h0M164.4 78.4h0M166.9 83.4h0M170.2 93.9h0M172.7 97.9h0M175.3 102.6h0M168.4 73.6h0M171.8 83.4h0M191.5 92.4h0M152.7 17.3h0M158.8 30.4h0M178.8 40.3h0M198.0 57.3h0M179.7 151.1h0M184.9 151.3h0M191.8 153.7h0M199.1 146.5h0M202.1 141.2h0M212.0 140.2h0M217.7 128.2h0M220.8 121.5h0M219.5 106.6h0M226.2 120.3h0M224.2 106.1h0M133.7 181.4h0M140.9 195.2h0M137.9 175.4h0M140.9 184.8h0M142.8 189.0h0"/><path stroke="#800000" stroke-width="7.2" d="M80.2 21.9h0M80.1 56.8h0M84.7 56.8h0M96.2 68.8h0M97.7 74.8h0"/><path stroke="#ff4000" stroke-width="7.8" d="M150.2 82.2h0M156.5 86.9h0M163.7 99.8h0M170.5 68.5h0M186.1 154.6h0"/><path stroke="#00ffff" stroke-width="7.2" d="M72.3 20.3h0M73.2 4.5h0M85.9 20.7h0M85.8 10.6h0"/><path stroke="#df0000" stroke-width="7.2" d="M74.7 33.9h0M86.9 35.8h0M85.8 70.5h0M83.0 52.2h0M102.8 73.4h0"/><path stroke="#00bfff" stroke-width="7.8" d="M141.4 40.5h0M197.0 81.2h0M131.1 136.5h0M163.4 125.0h0M211.2 89.7h0"/><path stroke="#20ffdf" stroke-width="7.2" d="M70.6 24.9h0M81.7 12.3h0"/><path stroke="#9f0000" stroke-width="7.8" d="M98.0 108.8h0M103.3 112.7h0M108.6 121.6h0M109.0 112.7h0M108.1 96.7h0M114.1 109.8h0M117.5 120.2h0M119.8 124.3h0M111.0 90.8h0M116.8 103.7h0M109.2 76.0h0M120.1 99.4h0M118.3 84.6h0M129.5 107.3h0M130.5 111.7h0M134.3 121.3h0M121.8 78.1h0M136.0 112.5h0M137.5 114.7h0M139.4 120.3h0M136.0 100.5h0M138.1 105.9h0M142.0 115.0h0M144.9 117.5h0M138.6 95.2h0M145.9 109.0h0M138.0 81.3h0M154.7 117.8h0M142.9 78.9h0M147.3 87.4h0M147.8 92.8h0M155.5 107.1h0M139.8 60.5h0M151.2 88.0h0M158.6 100.2h0M162.7 109.8h0M165.8 118.4h0M148.4 67.7h0M158.5 90.6h0M152.9 62.9h0M159.7 79.8h0M167.7 99.0h0M169.7 103.3h0M174.1 112.5h0M174.8 117.2h0M154.2 56.1h0M156.0 61.7h0M160.6 70.2h0M162.7 75.1h0M167.9 88.8h0M175.7 105.7h0M162.7 64.0h0M168.8 78.8h0M175.4 92.3h0M176.1 95.8h0M181.2 106.3h0M183.5 109.2h0M185.4 115.7h0M175.9 81.9h0M182.8 85.1h0M187.6 84.4h0M191.0 88.6h0M194.9 87.5h0M147.2 26.4h0M154.7 30.7h0M155.0 20.1h0M160.8 34.0h0M152.8 6.5h0M161.7 24.0h0M182.4 146.4h0M189.2 149.4h0M193.5 132.6h0M209.1 144.8h0M206.1 125.3h0M211.0 134.8h0M215.4 133.7h0M215.8 112.9h0M217.9 117.5h0M221.3 111.9h0M225.8 111.4h0M228.9 115.1h0M232.2 124.4h0M233.7 114.4h0M132.7 202.6h0M123.4 168.4h0M126.3 178.4h0M123.8 158.6h0M133.0 167.2h0M135.4 161.7h0"/><path stroke="#0000df" stroke-width="7.8" d="M88.8 26.6h0M164.4 68.4h0M178.5 49.3h0M223.2 56.3h0M148.5 153.0h0M148.7 128.5h0M178.9 125.9h0M177.6 146.9h0M180.0 140.0h0M181.7 131.5h0M185.8 140.2h0M189.6 124.3h0M194.8 112.2h0M201.8 102.1h0M205.6 110.3h0M201.8 90.8h0M210.1 109.6h0M205.7 86.0h0M208.5 95.4h0M195.6 161.9h0M206.3 164.9h0M211.7 163.3h0M153.1 197.2h0M180.5 202.1h0M187.7 195.0h0M205.5 185.9h0M209.4 195.0h0M231.6 170.6h0M233.5 175.4h0"/><path stroke="#bf0000" stroke-width="7.2" d="M77.4 24.1h0M77.9 27.7h0M79.4 31.8h0M87.5 76.7h0M90.8 80.7h0"/><path stroke="#ffbf00" stroke-width="7.2" d="M68.1 5.5h0M83.6 62.5h0M83.8 66.7h0M94.8 54.6h0"/><path stroke="#ff9f00" stroke-width="7.8" d="M121.3 103.4h0M123.8 108.5h0M148.1 118.5h0M136.5 74.6h0M146.4 73.8h0M168.4 63.7h0M151.9 38.2h0M173.8 52.0h0M201.9 55.5h0M200.6 25.9h0M193.2 57.9h0M199.4 60.4h0M173.1 72.9h0M177.1 72.0h0M183.6 75.4h0M194.3 61.8h0M206.3 74.6h0M204.3 120.2h0M125.9 172.6h0M138.5 191.5h0M157.7 186.3h0M179.8 177.3h0M181.3 180.6h0M231.9 185.2h0M234.3 188.4h0M235.1 154.4h0"/><path stroke="#0000ff" stroke-width="7.8" d="M96.6 34.9h0M124.3 72.5h0M128.1 67.6h0M120.7 149.2h0M121.2 154.0h0M131.6 152.0h0M138.8 130.1h0M145.8 144.0h0M155.6 156.4h0M158.6 125.1h0M176.7 132.0h0M168.8 148.6h0M183.7 135.7h0M191.8 104.1h0M197.3 117.4h0M196.7 102.2h0M202.8 116.3h0M198.5 96.7h0M217.2 88.4h0M194.9 147.5h0M200.2 137.3h0M204.4 145.9h0M146.2 173.3h0M151.9 172.9h0"/><path stroke="#ff8000" stroke-width="7.8" d="M152.7 1.2h0M169.7 17.8h0M182.6 36.0h0M195.4 36.9h0M213.0 78.2h0M210.1 59.9h0M201.3 76.3h0M223.9 116.7h0M138.8 204.6h0M131.0 162.7h0M140.1 160.0h0"/><path stroke="#20ffdf" stroke-width="7.8" d="M108.8 62.4h0M136.9 0.7h0M187.3 34.0h0M181.9 70.0h0M121.4 138.5h0M123.9 143.6h0M129.5 133.2h0M134.1 146.6h0M159.7 139.8h0M160.7 130.0h0M166.2 143.5h0M148.8 177.7h0M150.1 183.1h0M154.7 181.8h0"/><path stroke="#ff2000" stroke-width="7.2" d="M75.4 9.6h0M79.5 18.4h0M86.4 61.0h0M91.8 60.9h0"/><path stroke="#ffdf00" stroke-width="7.8" d="M139.5 47.6h0M150.0 47.6h0M152.2 51.8h0M155.7 45.1h0M157.1 26.3h0M176.9 21.7h0M191.6 43.8h0M195.9 16.7h0M201.7 5.8h0M173.2 77.1h0M175.8 66.9h0M193.8 73.1h0M203.5 70.4h0M142.2 199.8h0"/><path stroke="#ff0000" stroke-width="7.8" d="M99.6 78.3h0M107.1 81.4h0M115.1 99.7h0M113.5 85.4h0M125.2 78.3h0M141.3 110.8h0M138.1 89.3h0M139.4 86.5h0M143.8 83.9h0M164.0 114.6h0M145.5 62.7h0M151.2 71.1h0M180.2 115.5h0M179.5 101.2h0M187.7 94.1h0M142.5 29.7h0M152.7 40.5h0M147.6 19.4h0M146.0 2.3h0M166.5 8.3h0M172.7 47.4h0M169.0 27.3h0M172.2 22.5h0M179.2 15.6h0M191.6 68.3h0M200.7 65.7h0M191.0 138.5h0M197.9 141.9h0M205.2 135.5h0M207.5 140.0h0M212.7 129.5h0M216.6 138.0h0M214.9 121.7h0M229.5 130.0h0M235.6 118.8h0M235.1 104.3h0M129.6 193.8h0M133.8 207.7h0M125.9 162.9h0M140.9 170.9h0"/><path stroke="#0020ff" stroke-width="7.8" d="M96.6 59.0h0M153.1 92.8h0M168.9 53.1h0M176.1 45.4h0M220.4 61.4h0M226.2 75.7h0M229.6 80.0h0M139.2 146.2h0M146.7 148.2h0M143.3 129.6h0M169.0 139.9h0M172.2 132.9h0M171.8 143.3h0M194.6 122.7h0M198.6 121.8h0M199.1 112.2h0M206.1 99.6h0M217.5 102.8h0M172.1 158.2h0M161.2 170.2h0M166.4 169.5h0"/><path stroke="#0040ff" stroke-width="7.8" d="M139.6 34.1h0M230.8 59.6h0M234.9 68.7h0M157.6 150.5h0M152.2 127.2h0M163.1 149.9h0M212.5 103.6h0M181.7 155.5h0M150.4 167.9h0M164.2 165.8h0"/><path stroke="#dfff20" stroke-width="7.8" d="M101.0 42.7h0M164.3 89.8h0M188.8 13.0h0M204.1 45.7h0M197.3 5.8h0M204.5 24.9h0M209.4 34.7h0M214.5 48.3h0M207.6 4.6h0M180.0 65.2h0M185.9 78.2h0M198.8 71.2h0"/><path stroke="#ff9f00" stroke-width="7.2" d="M62.5 5.7h0M65.4 10.6h0M68.8 10.9h0M76.8 12.7h0M83.1 27.1h0M87.3 51.7h0M94.1 65.7h0"/><path stroke="#40ffbf" stroke-width="7.8" d="M137.6 140.2h0M174.6 127.0h0M177.5 122.3h0M207.2 114.0h0M154.7 166.3h0"/><path stroke="#009fff" stroke-width="7.8" d="M216.1 12.6h0M126.0 148.1h0M135.7 150.7h0M140.6 135.3h0M168.1 124.0h0M216.0 98.3h0"/><path stroke="#00ffff" stroke-width="7.8" d="M104.9 66.6h0M146.0 38.0h0M204.1 21.1h0M213.1 33.4h0M218.8 31.5h0M223.6 31.1h0M222.4 14.9h0M202.7 80.1h0M207.5 78.9h0M215.2 82.8h0M220.1 82.0h0M119.0 135.0h0M127.2 152.6h0M123.9 133.4h0M132.1 142.1h0M134.0 130.8h0M135.9 136.3h0M145.7 158.5h0M149.7 143.0h0M149.9 132.0h0M155.2 131.4h0M156.9 135.7h0M174.3 137.4h0M172.6 122.0h0M179.3 136.7h0M187.4 119.9h0M192.9 108.9h0M204.0 95.5h0M213.6 94.2h0M137.3 201.4h0M135.5 186.4h0M135.1 172.1h0M146.6 163.9h0M158.2 176.4h0M163.2 175.4h0M154.5 192.6h0M170.3 177.8h0M222.2 186.5h0"/><path stroke="#000080" stroke-width="7.8" d="M95.9 28.9h0M97.3 23.8h0M99.9 27.4h0M108.3 72.0h0M119.4 73.5h0M137.2 4.0h0M140.2 9.9h0M143.3 9.4h0M221.3 85.9h0M147.5 138.6h0M169.9 153.2h0M184.5 124.9h0M186.9 129.1h0M196.4 127.8h0M199.7 86.3h0M208.1 90.9h0M144.2 205.1h0M146.1 208.7h0M146.3 194.3h0M152.4 209.1h0M153.8 202.3h0M156.3 207.4h0M157.7 211.0h0M157.7 197.0h0M158.8 200.9h0M161.4 205.5h0M163.3 210.2h0M163.8 200.5h0M163.2 185.4h0M164.8 189.6h0M164.4 179.2h0M166.3 184.9h0M170.6 193.0h0M172.3 197.4h0M177.8 207.0h0M171.2 181.8h0M175.2 187.7h0M175.2 193.9h0M177.1 195.3h0M182.2 204.9h0M176.0 176.7h0M177.3 182.3h0M180.1 187.1h0M182.0 191.9h0M182.8 196.1h0M184.4 201.7h0M183.8 186.1h0M186.5 190.9h0M184.5 175.3h0M192.1 188.5h0M195.3 198.5h0M196.9 202.1h0M189.8 174.4h0M191.8 179.2h0M193.6 183.5h0M195.8 187.3h0M200.6 198.0h0M195.6 177.4h0M198.6 181.3h0M202.4 191.6h0M204.8 195.5h0M198.9 171.7h0M202.3 177.6h0M203.5 180.6h0M210.9 199.4h0M203.7 170.8h0M206.8 176.4h0M208.6 180.2h0M210.6 184.1h0M212.2 189.8h0M209.9 170.0h0M213.8 179.4h0M214.6 182.8h0M217.8 188.0h0M220.1 193.1h0M216.7 172.3h0M221.2 182.3h0M225.7 191.5h0M219.0 167.2h0M220.4 172.4h0M226.9 185.6h0M228.7 189.8h0M225.1 166.1h0M229.5 180.2h0M228.9 165.7h0M234.3 165.3h0M235.8 169.0h0"/><path stroke="#00dfff" stroke-width="7.8" d="M136.0 51.5h0M143.2 53.6h0M205.8 40.7h0M217.3 41.4h0M226.3 9.9h0M205.0 59.7h0M113.7 135.7h0M125.7 138.4h0M140.7 149.5h0M151.5 147.1h0M152.9 137.8h0M161.9 134.6h0M163.2 139.3h0M164.4 130.1h0M190.9 129.8h0M198.7 107.9h0M135.9 211.8h0M159.7 166.5h0"/><path stroke="#ffff00" stroke-width="7.8" d="M102.0 47.2h0M102.2 68.7h0M105.1 76.9h0M141.8 99.9h0M145.5 47.8h0M147.7 41.9h0M195.9 51.8h0M187.5 23.5h0M199.1 46.4h0M204.8 49.9h0M191.7 6.7h0M201.1 31.0h0M195.3 2.5h0M199.4 11.0h0M207.6 30.1h0M209.6 24.1h0M185.3 64.6h0M197.4 65.8h0M146.2 198.9h0M212.7 174.6h0"/></g></g></g>
<use href="#map" x="616.5" y="486.3"/>
<text x="636.4" y="466.5" font-size="13.5" textLength="25.9" lengthAdjust="spacingAndGlyphs" font-weight="bold" fill="#262626" stroke="#262626" stroke-width="0.25">100</text>
<text x="673.2" y="466.5" font-size="13.5" textLength="13.9" lengthAdjust="spacingAndGlyphs" font-weight="bold" fill="#262626" stroke="#262626" stroke-width="0.25">W</text>
<circle cx="666.0" cy="453.8" r="1.5" fill="none" stroke="#262626" stroke-width="0.9"/>
<text x="705.0" y="466.5" font-size="13.5" textLength="17.1" lengthAdjust="spacingAndGlyphs" font-weight="bold" fill="#262626" stroke="#262626" stroke-width="0.25">90</text>
<text x="734.2" y="466.5" font-size="13.5" textLength="13.9" lengthAdjust="spacingAndGlyphs" font-weight="bold" fill="#262626" stroke="#262626" stroke-width="0.25">W</text>
<circle cx="726.0" cy="453.8" r="1.5" fill="none" stroke="#262626" stroke-width="0.9"/>
<text x="769.1" y="466.5" font-size="13.5" textLength="17.1" lengthAdjust="spacingAndGlyphs" font-weight="bold" fill="#262626" stroke="#262626" stroke-width="0.25">80</text>
<text x="798.3" y="466.5" font-size="13.5" textLength="13.9" lengthAdjust="spacingAndGlyphs" font-weight="bold" fill="#262626" stroke="#262626" stroke-width="0.25">W</text>
<circle cx="790.8" cy="453.8" r="1.5" fill="none" stroke="#262626" stroke-width="0.9"/>
<text x="832.2" y="466.5" font-size="13.5" textLength="16.4" lengthAdjust="spacingAndGlyphs" font-weight="bold" fill="#262626" stroke="#262626" stroke-width="0.25">70</text>
<text x="860.7" y="466.5" font-size="13.5" textLength="13.9" lengthAdjust="spacingAndGlyphs" font-weight="bold" fill="#262626" stroke="#262626" stroke-width="0.25">W</text>
<circle cx="852.8" cy="453.8" r="1.5" fill="none" stroke="#262626" stroke-width="0.9"/>
<text x="566.9" y="502.5" font-size="13.5" textLength="17.7" lengthAdjust="spacingAndGlyphs" font-weight="bold" fill="#262626" stroke="#262626" stroke-width="0.25">48</text>
<text x="596.5" y="502.5" font-size="13.5" textLength="10.0" lengthAdjust="spacingAndGlyphs" font-weight="bold" fill="#262626" stroke="#262626" stroke-width="0.25">N</text>
<circle cx="589.0" cy="489.0" r="1.5" fill="none" stroke="#262626" stroke-width="0.9"/>
<text x="566.9" y="520.5" font-size="13.5" textLength="17.7" lengthAdjust="spacingAndGlyphs" font-weight="bold" fill="#262626" stroke="#262626" stroke-width="0.25">46</text>
<text x="596.5" y="520.5" font-size="13.5" textLength="10.0" lengthAdjust="spacingAndGlyphs" font-weight="bold" fill="#262626" stroke="#262626" stroke-width="0.25">N</text>
<circle cx="589.0" cy="507.0" r="1.5" fill="none" stroke="#262626" stroke-width="0.9"/>
<text x="566.9" y="537.2" font-size="13.5" textLength="17.7" lengthAdjust="spacingAndGlyphs" font-weight="bold" fill="#262626" stroke="#262626" stroke-width="0.25">44</text>
<text x="596.5" y="537.2" font-size="13.5" textLength="10.0" lengthAdjust="spacingAndGlyphs" font-weight="bold" fill="#262626" stroke="#262626" stroke-width="0.25">N</text>
<circle cx="589.0" cy="523.7" r="1.5" fill="none" stroke="#262626" stroke-width="0.9"/>
<text x="566.9" y="556.5" font-size="13.5" textLength="17.7" lengthAdjust="spacingAndGlyphs" font-weight="bold" fill="#262626" stroke="#262626" stroke-width="0.25">42</text>
<text x="596.5" y="556.5" font-size="13.5" textLength="10.0" lengthAdjust="spacingAndGlyphs" font-weight="bold" fill="#262626" stroke="#262626" stroke-width="0.25">N</text>
<circle cx="589.0" cy="543.0" r="1.5" fill="none" stroke="#262626" stroke-width="0.9"/>
<text x="566.9" y="572.5" font-size="13.5" textLength="17.7" lengthAdjust="spacingAndGlyphs" font-weight="bold" fill="#262626" stroke="#262626" stroke-width="0.25">40</text>
<text x="596.5" y="572.5" font-size="13.5" textLength="10.0" lengthAdjust="spacingAndGlyphs" font-weight="bold" fill="#262626" stroke="#262626" stroke-width="0.25">N</text>
<circle cx="589.0" cy="559.0" r="1.5" fill="none" stroke="#262626" stroke-width="0.9"/>
<text x="566.9" y="587.2" font-size="13.5" textLength="17.7" lengthAdjust="spacingAndGlyphs" font-weight="bold" fill="#262626" stroke="#262626" stroke-width="0.25">38</text>
<text x="596.5" y="587.2" font-size="13.5" textLength="10.0" lengthAdjust="spacingAndGlyphs" font-weight="bold" fill="#262626" stroke="#262626" stroke-width="0.25">N</text>
<circle cx="589.0" cy="573.7" r="1.5" fill="none" stroke="#262626" stroke-width="0.9"/>
<text x="566.9" y="604.1" font-size="13.5" textLength="17.7" lengthAdjust="spacingAndGlyphs" font-weight="bold" fill="#262626" stroke="#262626" stroke-width="0.25">36</text>
<text x="596.5" y="604.1" font-size="13.5" textLength="10.0" lengthAdjust="spacingAndGlyphs" font-weight="bold" fill="#262626" stroke="#262626" stroke-width="0.25">N</text>
<circle cx="589.0" cy="590.6" r="1.5" fill="none" stroke="#262626" stroke-width="0.9"/>
<text x="566.9" y="618.1" font-size="13.5" textLength="17.7" lengthAdjust="spacingAndGlyphs" font-weight="bold" fill="#262626" stroke="#262626" stroke-width="0.25">34</text>
<text x="596.5" y="618.1" font-size="13.5" textLength="10.0" lengthAdjust="spacingAndGlyphs" font-weight="bold" fill="#262626" stroke="#262626" stroke-width="0.25">N</text>
<circle cx="589.0" cy="604.6" r="1.5" fill="none" stroke="#262626" stroke-width="0.9"/>
<text x="566.9" y="635.2" font-size="13.5" textLength="17.7" lengthAdjust="spacingAndGlyphs" font-weight="bold" fill="#262626" stroke="#262626" stroke-width="0.25">32</text>
<text x="596.5" y="635.2" font-size="13.5" textLength="10.0" lengthAdjust="spacingAndGlyphs" font-weight="bold" fill="#262626" stroke="#262626" stroke-width="0.25">N</text>
<circle cx="589.0" cy="621.7" r="1.5" fill="none" stroke="#262626" stroke-width="0.9"/>
<text x="566.9" y="648.8" font-size="13.5" textLength="17.7" lengthAdjust="spacingAndGlyphs" font-weight="bold" fill="#262626" stroke="#262626" stroke-width="0.25">30</text>
<text x="596.5" y="648.8" font-size="13.5" textLength="10.0" lengthAdjust="spacingAndGlyphs" font-weight="bold" fill="#262626" stroke="#262626" stroke-width="0.25">N</text>
<circle cx="589.0" cy="635.3" r="1.5" fill="none" stroke="#262626" stroke-width="0.9"/>
<text x="566.9" y="662.0" font-size="13.5" textLength="17.7" lengthAdjust="spacingAndGlyphs" font-weight="bold" fill="#262626" stroke="#262626" stroke-width="0.25">28</text>
<text x="596.5" y="662.0" font-size="13.5" textLength="10.0" lengthAdjust="spacingAndGlyphs" font-weight="bold" fill="#262626" stroke="#262626" stroke-width="0.25">N</text>
<circle cx="589.0" cy="648.5" r="1.5" fill="none" stroke="#262626" stroke-width="0.9"/>
<text x="566.9" y="676.7" font-size="13.5" textLength="17.7" lengthAdjust="spacingAndGlyphs" font-weight="bold" fill="#262626" stroke="#262626" stroke-width="0.25">26</text>
<text x="596.5" y="676.7" font-size="13.5" textLength="10.0" lengthAdjust="spacingAndGlyphs" font-weight="bold" fill="#262626" stroke="#262626" stroke-width="0.25">N</text>
<circle cx="589.0" cy="663.2" r="1.5" fill="none" stroke="#262626" stroke-width="0.9"/>
<text x="566.9" y="690.5" font-size="13.5" textLength="17.7" lengthAdjust="spacingAndGlyphs" font-weight="bold" fill="#262626" stroke="#262626" stroke-width="0.25">24</text>
<text x="596.5" y="690.5" font-size="13.5" textLength="10.0" lengthAdjust="spacingAndGlyphs" font-weight="bold" fill="#262626" stroke="#262626" stroke-width="0.25">N</text>
<circle cx="589.0" cy="677.0" r="1.5" fill="none" stroke="#262626" stroke-width="0.9"/>
<text x="566.9" y="703.9" font-size="13.5" textLength="17.7" lengthAdjust="spacingAndGlyphs" font-weight="bold" fill="#262626" stroke="#262626" stroke-width="0.25">22</text>
<text x="596.5" y="703.9" font-size="13.5" textLength="10.0" lengthAdjust="spacingAndGlyphs" font-weight="bold" fill="#262626" stroke="#262626" stroke-width="0.25">N</text>
<circle cx="589.0" cy="690.4" r="1.5" fill="none" stroke="#262626" stroke-width="0.9"/>
<rect x="862.0" y="484.9" width="23.6" height="215.3" fill="url(#jet)" stroke="#262626" stroke-width="0.8"/>
<path d="M885.6,539.2h-3M885.6,592.8h-3M885.6,646.5h-3" stroke="#262626" stroke-width="0.9"/>
<text x="894.3" y="493.5" font-size="22.5" textLength="13.0" lengthAdjust="spacingAndGlyphs" font-weight="bold" fill="#262626" stroke="#262626" stroke-width="0.4">2</text>
<text x="894.3" y="547.0" font-size="22.5" textLength="13.0" lengthAdjust="spacingAndGlyphs" font-weight="bold" fill="#262626" stroke="#262626" stroke-width="0.4">1</text>
<text x="894.3" y="600.0" font-size="22.5" textLength="13.0" lengthAdjust="spacingAndGlyphs" font-weight="bold" fill="#262626" stroke="#262626" stroke-width="0.4">0</text>
<text x="894.3" y="654.5" font-size="22.5" textLength="22.0" lengthAdjust="spacingAndGlyphs" font-weight="bold" fill="#262626" stroke="#262626" stroke-width="0.4">-1</text>
<text x="894.3" y="706.5" font-size="22.5" textLength="22.0" lengthAdjust="spacingAndGlyphs" font-weight="bold" fill="#262626" stroke="#262626" stroke-width="0.4">-2</text>
<text x="554.2" y="731.0" font-size="23" textLength="349.3" lengthAdjust="spacingAndGlyphs" font-weight="bold" fill="#262626" stroke="#262626" stroke-width="0.45">SAT-RAP 700 hPa Temp (K)</text>
<rect x="1037.6" y="486.3" width="232.3" height="212.3" fill="#fff" stroke="#262626" stroke-width="1.1"/>
<g clip-path="url(#swd2)" transform="translate(1037.6,486.3)"><g transform="translate(-1037.6,-486.3)"><g transform="translate(1037.6,486.3)" fill="none" stroke-linecap="round"><polygon points="120,26 132,26 132,76 122,76" fill="#000080" transform="scale(1)"/><polygon points="150,29 192,26 194,54 187,74 154,74" fill="#9e0000" transform="scale(1)"/><polygon points="194,49 212,44 214,84 162,84 162,76 187,74" fill="#fa0000" transform="scale(1)"/><polygon points="75,69 122,74 122,119 102,124 92,104" fill="#80ff80" transform="scale(1)"/><polygon points="122,72 162,74 202,84 202,114 122,119" fill="#fffa00" transform="scale(1)"/><polygon points="102,114 202,112 200,126 107,126" fill="#80ff80" transform="scale(1)"/><polygon points="107,126 177,126 184,154 122,156 112,144" fill="#fffa00" transform="scale(1)"/><polygon points="202,84 238,82 238,126 227,146 192,164 174,159 194,119" fill="#fa0000" transform="scale(1)"/><polygon points="177,126 194,119 174,159 192,164 167,172 162,154" fill="#0000c7" transform="scale(1)"/><polygon points="117,156 144,154 147,204 137,216 130,194" fill="#0080ff" transform="scale(1)"/><polygon points="144,154 167,159 172,204 147,204" fill="#0000c7" transform="scale(1)"/><polygon points="167,172 192,168 227,156 239,152 239,194 137,216 147,204 172,204" fill="#0000c7" transform="scale(1)"/><path stroke="#0060ff" stroke-width="7.8" d="M224.3 105.6h0M237.5 123.6h0M233.3 103.3h0M231.0 84.2h0M236.1 83.8h0M179.6 126.7h0M157.7 196.7h0M207.6 200.0h0M222.4 161.4h0"/><path stroke="#00bfff" stroke-width="7.8" d="M126.8 127.6h0M226.7 95.6h0M231.1 110.6h0M136.1 210.7h0M138.0 190.9h0M145.4 183.9h0M146.1 159.2h0"/><path stroke="#ff9f00" stroke-width="6.4" d="M108.4 87.1h0"/><path stroke="#00dfff" stroke-width="6.4" d="M103.7 113.3h0"/><path stroke="#00dfff" stroke-width="7.8" d="M83.0 27.5h0M205.8 40.0h0M104.7 53.2h0M130.1 146.9h0M155.0 133.4h0M190.5 128.7h0M201.7 126.9h0M204.0 110.4h0M208.8 84.0h0M218.3 102.8h0M223.1 101.8h0M229.0 104.0h0M231.9 100.7h0M131.6 197.1h0M124.5 173.4h0M132.0 187.6h0M129.7 172.7h0M144.5 194.2h0M136.6 160.6h0M152.3 197.5h0M153.9 177.3h0M154.9 156.8h0M175.0 203.3h0M179.1 175.7h0M239.2 153.4h0"/><path stroke="#0000bf" stroke-width="7.8" d="M88.8 30.0h0M86.1 11.8h0M94.0 28.5h0M125.7 52.5h0M132.1 66.3h0M127.9 31.8h0M131.2 41.6h0M176.7 166.8h0M171.6 142.4h0M174.1 147.9h0M173.5 138.0h0M178.5 146.5h0M180.3 136.7h0M180.9 131.0h0M131.1 161.5h0M134.6 172.9h0M143.6 189.7h0M147.0 173.3h0M148.7 178.4h0M149.4 168.1h0M163.6 200.8h0M159.4 181.7h0M157.7 162.5h0M165.8 179.3h0M166.8 184.4h0M156.1 206.8h0M163.5 209.3h0M171.0 193.8h0M176.1 192.3h0M175.2 176.7h0M190.6 199.7h0M184.3 174.7h0M187.9 169.6h0M194.0 183.4h0M198.8 182.3h0M205.5 196.3h0M199.4 171.9h0M207.2 165.7h0M217.8 187.5h0M213.5 169.0h0M220.3 182.9h0M237.1 182.5h0M238.8 188.1h0M239.4 179.2h0"/><path stroke="#20ffdf" stroke-width="7.8" d="M196.8 128.2h0M205.6 126.1h0M200.6 100.9h0M222.8 140.9h0M207.6 89.5h0M220.5 98.5h0M232.8 114.0h0M124.3 158.9h0M137.3 185.4h0M144.7 203.6h0M140.7 159.6h0M153.7 202.7h0"/><path stroke="#ff0000" stroke-width="6.8" d="M145.7 98.4h0M148.6 102.7h0M166.4 94.5h0"/><path stroke="#ffbf00" stroke-width="6.8" d="M125.6 79.0h0M131.5 91.5h0M138.3 104.9h0M149.9 107.6h0M161.0 96.0h0M162.2 99.5h0M166.4 110.0h0M169.3 104.1h0M177.7 111.4h0M181.2 105.6h0M192.8 83.4h0M194.3 87.9h0M151.3 122.8h0M168.0 124.5h0"/><path stroke="#00009f" stroke-width="7.8" d="M62.2 16.9h0M85.5 20.1h0M88.6 26.2h0M121.8 42.3h0M126.7 40.6h0M128.5 46.7h0M178.8 161.9h0M154.7 191.7h0M157.1 180.9h0M153.7 160.8h0M154.5 167.3h0M163.2 184.8h0M159.4 165.5h0M163.0 160.6h0M166.2 169.8h0M218.9 177.3h0"/><path stroke="#ff2000" stroke-width="6.8" d="M143.2 93.1h0M157.7 85.2h0M177.4 97.0h0M188.0 84.1h0"/><path stroke="#ffbf00" stroke-width="7.8" d="M66.7 25.7h0M71.2 15.1h0M76.2 13.9h0M80.5 22.0h0M79.9 8.3h0M84.9 7.8h0M91.6 0.2h0M169.3 2.8h0M190.3 19.0h0M200.3 15.7h0M199.6 1.3h0M213.1 18.5h0M222.5 27.1h0M79.8 57.5h0M88.6 52.0h0M96.4 67.3h0M142.2 64.8h0M141.4 49.6h0M139.8 34.5h0M145.9 46.9h0M154.2 30.7h0M159.4 45.3h0M164.3 53.8h0M166.4 58.0h0M167.9 38.4h0M172.5 46.6h0M198.5 71.3h0M208.8 58.5h0M110.6 125.8h0M132.5 142.0h0M134.4 145.5h0M132.9 131.2h0M145.8 143.9h0M143.5 128.7h0M150.1 146.1h0M150.5 132.9h0M161.1 145.4h0M193.5 158.7h0M190.2 140.3h0M193.5 122.0h0M167.0 193.9h0"/><path stroke="#ffdf00" stroke-width="6.8" d="M128.5 92.7h0M128.3 82.1h0M140.2 110.1h0M135.5 86.0h0M138.4 80.0h0M148.9 92.5h0M157.9 101.3h0M155.2 81.9h0M171.5 97.4h0M179.5 100.9h0M190.7 103.3h0M113.0 120.4h0"/><path stroke="#ff8000" stroke-width="6.8" d="M136.0 74.6h0M151.6 112.4h0M161.7 85.5h0M164.2 79.5h0M176.4 81.7h0M179.5 86.0h0M147.2 114.2h0M148.1 119.4h0M182.3 119.9h0"/><path stroke="#40ffbf" stroke-width="7.8" d="M212.9 30.0h0M107.5 46.3h0M117.1 128.9h0M156.5 146.0h0M194.4 137.2h0M210.1 149.5h0M140.2 210.5h0"/><path stroke="#009fff" stroke-width="7.8" d="M227.1 110.3h0M238.8 103.6h0M129.3 167.8h0M133.8 182.2h0M139.8 195.7h0M189.4 174.9h0"/><path stroke="#dfff20" stroke-width="7.8" d="M81.5 12.9h0M123.2 7.8h0M150.1 32.4h0M144.7 68.6h0M134.2 35.0h0M118.5 134.9h0M136.0 126.5h0M158.8 141.7h0M223.6 127.8h0"/><path stroke="#ff9f00" stroke-width="7.8" d="M62.3 6.1h0M71.0 24.4h0M79.6 18.0h0M83.3 17.6h0M119.1 -1.5h0M151.9 2.5h0M172.5 11.9h0M178.2 16.4h0M193.8 37.7h0M197.0 41.8h0M199.5 35.6h0M201.4 40.4h0M194.0 2.8h0M208.3 33.6h0M215.8 27.7h0M211.0 3.3h0M222.6 16.6h0M222.8 7.0h0M82.0 62.6h0M84.9 57.7h0M182.4 71.4h0M192.8 47.9h0M190.4 28.5h0M183.7 75.1h0M192.1 67.7h0M201.2 65.5h0M200.5 49.7h0M220.6 72.3h0M218.5 57.4h0M223.8 40.8h0M115.7 140.1h0M123.6 144.0h0M122.5 128.2h0M123.7 133.9h0M126.6 138.2h0M131.4 152.0h0M128.9 132.6h0M142.7 140.2h0M145.6 133.7h0M151.6 137.5h0M187.1 154.0h0M210.7 124.4h0M220.1 132.7h0M147.9 188.0h0M205.3 185.9h0M233.4 164.4h0"/><path stroke="#bf0000" stroke-width="7.8" d="M77.6 2.5h0M150.2 6.7h0M154.4 5.4h0M218.5 20.3h0M159.9 54.2h0M165.4 48.1h0M164.7 32.8h0M169.7 42.5h0M175.8 56.5h0M173.9 37.5h0M175.5 31.5h0M179.8 40.6h0M182.0 45.8h0M184.6 40.0h0M190.4 52.8h0M186.6 34.0h0M194.2 62.2h0M196.5 57.8h0M204.9 70.8h0M207.3 80.1h0M213.7 58.6h0M231.8 64.5h0M181.6 155.7h0M187.0 145.1h0M189.7 149.6h0M199.4 156.2h0M202.4 130.8h0M199.9 97.7h0M218.4 143.6h0M215.4 123.3h0M219.9 105.8h0M218.4 92.3h0M220.8 87.0h0"/><path stroke="#9f0000" stroke-width="7.8" d="M144.3 8.6h0M147.0 2.2h0M151.2 12.8h0M157.4 25.7h0M156.1 10.4h0M158.4 15.2h0M163.9 4.3h0M169.9 16.8h0M171.9 22.0h0M160.6 70.2h0M153.2 41.8h0M162.3 51.1h0M158.7 30.1h0M170.5 53.1h0M179.6 65.5h0M182.8 35.3h0M186.3 44.1h0M188.6 49.1h0M174.4 76.3h0M190.4 78.7h0M194.2 72.4h0M196.4 66.2h0M203.5 80.5h0M194.7 53.3h0M206.1 75.2h0M215.5 61.6h0M176.4 156.7h0M188.3 159.1h0M190.9 152.5h0M189.5 133.9h0M203.0 156.6h0M204.0 146.7h0M201.2 116.3h0M208.9 120.9h0M214.4 133.4h0M217.5 128.6h0M221.8 137.3h0M208.7 94.3h0M224.1 130.4h0M215.7 97.5h0M221.8 111.7h0M214.8 83.2h0"/><path stroke="#00ffff" stroke-width="7.8" d="M75.9 33.0h0M81.3 37.6h0M87.4 36.6h0M206.4 4.2h0M148.6 152.7h0M153.8 127.1h0M183.4 159.1h0M200.0 151.0h0M202.5 106.0h0M213.1 128.8h0M220.6 147.2h0M203.1 95.0h0M209.6 109.4h0M225.9 135.3h0M231.6 119.4h0M236.3 108.2h0M233.0 89.3h0M180.1 140.8h0M127.7 178.5h0M129.0 183.3h0M135.2 191.2h0M124.9 163.3h0M140.5 185.1h0M141.7 174.3h0M140.6 155.7h0M158.7 201.0h0M150.2 158.3h0M160.3 205.4h0M173.6 197.3h0M182.0 205.9h0M189.0 195.5h0M196.1 201.8h0M192.2 167.8h0M213.5 193.3h0M217.0 173.6h0M225.1 165.6h0M231.3 184.8h0M235.7 159.5h0M237.2 162.7h0"/><path stroke="#ffff00" stroke-width="6.4" d="M95.3 105.1h0M103.1 97.7h0M107.6 97.6h0M111.5 92.8h0M110.1 76.7h0"/><path stroke="#df0000" stroke-width="6.8" d="M185.2 90.4h0"/><path stroke="#00dfff" stroke-width="6.8" d="M118.2 121.1h0M120.8 124.0h0M137.6 114.7h0"/><path stroke="#9fff60" stroke-width="6.8" d="M124.5 73.1h0M163.8 103.8h0M176.9 105.8h0M188.8 109.6h0M181.7 80.5h0M190.8 89.5h0M139.4 120.4h0M162.2 123.9h0M166.9 119.8h0M175.9 116.9h0M184.2 113.4h0"/><path stroke="#ff8000" stroke-width="7.8" d="M67.8 6.6h0M72.9 17.9h0M174.4 16.3h0M198.5 31.7h0M191.5 7.6h0M202.9 20.6h0M218.5 31.9h0M221.1 36.4h0M89.9 65.7h0M90.7 55.9h0M136.5 40.0h0M138.7 44.5h0M164.9 68.5h0M161.1 34.9h0M176.2 71.1h0M175.8 41.3h0M196.2 77.3h0M192.3 57.0h0M225.0 45.2h0M228.9 55.6h0M127.2 153.4h0M138.8 130.3h0M149.8 142.8h0M185.6 139.5h0M207.4 129.3h0M230.4 130.1h0M231.8 134.0h0M170.0 153.0h0M188.7 124.6h0M150.5 182.7h0"/><path stroke="#60ff9f" stroke-width="6.4" d="M90.9 95.7h0M85.4 72.4h0M97.3 99.7h0M100.1 104.0h0M92.9 74.4h0M105.9 92.9h0M106.2 82.6h0M119.1 83.7h0M121.1 78.6h0"/><path stroke="#800000" stroke-width="7.8" d="M152.2 36.8h0M155.2 45.6h0M162.1 60.6h0M165.1 44.5h0M173.3 61.1h0M173.0 52.1h0M168.7 28.1h0M171.6 32.9h0M179.5 51.2h0M186.5 69.3h0M177.5 35.4h0M188.6 63.7h0M189.6 39.7h0M191.9 43.1h0M188.5 74.5h0M211.2 64.2h0M215.5 71.6h0M211.1 39.1h0M180.0 151.4h0M181.4 145.5h0M198.8 132.5h0M200.5 111.7h0M203.7 120.7h0M213.5 143.9h0M207.5 114.7h0M205.9 85.9h0M210.8 99.0h0M220.0 117.3h0M229.0 140.7h0M214.5 93.5h0M216.3 86.3h0M234.2 128.8h0M225.6 84.8h0"/><path stroke="#80ff80" stroke-width="7.8" d="M106.1 6.2h0M135.6 61.2h0M137.7 65.1h0M148.9 42.1h0M149.2 46.8h0M130.8 128.1h0M154.0 151.6h0M148.8 127.6h0M165.0 144.8h0"/><path stroke="#0080ff" stroke-width="7.8" d="M226.4 100.4h0M238.6 113.2h0M235.8 92.9h0M121.1 163.0h0M124.4 169.0h0M135.5 196.9h0M132.7 177.3h0M128.1 156.9h0M143.3 179.4h0M146.0 208.9h0M157.3 211.2h0M174.5 188.6h0M183.1 196.1h0M191.8 203.2h0M190.9 190.1h0M193.0 194.2h0M195.2 198.5h0M199.0 196.6h0M208.9 178.8h0M213.8 177.7h0M223.5 187.3h0M231.2 194.8h0"/><path stroke="#ffdf00" stroke-width="6.4" d="M87.0 77.4h0M104.0 88.0h0"/><path stroke="#60ff9f" stroke-width="6.8" d="M126.2 101.8h0M130.5 110.7h0M136.1 110.4h0M161.9 74.1h0M168.6 87.9h0M175.1 91.8h0M184.3 100.9h0M183.2 84.8h0M115.7 115.0h0M141.0 124.1h0M173.6 121.6h0M190.8 113.9h0"/><path stroke="#bfff40" stroke-width="7.8" d="M150.0 22.1h0M129.2 136.8h0M138.0 139.8h0M158.9 150.4h0"/><path stroke="#9fff60" stroke-width="7.8" d="M72.8 29.1h0M134.5 46.3h0M135.9 51.1h0M140.9 145.0h0M146.8 148.8h0M158.4 126.9h0"/><path stroke="#ff9f00" stroke-width="6.8" d="M128.8 106.9h0M122.6 82.8h0M126.4 88.1h0M133.8 81.7h0M139.1 94.0h0M142.4 104.0h0M141.8 88.2h0M145.2 84.0h0M147.1 88.1h0M146.7 73.6h0M147.6 77.2h0M149.6 83.6h0M151.5 87.1h0M153.4 91.3h0M166.7 83.7h0M170.1 93.8h0M173.1 86.7h0M182.0 94.6h0M188.0 94.6h0M193.0 107.6h0M197.0 82.9h0M133.0 117.0h0M142.1 113.9h0M145.4 122.9h0"/><path stroke="#df0000" stroke-width="7.8" d="M67.8 19.9h0M74.2 10.0h0M129.4 11.9h0M161.0 -1.1h0M165.8 8.6h0M197.1 6.2h0M205.2 25.3h0M210.9 13.9h0M155.7 70.9h0M162.5 65.1h0M157.4 36.3h0M168.5 63.6h0M169.8 67.7h0M163.9 40.4h0M182.0 56.5h0M187.2 59.8h0M180.8 30.0h0M208.8 69.6h0M212.6 53.8h0M217.6 41.0h0M221.8 51.3h0M233.9 69.1h0M143.1 153.3h0M147.6 138.2h0M165.3 129.8h0M169.3 128.1h0M171.5 132.0h0M174.7 127.1h0M192.8 143.2h0M193.5 133.3h0M196.8 142.6h0M220.1 121.5h0M212.2 89.6h0"/><path stroke="#0020ff" stroke-width="7.8" d="M197.2 116.7h0M209.6 134.8h0M219.9 83.8h0M221.9 91.4h0M232.8 124.6h0M227.7 91.4h0M185.3 125.6h0M186.6 129.2h0M136.6 200.8h0M142.6 199.7h0M162.1 196.4h0M162.9 164.6h0M167.4 158.9h0M167.8 174.1h0M180.0 201.3h0M173.0 172.5h0M181.3 180.4h0M191.7 179.4h0M200.5 186.0h0M207.4 190.3h0M224.5 181.1h0M234.7 189.3h0M230.8 155.5h0"/><path stroke="#dfff20" stroke-width="6.8" d="M130.9 76.4h0M141.9 99.6h0M140.5 73.4h0M156.0 96.0h0M159.8 105.5h0M159.3 90.4h0M174.2 102.4h0M186.2 104.5h0M191.8 94.1h0M168.9 115.3h0"/><path stroke="#40ffbf" stroke-width="6.8" d="M191.9 118.6h0"/><path stroke="#60ff9f" stroke-width="7.8" d="M60.8 1.7h0M138.8 54.3h0M139.8 60.5h0M143.8 53.1h0M146.7 63.1h0M156.7 136.2h0M162.1 135.0h0M169.0 138.0h0"/><path stroke="#000080" stroke-width="7.8" d="M88.4 15.7h0M92.1 23.7h0M91.9 11.1h0M94.0 14.6h0M95.2 19.0h0M83.1 1.0h0M102.8 46.9h0M123.8 58.6h0M125.3 62.4h0M127.5 67.8h0M129.5 70.6h0M123.8 48.0h0M127.1 57.6h0M129.1 62.1h0M121.4 29.3h0M123.0 33.0h0M125.0 38.2h0M131.1 51.2h0M129.9 36.3h0M164.9 154.3h0M168.5 149.8h0M186.7 164.6h0M147.3 199.3h0M148.7 203.1h0M149.6 192.8h0M146.0 169.0h0M148.1 162.8h0M158.4 187.4h0M158.7 190.9h0M162.7 175.2h0M166.1 204.4h0M170.7 204.0h0M170.1 178.4h0M170.8 184.0h0M178.2 196.9h0M177.8 185.2h0M182.3 191.8h0M185.4 201.0h0M184.0 184.6h0M185.6 189.6h0M183.1 170.4h0M185.8 180.3h0M188.3 183.7h0M195.9 188.0h0M194.4 173.4h0M196.9 177.6h0M203.1 192.6h0M197.6 166.8h0M200.8 177.0h0M203.6 181.2h0M211.4 199.7h0M202.6 166.1h0M205.1 170.8h0M208.9 169.6h0M211.8 174.6h0M218.8 192.7h0M211.7 163.8h0M224.7 192.0h0M226.1 196.2h0M217.5 162.5h0M219.6 168.1h0M221.6 171.9h0M222.8 175.4h0M226.0 185.8h0M229.0 190.3h0M228.1 175.7h0M230.1 180.5h0M226.3 159.8h0M228.4 166.1h0M230.9 170.4h0M234.2 175.2h0M235.6 179.0h0M232.2 159.9h0M237.9 173.8h0"/><path stroke="#dfff20" stroke-width="6.4" d="M78.4 69.3h0M82.8 77.4h0M98.0 114.0h0M94.5 89.4h0M109.5 101.8h0M111.8 107.8h0M111.1 81.5h0M122.3 108.2h0M120.3 74.1h0"/><path stroke="#ff6000" stroke-width="7.8" d="M159.6 21.0h0M194.7 12.6h0M206.0 29.9h0M217.2 17.2h0M224.4 20.8h0M92.9 64.6h0M157.2 50.6h0M172.9 72.9h0M227.1 65.3h0M112.5 132.6h0M225.8 146.5h0"/><path stroke="#80ff80" stroke-width="6.8" d="M129.5 97.2h0M130.7 86.2h0M142.0 79.1h0M153.0 101.7h0M157.8 76.8h0M166.9 98.3h0M171.1 108.4h0M172.1 82.7h0M180.8 90.5h0M193.7 98.1h0M200.2 87.0h0M110.5 115.4h0M124.8 122.0h0M127.0 118.0h0M160.4 120.4h0M171.1 117.4h0M173.1 113.2h0M176.7 122.1h0M195.2 113.1h0"/><path stroke="#bfff40" stroke-width="6.8" d="M156.6 111.0h0M161.8 110.8h0M195.6 103.9h0M105.1 117.4h0M122.9 118.5h0"/><path stroke="#ffff00" stroke-width="7.8" d="M72.5 3.7h0M87.0 1.0h0M138.5 10.1h0M147.0 17.5h0M164.5 19.7h0M196.5 15.7h0M200.9 26.1h0M217.1 36.7h0M220.9 11.1h0M141.7 38.8h0M143.9 43.3h0M151.9 61.8h0M151.6 51.5h0M122.4 153.5h0M125.9 148.2h0M127.5 143.0h0M136.2 151.8h0M135.3 136.1h0M140.9 135.0h0M162.4 150.2h0M165.4 139.4h0M167.1 133.7h0M196.0 152.8h0M201.5 141.6h0M215.9 148.2h0M198.9 194.0h0M210.9 183.7h0"/><path stroke="#0040ff" stroke-width="7.8" d="M216.0 113.1h0M225.8 121.7h0M227.7 125.9h0M228.7 114.7h0M168.4 164.3h0M183.8 134.8h0M139.3 205.6h0M136.7 175.3h0M138.2 164.8h0M139.5 170.1h0"/><path stroke="#ff6000" stroke-width="6.8" d="M122.7 93.2h0M124.5 98.6h0M137.6 90.5h0M155.3 106.1h0M163.7 89.4h0M185.6 79.7h0M159.3 116.0h0"/><path stroke="#9fff60" stroke-width="6.4" d="M92.7 99.7h0M102.2 109.3h0M99.7 78.6h0M117.5 93.3h0M120.6 99.5h0M122.4 104.0h0"/><path stroke="#0000df" stroke-width="7.8" d="M60.8 11.7h0M64.9 11.1h0M103.0 62.9h0M209.2 145.1h0M174.6 162.8h0M180.8 165.4h0M176.4 132.8h0M132.9 166.9h0M141.8 164.8h0M151.8 173.3h0M158.5 176.4h0M164.7 189.3h0M160.2 170.9h0M208.9 194.4h0M211.8 189.2h0M214.6 183.6h0M234.9 153.9h0"/><path stroke="#bfff40" stroke-width="6.4" d="M84.6 82.2h0M87.0 86.1h0M88.6 90.6h0M90.7 71.0h0M95.2 79.2h0M101.4 82.3h0M114.6 101.1h0M115.0 90.0h0M116.2 80.8h0"/><path stroke="#00bfff" stroke-width="6.4" d="M116.3 105.1h0"/><path stroke="#ffbf00" stroke-width="6.4" d="M97.3 84.8h0M105.3 78.0h0"/><path stroke="#40ffbf" stroke-width="6.4" d="M95.9 96.0h0M105.9 102.7h0M113.8 85.3h0"/><path stroke="#0000ff" stroke-width="7.8" d="M184.0 149.4h0M206.2 150.3h0M208.9 154.7h0M225.0 116.3h0M171.7 168.8h0M171.9 157.0h0M174.9 151.5h0M174.5 141.6h0M139.6 180.1h0M134.3 155.8h0M152.9 187.3h0M155.7 171.6h0M167.4 199.8h0M168.6 187.7h0M149.9 207.9h0M176.5 181.7h0M178.2 172.6h0M208.2 175.5h0M225.8 171.0h0M235.8 167.8h0"/><path stroke="#bf0000" stroke-width="6.8" d="M131.8 102.2h0M145.2 108.3h0"/><path stroke="#ffff00" stroke-width="6.8" d="M133.2 106.0h0M133.0 96.3h0M136.6 100.4h0M140.3 84.4h0M151.1 97.1h0M153.1 77.3h0M160.1 80.8h0M169.2 78.5h0M182.1 110.4h0M189.8 98.7h0M196.6 92.9h0M115.4 125.1h0M125.5 113.3h0M129.6 122.4h0M154.9 121.8h0M188.4 119.9h0"/><path stroke="#00ffff" stroke-width="6.8" d="M108.8 121.4h0M119.9 114.9h0M154.7 116.8h0M180.2 115.3h0"/><path stroke="#80ff80" stroke-width="6.4" d="M81.1 72.6h0M97.8 108.8h0M100.4 119.3h0M102.9 122.8h0M90.7 80.4h0M91.8 85.8h0M99.3 88.9h0M98.0 74.8h0M112.5 110.3h0M112.9 94.3h0M118.5 110.4h0M120.2 88.7h0"/><path stroke="#00bfff" stroke-width="6.8" d="M145.7 119.0h0"/><path stroke="#ff2000" stroke-width="7.8" d="M70.4 9.9h0M80.6 33.0h0M148.0 28.6h0M168.0 12.9h0M189.4 13.4h0M202.0 30.8h0M213.7 8.7h0M154.4 56.0h0M156.4 60.8h0M159.6 40.1h0M171.4 56.9h0M184.7 65.5h0M185.8 55.3h0M186.1 30.0h0M200.4 75.8h0M206.7 65.5h0M210.9 74.0h0M229.0 44.8h0M140.9 149.4h0M155.2 142.0h0M159.2 130.8h0M200.3 137.0h0M199.3 122.1h0M202.0 91.1h0M205.1 100.8h0M211.9 103.3h0M215.4 108.1h0"/><path stroke="#ff0000" stroke-width="7.8" d="M85.0 31.8h0M120.5 13.3h0M119.5 5.3h0M125.1 2.7h0M132.6 5.7h0M146.8 13.3h0M155.6 22.9h0M158.0 4.8h0M162.6 14.4h0M204.6 35.9h0M206.2 14.1h0M216.7 3.3h0M165.9 29.8h0M178.5 60.3h0M176.8 45.8h0M174.7 27.1h0M183.9 49.6h0M202.4 56.1h0M206.2 49.8h0M222.7 65.6h0M225.2 62.3h0M232.3 48.7h0M115.5 136.0h0M121.2 139.6h0M194.3 147.2h0M205.0 136.3h0M208.0 140.4h0M212.5 140.2h0M216.4 138.2h0M208.4 105.1h0M215.0 117.8h0"/><path stroke="#ffdf00" stroke-width="7.8" d="M63.9 21.1h0M78.2 28.0h0M89.2 6.0h0M123.0 -1.8h0M134.6 11.2h0M134.7 -0.6h0M142.5 14.9h0M145.4 -2.3h0M162.5 24.8h0M156.9 0.2h0M213.8 33.5h0M214.5 11.9h0M221.6 1.6h0M83.1 65.8h0M93.5 50.0h0M134.1 56.4h0M147.7 67.3h0M146.4 38.6h0M158.3 65.7h0M182.8 60.6h0M204.9 60.4h0M206.9 54.0h0M120.4 150.2h0M199.6 147.8h0M197.3 106.7h0M211.5 113.9h0"/><path stroke="#20ffdf" stroke-width="6.8" d="M135.1 119.8h0M164.6 114.2h0"/><path stroke="#00ffff" stroke-width="6.4" d="M100.5 93.2h0M106.8 106.6h0M108.9 112.1h0M103.3 73.2h0M115.0 75.0h0"/><path stroke="#ff4000" stroke-width="7.8" d="M193.6 21.3h0M174.4 68.2h0M179.0 75.2h0M200.0 62.2h0M212.9 79.1h0M220.5 61.6h0M118.6 144.5h0"/></g></g></g>
<use href="#map" x="1037.6" y="486.3"/>
<text x="1058.4" y="464.5" font-size="13.5" textLength="25.9" lengthAdjust="spacingAndGlyphs" font-weight="bold" fill="#262626" stroke="#262626" stroke-width="0.25">100</text>
<text x="1095.2" y="464.5" font-size="13.5" textLength="13.9" lengthAdjust="spacingAndGlyphs" font-weight="bold" fill="#262626" stroke="#262626" stroke-width="0.25">W</text>
<circle cx="1088.0" cy="451.8" r="1.5" fill="none" stroke="#262626" stroke-width="0.9"/>
<text x="1127.0" y="464.5" font-size="13.5" textLength="17.1" lengthAdjust="spacingAndGlyphs" font-weight="bold" fill="#262626" stroke="#262626" stroke-width="0.25">90</text>
<text x="1156.2" y="464.5" font-size="13.5" textLength="13.9" lengthAdjust="spacingAndGlyphs" font-weight="bold" fill="#262626" stroke="#262626" stroke-width="0.25">W</text>
<circle cx="1148.0" cy="451.8" r="1.5" fill="none" stroke="#262626" stroke-width="0.9"/>
<text x="1191.1" y="464.5" font-size="13.5" textLength="17.1" lengthAdjust="spacingAndGlyphs" font-weight="bold" fill="#262626" stroke="#262626" stroke-width="0.25">80</text>
<text x="1220.3" y="464.5" font-size="13.5" textLength="13.9" lengthAdjust="spacingAndGlyphs" font-weight="bold" fill="#262626" stroke="#262626" stroke-width="0.25">W</text>
<circle cx="1212.8" cy="451.8" r="1.5" fill="none" stroke="#262626" stroke-width="0.9"/>
<text x="1254.2" y="464.5" font-size="13.5" textLength="16.4" lengthAdjust="spacingAndGlyphs" font-weight="bold" fill="#262626" stroke="#262626" stroke-width="0.25">70</text>
<text x="1282.7" y="464.5" font-size="13.5" textLength="13.9" lengthAdjust="spacingAndGlyphs" font-weight="bold" fill="#262626" stroke="#262626" stroke-width="0.25">W</text>
<circle cx="1274.8" cy="451.8" r="1.5" fill="none" stroke="#262626" stroke-width="0.9"/>
<text x="988.9" y="502.5" font-size="13.5" textLength="17.7" lengthAdjust="spacingAndGlyphs" font-weight="bold" fill="#262626" stroke="#262626" stroke-width="0.25">48</text>
<text x="1018.5" y="502.5" font-size="13.5" textLength="10.0" lengthAdjust="spacingAndGlyphs" font-weight="bold" fill="#262626" stroke="#262626" stroke-width="0.25">N</text>
<circle cx="1011.0" cy="489.0" r="1.5" fill="none" stroke="#262626" stroke-width="0.9"/>
<text x="988.9" y="520.5" font-size="13.5" textLength="17.7" lengthAdjust="spacingAndGlyphs" font-weight="bold" fill="#262626" stroke="#262626" stroke-width="0.25">46</text>
<text x="1018.5" y="520.5" font-size="13.5" textLength="10.0" lengthAdjust="spacingAndGlyphs" font-weight="bold" fill="#262626" stroke="#262626" stroke-width="0.25">N</text>
<circle cx="1011.0" cy="507.0" r="1.5" fill="none" stroke="#262626" stroke-width="0.9"/>
<text x="988.9" y="537.2" font-size="13.5" textLength="17.7" lengthAdjust="spacingAndGlyphs" font-weight="bold" fill="#262626" stroke="#262626" stroke-width="0.25">44</text>
<text x="1018.5" y="537.2" font-size="13.5" textLength="10.0" lengthAdjust="spacingAndGlyphs" font-weight="bold" fill="#262626" stroke="#262626" stroke-width="0.25">N</text>
<circle cx="1011.0" cy="523.7" r="1.5" fill="none" stroke="#262626" stroke-width="0.9"/>
<text x="988.9" y="556.5" font-size="13.5" textLength="17.7" lengthAdjust="spacingAndGlyphs" font-weight="bold" fill="#262626" stroke="#262626" stroke-width="0.25">42</text>
<text x="1018.5" y="556.5" font-size="13.5" textLength="10.0" lengthAdjust="spacingAndGlyphs" font-weight="bold" fill="#262626" stroke="#262626" stroke-width="0.25">N</text>
<circle cx="1011.0" cy="543.0" r="1.5" fill="none" stroke="#262626" stroke-width="0.9"/>
<text x="988.9" y="572.5" font-size="13.5" textLength="17.7" lengthAdjust="spacingAndGlyphs" font-weight="bold" fill="#262626" stroke="#262626" stroke-width="0.25">40</text>
<text x="1018.5" y="572.5" font-size="13.5" textLength="10.0" lengthAdjust="spacingAndGlyphs" font-weight="bold" fill="#262626" stroke="#262626" stroke-width="0.25">N</text>
<circle cx="1011.0" cy="559.0" r="1.5" fill="none" stroke="#262626" stroke-width="0.9"/>
<text x="988.9" y="587.2" font-size="13.5" textLength="17.7" lengthAdjust="spacingAndGlyphs" font-weight="bold" fill="#262626" stroke="#262626" stroke-width="0.25">38</text>
<text x="1018.5" y="587.2" font-size="13.5" textLength="10.0" lengthAdjust="spacingAndGlyphs" font-weight="bold" fill="#262626" stroke="#262626" stroke-width="0.25">N</text>
<circle cx="1011.0" cy="573.7" r="1.5" fill="none" stroke="#262626" stroke-width="0.9"/>
<text x="988.9" y="604.1" font-size="13.5" textLength="17.7" lengthAdjust="spacingAndGlyphs" font-weight="bold" fill="#262626" stroke="#262626" stroke-width="0.25">36</text>
<text x="1018.5" y="604.1" font-size="13.5" textLength="10.0" lengthAdjust="spacingAndGlyphs" font-weight="bold" fill="#262626" stroke="#262626" stroke-width="0.25">N</text>
<circle cx="1011.0" cy="590.6" r="1.5" fill="none" stroke="#262626" stroke-width="0.9"/>
<text x="988.9" y="618.1" font-size="13.5" textLength="17.7" lengthAdjust="spacingAndGlyphs" font-weight="bold" fill="#262626" stroke="#262626" stroke-width="0.25">34</text>
<text x="1018.5" y="618.1" font-size="13.5" textLength="10.0" lengthAdjust="spacingAndGlyphs" font-weight="bold" fill="#262626" stroke="#262626" stroke-width="0.25">N</text>
<circle cx="1011.0" cy="604.6" r="1.5" fill="none" stroke="#262626" stroke-width="0.9"/>
<text x="988.9" y="635.2" font-size="13.5" textLength="17.7" lengthAdjust="spacingAndGlyphs" font-weight="bold" fill="#262626" stroke="#262626" stroke-width="0.25">32</text>
<text x="1018.5" y="635.2" font-size="13.5" textLength="10.0" lengthAdjust="spacingAndGlyphs" font-weight="bold" fill="#262626" stroke="#262626" stroke-width="0.25">N</text>
<circle cx="1011.0" cy="621.7" r="1.5" fill="none" stroke="#262626" stroke-width="0.9"/>
<text x="988.9" y="648.8" font-size="13.5" textLength="17.7" lengthAdjust="spacingAndGlyphs" font-weight="bold" fill="#262626" stroke="#262626" stroke-width="0.25">30</text>
<text x="1018.5" y="648.8" font-size="13.5" textLength="10.0" lengthAdjust="spacingAndGlyphs" font-weight="bold" fill="#262626" stroke="#262626" stroke-width="0.25">N</text>
<circle cx="1011.0" cy="635.3" r="1.5" fill="none" stroke="#262626" stroke-width="0.9"/>
<text x="988.9" y="662.0" font-size="13.5" textLength="17.7" lengthAdjust="spacingAndGlyphs" font-weight="bold" fill="#262626" stroke="#262626" stroke-width="0.25">28</text>
<text x="1018.5" y="662.0" font-size="13.5" textLength="10.0" lengthAdjust="spacingAndGlyphs" font-weight="bold" fill="#262626" stroke="#262626" stroke-width="0.25">N</text>
<circle cx="1011.0" cy="648.5" r="1.5" fill="none" stroke="#262626" stroke-width="0.9"/>
<text x="988.9" y="676.7" font-size="13.5" textLength="17.7" lengthAdjust="spacingAndGlyphs" font-weight="bold" fill="#262626" stroke="#262626" stroke-width="0.25">26</text>
<text x="1018.5" y="676.7" font-size="13.5" textLength="10.0" lengthAdjust="spacingAndGlyphs" font-weight="bold" fill="#262626" stroke="#262626" stroke-width="0.25">N</text>
<circle cx="1011.0" cy="663.2" r="1.5" fill="none" stroke="#262626" stroke-width="0.9"/>
<text x="988.9" y="690.5" font-size="13.5" textLength="17.7" lengthAdjust="spacingAndGlyphs" font-weight="bold" fill="#262626" stroke="#262626" stroke-width="0.25">24</text>
<text x="1018.5" y="690.5" font-size="13.5" textLength="10.0" lengthAdjust="spacingAndGlyphs" font-weight="bold" fill="#262626" stroke="#262626" stroke-width="0.25">N</text>
<circle cx="1011.0" cy="677.0" r="1.5" fill="none" stroke="#262626" stroke-width="0.9"/>
<text x="988.9" y="703.9" font-size="13.5" textLength="17.7" lengthAdjust="spacingAndGlyphs" font-weight="bold" fill="#262626" stroke="#262626" stroke-width="0.25">22</text>
<text x="1018.5" y="703.9" font-size="13.5" textLength="10.0" lengthAdjust="spacingAndGlyphs" font-weight="bold" fill="#262626" stroke="#262626" stroke-width="0.25">N</text>
<circle cx="1011.0" cy="690.4" r="1.5" fill="none" stroke="#262626" stroke-width="0.9"/>
<rect x="1285.4" y="484.9" width="23.6" height="215.3" fill="url(#jet)" stroke="#262626" stroke-width="0.8"/>
<path d="M1309.0,539.2h-3M1309.0,592.8h-3M1309.0,646.5h-3" stroke="#262626" stroke-width="0.9"/>
<text x="1317.0" y="493.5" font-size="22.5" textLength="13.0" lengthAdjust="spacingAndGlyphs" font-weight="bold" fill="#262626" stroke="#262626" stroke-width="0.4">2</text>
<text x="1317.0" y="547.0" font-size="22.5" textLength="13.0" lengthAdjust="spacingAndGlyphs" font-weight="bold" fill="#262626" stroke="#262626" stroke-width="0.4">1</text>
<text x="1317.0" y="600.0" font-size="22.5" textLength="13.0" lengthAdjust="spacingAndGlyphs" font-weight="bold" fill="#262626" stroke="#262626" stroke-width="0.4">0</text>
<text x="1317.0" y="654.5" font-size="22.5" textLength="22.0" lengthAdjust="spacingAndGlyphs" font-weight="bold" fill="#262626" stroke="#262626" stroke-width="0.4">-1</text>
<text x="1317.0" y="706.5" font-size="22.5" textLength="22.0" lengthAdjust="spacingAndGlyphs" font-weight="bold" fill="#262626" stroke="#262626" stroke-width="0.4">-2</text>
<text x="975.6" y="731.0" font-size="23" textLength="349.3" lengthAdjust="spacingAndGlyphs" font-weight="bold" fill="#262626" stroke="#262626" stroke-width="0.45">SAT-RAP 500 hPa Temp (K)</text>
<text x="591.0" y="27.0" font-size="22" textLength="317.0" lengthAdjust="spacingAndGlyphs" fill="#000" stroke="#000" stroke-width="0.3">IASI 2023-02-04 (021400 UTC)</text>
</svg></body></html>
